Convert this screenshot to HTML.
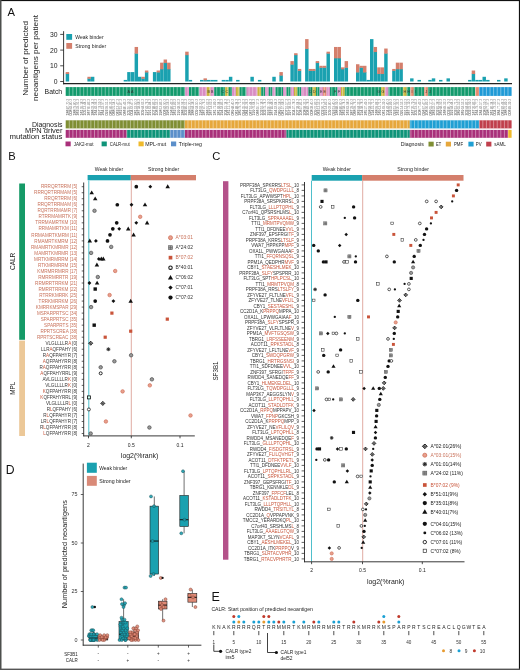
<!DOCTYPE html>
<html><head><meta charset="utf-8"><style>
html,body{margin:0;padding:0;background:#fff;}
svg{display:block;will-change:transform;}
text{font-family:"Liberation Sans", sans-serif;}
</style></head><body>
<svg width="520" height="670" viewBox="0 0 520 670">
<rect x="0" y="0" width="520" height="670" fill="#fff"/>
<text x="7.60" y="15.60" font-size="11.2" fill="#111" text-anchor="start" transform="scale(1,1)">A</text>
<text transform="translate(28.1,58.3) rotate(-90)" font-size="7" fill="#222" text-anchor="middle" textLength="75" lengthAdjust="spacingAndGlyphs">Number of predicted</text>
<text transform="translate(37.9,58.0) rotate(-90)" font-size="7" fill="#222" text-anchor="middle" textLength="86" lengthAdjust="spacingAndGlyphs">neoantigens per patient</text>
<line x1="60.20" y1="81.50" x2="63.60" y2="81.50" stroke="#222" stroke-width="0.8" />
<text x="57.60" y="83.90" font-size="6.8" fill="#222" text-anchor="end" >0</text>
<line x1="60.20" y1="65.80" x2="63.60" y2="65.80" stroke="#222" stroke-width="0.8" />
<text x="57.60" y="68.20" font-size="6.8" fill="#222" text-anchor="end" >10</text>
<line x1="60.20" y1="50.10" x2="63.60" y2="50.10" stroke="#222" stroke-width="0.8" />
<text x="57.60" y="52.50" font-size="6.8" fill="#222" text-anchor="end" >20</text>
<line x1="60.20" y1="34.40" x2="63.60" y2="34.40" stroke="#222" stroke-width="0.8" />
<text x="57.60" y="36.80" font-size="6.8" fill="#222" text-anchor="end" >30</text>
<line x1="63.60" y1="31.20" x2="63.60" y2="84.30" stroke="#222" stroke-width="0.9" />
<line x1="63.20" y1="83.70" x2="512.00" y2="83.70" stroke="#222" stroke-width="1.2" />
<rect x="66.30" y="34.00" width="5.80" height="5.80" fill="#1aa1b0" />
<rect x="66.30" y="43.00" width="5.80" height="5.80" fill="#d47f6c" />
<text x="75.30" y="38.70" font-size="5.0" fill="#222" text-anchor="start" textLength="28.3" lengthAdjust="spacingAndGlyphs">Weak binder</text>
<text x="75.30" y="47.70" font-size="5.0" fill="#222" text-anchor="start" textLength="30.8" lengthAdjust="spacingAndGlyphs">Strong binder</text>
<rect x="65.70" y="73.65" width="3.45" height="7.85" fill="#1aa1b0" />
<rect x="65.70" y="72.08" width="3.45" height="1.97" fill="#d47f6c" />
<rect x="87.40" y="78.36" width="3.45" height="3.14" fill="#1aa1b0" />
<rect x="87.40" y="76.79" width="3.45" height="1.97" fill="#d47f6c" />
<rect x="90.90" y="76.79" width="3.45" height="4.71" fill="#1aa1b0" />
<rect x="123.70" y="79.93" width="3.45" height="1.57" fill="#1aa1b0" />
<rect x="127.20" y="72.08" width="3.45" height="9.42" fill="#1aa1b0" />
<rect x="131.00" y="72.08" width="3.45" height="9.42" fill="#1aa1b0" />
<rect x="134.60" y="53.24" width="3.45" height="28.26" fill="#1aa1b0" />
<rect x="134.60" y="46.96" width="3.45" height="6.68" fill="#d47f6c" />
<rect x="138.00" y="76.79" width="3.45" height="4.71" fill="#1aa1b0" />
<rect x="141.40" y="78.36" width="3.45" height="3.14" fill="#1aa1b0" />
<rect x="141.40" y="76.79" width="3.45" height="1.97" fill="#d47f6c" />
<rect x="144.90" y="72.08" width="3.45" height="9.42" fill="#1aa1b0" />
<rect x="144.90" y="70.51" width="3.45" height="1.97" fill="#d47f6c" />
<rect x="152.90" y="72.08" width="3.45" height="9.42" fill="#1aa1b0" />
<rect x="156.60" y="72.08" width="3.45" height="9.42" fill="#1aa1b0" />
<rect x="156.60" y="70.51" width="3.45" height="1.97" fill="#d47f6c" />
<rect x="160.10" y="68.94" width="3.45" height="12.56" fill="#1aa1b0" />
<rect x="160.10" y="62.66" width="3.45" height="6.68" fill="#d47f6c" />
<rect x="163.60" y="62.66" width="3.45" height="18.84" fill="#1aa1b0" />
<rect x="163.60" y="59.52" width="3.45" height="3.54" fill="#d47f6c" />
<rect x="167.10" y="68.94" width="3.45" height="12.56" fill="#1aa1b0" />
<rect x="167.10" y="62.66" width="3.45" height="6.68" fill="#d47f6c" />
<rect x="185.20" y="54.81" width="3.45" height="26.69" fill="#1aa1b0" />
<rect x="185.20" y="51.67" width="3.45" height="3.54" fill="#d47f6c" />
<rect x="188.70" y="79.93" width="3.45" height="1.57" fill="#1aa1b0" />
<rect x="200.00" y="79.93" width="3.45" height="1.57" fill="#1aa1b0" />
<rect x="203.50" y="79.93" width="3.45" height="1.57" fill="#1aa1b0" />
<rect x="203.50" y="78.36" width="3.45" height="1.97" fill="#d47f6c" />
<rect x="207.00" y="79.93" width="3.45" height="1.57" fill="#1aa1b0" />
<rect x="210.50" y="79.93" width="3.45" height="1.57" fill="#1aa1b0" />
<rect x="214.00" y="79.93" width="3.45" height="1.57" fill="#1aa1b0" />
<rect x="221.70" y="79.93" width="3.45" height="1.57" fill="#1aa1b0" />
<rect x="225.30" y="79.93" width="3.45" height="1.57" fill="#1aa1b0" />
<rect x="228.90" y="76.79" width="3.45" height="4.71" fill="#1aa1b0" />
<rect x="236.10" y="79.93" width="3.45" height="1.57" fill="#1aa1b0" />
<rect x="250.40" y="76.79" width="3.45" height="4.71" fill="#1aa1b0" />
<rect x="257.90" y="79.93" width="3.45" height="1.57" fill="#1aa1b0" />
<rect x="272.30" y="76.79" width="3.45" height="4.71" fill="#1aa1b0" />
<rect x="279.40" y="75.22" width="3.45" height="6.28" fill="#1aa1b0" />
<rect x="279.40" y="72.08" width="3.45" height="3.54" fill="#d47f6c" />
<rect x="290.40" y="64.23" width="3.45" height="17.27" fill="#1aa1b0" />
<rect x="290.40" y="61.09" width="3.45" height="3.54" fill="#d47f6c" />
<rect x="294.10" y="54.81" width="3.45" height="26.69" fill="#1aa1b0" />
<rect x="294.10" y="53.24" width="3.45" height="1.97" fill="#d47f6c" />
<rect x="297.80" y="70.51" width="3.45" height="10.99" fill="#1aa1b0" />
<rect x="297.80" y="68.94" width="3.45" height="1.97" fill="#d47f6c" />
<rect x="305.10" y="48.53" width="3.45" height="32.97" fill="#1aa1b0" />
<rect x="305.10" y="39.11" width="3.45" height="9.82" fill="#d47f6c" />
<rect x="308.60" y="70.51" width="3.45" height="10.99" fill="#1aa1b0" />
<rect x="308.60" y="68.94" width="3.45" height="1.97" fill="#d47f6c" />
<rect x="312.10" y="70.51" width="3.45" height="10.99" fill="#1aa1b0" />
<rect x="312.10" y="68.94" width="3.45" height="1.97" fill="#d47f6c" />
<rect x="315.70" y="62.66" width="3.45" height="18.84" fill="#1aa1b0" />
<rect x="315.70" y="61.09" width="3.45" height="1.97" fill="#d47f6c" />
<rect x="319.30" y="67.37" width="3.45" height="14.13" fill="#1aa1b0" />
<rect x="319.30" y="65.80" width="3.45" height="1.97" fill="#d47f6c" />
<rect x="322.90" y="67.37" width="3.45" height="14.13" fill="#1aa1b0" />
<rect x="322.90" y="65.80" width="3.45" height="1.97" fill="#d47f6c" />
<rect x="326.50" y="53.24" width="3.45" height="28.26" fill="#1aa1b0" />
<rect x="326.50" y="51.67" width="3.45" height="1.97" fill="#d47f6c" />
<rect x="334.00" y="57.95" width="3.45" height="23.55" fill="#1aa1b0" />
<rect x="334.00" y="46.96" width="3.45" height="11.39" fill="#d47f6c" />
<rect x="337.50" y="57.95" width="3.45" height="23.55" fill="#1aa1b0" />
<rect x="337.50" y="46.96" width="3.45" height="11.39" fill="#d47f6c" />
<rect x="341.00" y="68.94" width="3.45" height="12.56" fill="#1aa1b0" />
<rect x="341.00" y="67.37" width="3.45" height="1.97" fill="#d47f6c" />
<rect x="344.60" y="67.37" width="3.45" height="14.13" fill="#1aa1b0" />
<rect x="344.60" y="61.09" width="3.45" height="6.68" fill="#d47f6c" />
<rect x="356.00" y="72.08" width="3.45" height="9.42" fill="#1aa1b0" />
<rect x="356.00" y="64.23" width="3.45" height="8.25" fill="#d47f6c" />
<rect x="359.50" y="67.37" width="3.45" height="14.13" fill="#1aa1b0" />
<rect x="359.50" y="65.80" width="3.45" height="1.97" fill="#d47f6c" />
<rect x="363.00" y="72.08" width="3.45" height="9.42" fill="#1aa1b0" />
<rect x="363.00" y="65.80" width="3.45" height="6.68" fill="#d47f6c" />
<rect x="366.50" y="79.93" width="3.45" height="1.57" fill="#1aa1b0" />
<rect x="370.00" y="39.11" width="3.45" height="42.39" fill="#1aa1b0" />
<rect x="373.60" y="51.67" width="3.45" height="29.83" fill="#1aa1b0" />
<rect x="373.60" y="46.96" width="3.45" height="5.11" fill="#d47f6c" />
<rect x="377.20" y="73.65" width="3.45" height="7.85" fill="#1aa1b0" />
<rect x="377.20" y="67.37" width="3.45" height="6.68" fill="#d47f6c" />
<rect x="380.70" y="73.65" width="3.45" height="7.85" fill="#1aa1b0" />
<rect x="380.70" y="67.37" width="3.45" height="6.68" fill="#d47f6c" />
<rect x="384.20" y="53.24" width="3.45" height="28.26" fill="#1aa1b0" />
<rect x="384.20" y="48.53" width="3.45" height="5.11" fill="#d47f6c" />
<rect x="392.20" y="70.51" width="3.45" height="10.99" fill="#1aa1b0" />
<rect x="392.20" y="68.94" width="3.45" height="1.97" fill="#d47f6c" />
<rect x="395.80" y="68.94" width="3.45" height="12.56" fill="#1aa1b0" />
<rect x="395.80" y="62.66" width="3.45" height="6.68" fill="#d47f6c" />
<rect x="399.40" y="68.94" width="3.45" height="12.56" fill="#1aa1b0" />
<rect x="399.40" y="62.66" width="3.45" height="6.68" fill="#d47f6c" />
<rect x="410.10" y="78.36" width="3.45" height="3.14" fill="#1aa1b0" />
<rect x="417.50" y="79.93" width="3.45" height="1.57" fill="#1aa1b0" />
<rect x="428.30" y="79.93" width="3.45" height="1.57" fill="#1aa1b0" />
<rect x="431.80" y="78.36" width="3.45" height="3.14" fill="#1aa1b0" />
<rect x="439.00" y="79.93" width="3.45" height="1.57" fill="#1aa1b0" />
<rect x="446.50" y="78.36" width="3.45" height="3.14" fill="#1aa1b0" />
<rect x="468.10" y="79.93" width="3.45" height="1.57" fill="#1aa1b0" />
<rect x="471.70" y="73.65" width="3.45" height="7.85" fill="#1aa1b0" />
<rect x="471.70" y="70.51" width="3.45" height="3.54" fill="#d47f6c" />
<rect x="475.30" y="79.93" width="3.45" height="1.57" fill="#1aa1b0" />
<rect x="478.90" y="79.93" width="3.45" height="1.57" fill="#1aa1b0" />
<rect x="482.50" y="76.79" width="3.45" height="4.71" fill="#1aa1b0" />
<rect x="486.10" y="79.93" width="3.45" height="1.57" fill="#1aa1b0" />
<rect x="497.00" y="79.93" width="3.45" height="1.57" fill="#1aa1b0" />
<rect x="504.20" y="78.36" width="3.45" height="3.14" fill="#1aa1b0" />
<rect x="65.70" y="87.10" width="119.50" height="8.80" fill="#129a6c" />
<rect x="185.20" y="87.10" width="3.80" height="8.80" fill="#d98cc3" />
<rect x="189.00" y="87.10" width="10.40" height="8.80" fill="#129a6c" />
<rect x="199.40" y="87.10" width="7.30" height="8.80" fill="#d98cc3" />
<rect x="206.70" y="87.10" width="3.80" height="8.80" fill="#c9b53a" />
<rect x="210.50" y="87.10" width="3.70" height="8.80" fill="#d98cc3" />
<rect x="214.20" y="87.10" width="11.00" height="8.80" fill="#129a6c" />
<rect x="225.20" y="87.10" width="3.40" height="8.80" fill="#c9b53a" />
<rect x="228.60" y="87.10" width="3.50" height="8.80" fill="#129a6c" />
<rect x="232.10" y="87.10" width="3.80" height="8.80" fill="#d98cc3" />
<rect x="235.90" y="87.10" width="3.70" height="8.80" fill="#c9b53a" />
<rect x="239.60" y="87.10" width="6.90" height="8.80" fill="#129a6c" />
<rect x="246.50" y="87.10" width="11.00" height="8.80" fill="#d98cc3" />
<rect x="257.50" y="87.10" width="3.70" height="8.80" fill="#c9b53a" />
<rect x="261.20" y="87.10" width="4.00" height="8.80" fill="#129a6c" />
<rect x="265.20" y="87.10" width="3.50" height="8.80" fill="#d98cc3" />
<rect x="268.70" y="87.10" width="3.80" height="8.80" fill="#129a6c" />
<rect x="272.50" y="87.10" width="3.10" height="8.80" fill="#d98cc3" />
<rect x="275.60" y="87.10" width="7.40" height="8.80" fill="#129a6c" />
<rect x="283.00" y="87.10" width="3.50" height="8.80" fill="#d98cc3" />
<rect x="286.50" y="87.10" width="4.10" height="8.80" fill="#129a6c" />
<rect x="290.60" y="87.10" width="3.40" height="8.80" fill="#d98cc3" />
<rect x="294.00" y="87.10" width="3.50" height="8.80" fill="#c9b53a" />
<rect x="297.50" y="87.10" width="3.80" height="8.80" fill="#129a6c" />
<rect x="301.30" y="87.10" width="7.10" height="8.80" fill="#d98cc3" />
<rect x="308.40" y="87.10" width="4.10" height="8.80" fill="#0e8a5e" />
<rect x="312.50" y="87.10" width="3.50" height="8.80" fill="#c9b53a" />
<rect x="316.00" y="87.10" width="3.60" height="8.80" fill="#129a6c" />
<rect x="319.60" y="87.10" width="3.50" height="8.80" fill="#d98cc3" />
<rect x="323.10" y="87.10" width="3.40" height="8.80" fill="#e58a6e" />
<rect x="326.50" y="87.10" width="3.50" height="8.80" fill="#d98cc3" />
<rect x="330.00" y="87.10" width="7.50" height="8.80" fill="#129a6c" />
<rect x="337.50" y="87.10" width="3.50" height="8.80" fill="#d98cc3" />
<rect x="341.00" y="87.10" width="3.80" height="8.80" fill="#c9b53a" />
<rect x="344.80" y="87.10" width="36.20" height="8.80" fill="#129a6c" />
<rect x="381.00" y="87.10" width="3.80" height="8.80" fill="#c9b53a" />
<rect x="384.80" y="87.10" width="3.70" height="8.80" fill="#d98cc3" />
<rect x="388.50" y="87.10" width="14.40" height="8.80" fill="#129a6c" />
<rect x="402.90" y="87.10" width="3.80" height="8.80" fill="#c9b53a" />
<rect x="406.70" y="87.10" width="3.70" height="8.80" fill="#129a6c" />
<rect x="410.40" y="87.10" width="3.40" height="8.80" fill="#e58a6e" />
<rect x="413.80" y="87.10" width="10.40" height="8.80" fill="#129a6c" />
<rect x="424.20" y="87.10" width="3.70" height="8.80" fill="#e58a6e" />
<rect x="427.90" y="87.10" width="47.30" height="8.80" fill="#129a6c" />
<rect x="475.20" y="87.10" width="3.80" height="8.80" fill="#e58a6e" />
<rect x="479.00" y="87.10" width="32.60" height="8.80" fill="#1f9ad6" />
<rect x="65.70" y="120.30" width="119.20" height="8.10" fill="#7f8e33" />
<rect x="184.90" y="120.30" width="224.90" height="8.10" fill="#e6a73b" />
<rect x="409.80" y="120.30" width="69.40" height="8.10" fill="#1f9fd3" />
<rect x="479.20" y="120.30" width="32.40" height="8.10" fill="#c03f4c" />
<rect x="65.70" y="129.90" width="61.10" height="7.90" fill="#a9307a" />
<rect x="126.80" y="129.90" width="43.30" height="7.90" fill="#0f9479" />
<rect x="170.10" y="129.90" width="14.90" height="7.90" fill="#5b8fca" />
<rect x="185.00" y="129.90" width="101.50" height="7.90" fill="#a9307a" />
<rect x="286.50" y="129.90" width="123.30" height="7.90" fill="#0f9479" />
<rect x="409.80" y="129.90" width="98.20" height="7.90" fill="#a9307a" />
<rect x="508.00" y="129.90" width="3.60" height="7.90" fill="#efba2c" />
<line x1="69.30" y1="87.10" x2="69.30" y2="95.90" stroke="#ffffff" stroke-width="0.55" stroke-opacity="0.75"/>
<line x1="69.30" y1="120.30" x2="69.30" y2="128.40" stroke="#ffffff" stroke-width="0.55" stroke-opacity="0.75"/>
<line x1="69.30" y1="129.90" x2="69.30" y2="137.80" stroke="#ffffff" stroke-width="0.55" stroke-opacity="0.75"/>
<line x1="72.89" y1="87.10" x2="72.89" y2="95.90" stroke="#ffffff" stroke-width="0.55" stroke-opacity="0.75"/>
<line x1="72.89" y1="120.30" x2="72.89" y2="128.40" stroke="#ffffff" stroke-width="0.55" stroke-opacity="0.75"/>
<line x1="72.89" y1="129.90" x2="72.89" y2="137.80" stroke="#ffffff" stroke-width="0.55" stroke-opacity="0.75"/>
<line x1="76.49" y1="87.10" x2="76.49" y2="95.90" stroke="#ffffff" stroke-width="0.55" stroke-opacity="0.75"/>
<line x1="76.49" y1="120.30" x2="76.49" y2="128.40" stroke="#ffffff" stroke-width="0.55" stroke-opacity="0.75"/>
<line x1="76.49" y1="129.90" x2="76.49" y2="137.80" stroke="#ffffff" stroke-width="0.55" stroke-opacity="0.75"/>
<line x1="80.08" y1="87.10" x2="80.08" y2="95.90" stroke="#ffffff" stroke-width="0.55" stroke-opacity="0.75"/>
<line x1="80.08" y1="120.30" x2="80.08" y2="128.40" stroke="#ffffff" stroke-width="0.55" stroke-opacity="0.75"/>
<line x1="80.08" y1="129.90" x2="80.08" y2="137.80" stroke="#ffffff" stroke-width="0.55" stroke-opacity="0.75"/>
<line x1="83.68" y1="87.10" x2="83.68" y2="95.90" stroke="#ffffff" stroke-width="0.55" stroke-opacity="0.75"/>
<line x1="83.68" y1="120.30" x2="83.68" y2="128.40" stroke="#ffffff" stroke-width="0.55" stroke-opacity="0.75"/>
<line x1="83.68" y1="129.90" x2="83.68" y2="137.80" stroke="#ffffff" stroke-width="0.55" stroke-opacity="0.75"/>
<line x1="87.28" y1="87.10" x2="87.28" y2="95.90" stroke="#ffffff" stroke-width="0.55" stroke-opacity="0.75"/>
<line x1="87.28" y1="120.30" x2="87.28" y2="128.40" stroke="#ffffff" stroke-width="0.55" stroke-opacity="0.75"/>
<line x1="87.28" y1="129.90" x2="87.28" y2="137.80" stroke="#ffffff" stroke-width="0.55" stroke-opacity="0.75"/>
<line x1="90.87" y1="87.10" x2="90.87" y2="95.90" stroke="#ffffff" stroke-width="0.55" stroke-opacity="0.75"/>
<line x1="90.87" y1="120.30" x2="90.87" y2="128.40" stroke="#ffffff" stroke-width="0.55" stroke-opacity="0.75"/>
<line x1="90.87" y1="129.90" x2="90.87" y2="137.80" stroke="#ffffff" stroke-width="0.55" stroke-opacity="0.75"/>
<line x1="94.47" y1="87.10" x2="94.47" y2="95.90" stroke="#ffffff" stroke-width="0.55" stroke-opacity="0.75"/>
<line x1="94.47" y1="120.30" x2="94.47" y2="128.40" stroke="#ffffff" stroke-width="0.55" stroke-opacity="0.75"/>
<line x1="94.47" y1="129.90" x2="94.47" y2="137.80" stroke="#ffffff" stroke-width="0.55" stroke-opacity="0.75"/>
<line x1="98.06" y1="87.10" x2="98.06" y2="95.90" stroke="#ffffff" stroke-width="0.55" stroke-opacity="0.75"/>
<line x1="98.06" y1="120.30" x2="98.06" y2="128.40" stroke="#ffffff" stroke-width="0.55" stroke-opacity="0.75"/>
<line x1="98.06" y1="129.90" x2="98.06" y2="137.80" stroke="#ffffff" stroke-width="0.55" stroke-opacity="0.75"/>
<line x1="101.66" y1="87.10" x2="101.66" y2="95.90" stroke="#ffffff" stroke-width="0.55" stroke-opacity="0.75"/>
<line x1="101.66" y1="120.30" x2="101.66" y2="128.40" stroke="#ffffff" stroke-width="0.55" stroke-opacity="0.75"/>
<line x1="101.66" y1="129.90" x2="101.66" y2="137.80" stroke="#ffffff" stroke-width="0.55" stroke-opacity="0.75"/>
<line x1="105.26" y1="87.10" x2="105.26" y2="95.90" stroke="#ffffff" stroke-width="0.55" stroke-opacity="0.75"/>
<line x1="105.26" y1="120.30" x2="105.26" y2="128.40" stroke="#ffffff" stroke-width="0.55" stroke-opacity="0.75"/>
<line x1="105.26" y1="129.90" x2="105.26" y2="137.80" stroke="#ffffff" stroke-width="0.55" stroke-opacity="0.75"/>
<line x1="108.85" y1="87.10" x2="108.85" y2="95.90" stroke="#ffffff" stroke-width="0.55" stroke-opacity="0.75"/>
<line x1="108.85" y1="120.30" x2="108.85" y2="128.40" stroke="#ffffff" stroke-width="0.55" stroke-opacity="0.75"/>
<line x1="108.85" y1="129.90" x2="108.85" y2="137.80" stroke="#ffffff" stroke-width="0.55" stroke-opacity="0.75"/>
<line x1="112.45" y1="87.10" x2="112.45" y2="95.90" stroke="#ffffff" stroke-width="0.55" stroke-opacity="0.75"/>
<line x1="112.45" y1="120.30" x2="112.45" y2="128.40" stroke="#ffffff" stroke-width="0.55" stroke-opacity="0.75"/>
<line x1="112.45" y1="129.90" x2="112.45" y2="137.80" stroke="#ffffff" stroke-width="0.55" stroke-opacity="0.75"/>
<line x1="116.04" y1="87.10" x2="116.04" y2="95.90" stroke="#ffffff" stroke-width="0.55" stroke-opacity="0.75"/>
<line x1="116.04" y1="120.30" x2="116.04" y2="128.40" stroke="#ffffff" stroke-width="0.55" stroke-opacity="0.75"/>
<line x1="116.04" y1="129.90" x2="116.04" y2="137.80" stroke="#ffffff" stroke-width="0.55" stroke-opacity="0.75"/>
<line x1="119.64" y1="87.10" x2="119.64" y2="95.90" stroke="#ffffff" stroke-width="0.55" stroke-opacity="0.75"/>
<line x1="119.64" y1="120.30" x2="119.64" y2="128.40" stroke="#ffffff" stroke-width="0.55" stroke-opacity="0.75"/>
<line x1="119.64" y1="129.90" x2="119.64" y2="137.80" stroke="#ffffff" stroke-width="0.55" stroke-opacity="0.75"/>
<line x1="123.24" y1="87.10" x2="123.24" y2="95.90" stroke="#ffffff" stroke-width="0.55" stroke-opacity="0.75"/>
<line x1="123.24" y1="120.30" x2="123.24" y2="128.40" stroke="#ffffff" stroke-width="0.55" stroke-opacity="0.75"/>
<line x1="123.24" y1="129.90" x2="123.24" y2="137.80" stroke="#ffffff" stroke-width="0.55" stroke-opacity="0.75"/>
<line x1="126.83" y1="87.10" x2="126.83" y2="95.90" stroke="#ffffff" stroke-width="0.55" stroke-opacity="0.75"/>
<line x1="126.83" y1="120.30" x2="126.83" y2="128.40" stroke="#ffffff" stroke-width="0.55" stroke-opacity="0.75"/>
<line x1="126.83" y1="129.90" x2="126.83" y2="137.80" stroke="#ffffff" stroke-width="0.55" stroke-opacity="0.75"/>
<line x1="130.43" y1="87.10" x2="130.43" y2="95.90" stroke="#ffffff" stroke-width="0.55" stroke-opacity="0.75"/>
<line x1="130.43" y1="120.30" x2="130.43" y2="128.40" stroke="#ffffff" stroke-width="0.55" stroke-opacity="0.75"/>
<line x1="130.43" y1="129.90" x2="130.43" y2="137.80" stroke="#ffffff" stroke-width="0.55" stroke-opacity="0.75"/>
<line x1="134.02" y1="87.10" x2="134.02" y2="95.90" stroke="#ffffff" stroke-width="0.55" stroke-opacity="0.75"/>
<line x1="134.02" y1="120.30" x2="134.02" y2="128.40" stroke="#ffffff" stroke-width="0.55" stroke-opacity="0.75"/>
<line x1="134.02" y1="129.90" x2="134.02" y2="137.80" stroke="#ffffff" stroke-width="0.55" stroke-opacity="0.75"/>
<line x1="137.62" y1="87.10" x2="137.62" y2="95.90" stroke="#ffffff" stroke-width="0.55" stroke-opacity="0.75"/>
<line x1="137.62" y1="120.30" x2="137.62" y2="128.40" stroke="#ffffff" stroke-width="0.55" stroke-opacity="0.75"/>
<line x1="137.62" y1="129.90" x2="137.62" y2="137.80" stroke="#ffffff" stroke-width="0.55" stroke-opacity="0.75"/>
<line x1="141.22" y1="87.10" x2="141.22" y2="95.90" stroke="#ffffff" stroke-width="0.55" stroke-opacity="0.75"/>
<line x1="141.22" y1="120.30" x2="141.22" y2="128.40" stroke="#ffffff" stroke-width="0.55" stroke-opacity="0.75"/>
<line x1="141.22" y1="129.90" x2="141.22" y2="137.80" stroke="#ffffff" stroke-width="0.55" stroke-opacity="0.75"/>
<line x1="144.81" y1="87.10" x2="144.81" y2="95.90" stroke="#ffffff" stroke-width="0.55" stroke-opacity="0.75"/>
<line x1="144.81" y1="120.30" x2="144.81" y2="128.40" stroke="#ffffff" stroke-width="0.55" stroke-opacity="0.75"/>
<line x1="144.81" y1="129.90" x2="144.81" y2="137.80" stroke="#ffffff" stroke-width="0.55" stroke-opacity="0.75"/>
<line x1="148.41" y1="87.10" x2="148.41" y2="95.90" stroke="#ffffff" stroke-width="0.55" stroke-opacity="0.75"/>
<line x1="148.41" y1="120.30" x2="148.41" y2="128.40" stroke="#ffffff" stroke-width="0.55" stroke-opacity="0.75"/>
<line x1="148.41" y1="129.90" x2="148.41" y2="137.80" stroke="#ffffff" stroke-width="0.55" stroke-opacity="0.75"/>
<line x1="152.00" y1="87.10" x2="152.00" y2="95.90" stroke="#ffffff" stroke-width="0.55" stroke-opacity="0.75"/>
<line x1="152.00" y1="120.30" x2="152.00" y2="128.40" stroke="#ffffff" stroke-width="0.55" stroke-opacity="0.75"/>
<line x1="152.00" y1="129.90" x2="152.00" y2="137.80" stroke="#ffffff" stroke-width="0.55" stroke-opacity="0.75"/>
<line x1="155.60" y1="87.10" x2="155.60" y2="95.90" stroke="#ffffff" stroke-width="0.55" stroke-opacity="0.75"/>
<line x1="155.60" y1="120.30" x2="155.60" y2="128.40" stroke="#ffffff" stroke-width="0.55" stroke-opacity="0.75"/>
<line x1="155.60" y1="129.90" x2="155.60" y2="137.80" stroke="#ffffff" stroke-width="0.55" stroke-opacity="0.75"/>
<line x1="159.20" y1="87.10" x2="159.20" y2="95.90" stroke="#ffffff" stroke-width="0.55" stroke-opacity="0.75"/>
<line x1="159.20" y1="120.30" x2="159.20" y2="128.40" stroke="#ffffff" stroke-width="0.55" stroke-opacity="0.75"/>
<line x1="159.20" y1="129.90" x2="159.20" y2="137.80" stroke="#ffffff" stroke-width="0.55" stroke-opacity="0.75"/>
<line x1="162.79" y1="87.10" x2="162.79" y2="95.90" stroke="#ffffff" stroke-width="0.55" stroke-opacity="0.75"/>
<line x1="162.79" y1="120.30" x2="162.79" y2="128.40" stroke="#ffffff" stroke-width="0.55" stroke-opacity="0.75"/>
<line x1="162.79" y1="129.90" x2="162.79" y2="137.80" stroke="#ffffff" stroke-width="0.55" stroke-opacity="0.75"/>
<line x1="166.39" y1="87.10" x2="166.39" y2="95.90" stroke="#ffffff" stroke-width="0.55" stroke-opacity="0.75"/>
<line x1="166.39" y1="120.30" x2="166.39" y2="128.40" stroke="#ffffff" stroke-width="0.55" stroke-opacity="0.75"/>
<line x1="166.39" y1="129.90" x2="166.39" y2="137.80" stroke="#ffffff" stroke-width="0.55" stroke-opacity="0.75"/>
<line x1="169.98" y1="87.10" x2="169.98" y2="95.90" stroke="#ffffff" stroke-width="0.55" stroke-opacity="0.75"/>
<line x1="169.98" y1="120.30" x2="169.98" y2="128.40" stroke="#ffffff" stroke-width="0.55" stroke-opacity="0.75"/>
<line x1="169.98" y1="129.90" x2="169.98" y2="137.80" stroke="#ffffff" stroke-width="0.55" stroke-opacity="0.75"/>
<line x1="173.58" y1="87.10" x2="173.58" y2="95.90" stroke="#ffffff" stroke-width="0.55" stroke-opacity="0.75"/>
<line x1="173.58" y1="120.30" x2="173.58" y2="128.40" stroke="#ffffff" stroke-width="0.55" stroke-opacity="0.75"/>
<line x1="173.58" y1="129.90" x2="173.58" y2="137.80" stroke="#ffffff" stroke-width="0.55" stroke-opacity="0.75"/>
<line x1="177.18" y1="87.10" x2="177.18" y2="95.90" stroke="#ffffff" stroke-width="0.55" stroke-opacity="0.75"/>
<line x1="177.18" y1="120.30" x2="177.18" y2="128.40" stroke="#ffffff" stroke-width="0.55" stroke-opacity="0.75"/>
<line x1="177.18" y1="129.90" x2="177.18" y2="137.80" stroke="#ffffff" stroke-width="0.55" stroke-opacity="0.75"/>
<line x1="180.77" y1="87.10" x2="180.77" y2="95.90" stroke="#ffffff" stroke-width="0.55" stroke-opacity="0.75"/>
<line x1="180.77" y1="120.30" x2="180.77" y2="128.40" stroke="#ffffff" stroke-width="0.55" stroke-opacity="0.75"/>
<line x1="180.77" y1="129.90" x2="180.77" y2="137.80" stroke="#ffffff" stroke-width="0.55" stroke-opacity="0.75"/>
<line x1="184.37" y1="87.10" x2="184.37" y2="95.90" stroke="#ffffff" stroke-width="0.55" stroke-opacity="0.75"/>
<line x1="184.37" y1="120.30" x2="184.37" y2="128.40" stroke="#ffffff" stroke-width="0.55" stroke-opacity="0.75"/>
<line x1="184.37" y1="129.90" x2="184.37" y2="137.80" stroke="#ffffff" stroke-width="0.55" stroke-opacity="0.75"/>
<line x1="187.96" y1="87.10" x2="187.96" y2="95.90" stroke="#ffffff" stroke-width="0.55" stroke-opacity="0.75"/>
<line x1="187.96" y1="120.30" x2="187.96" y2="128.40" stroke="#ffffff" stroke-width="0.55" stroke-opacity="0.75"/>
<line x1="187.96" y1="129.90" x2="187.96" y2="137.80" stroke="#ffffff" stroke-width="0.55" stroke-opacity="0.75"/>
<line x1="191.56" y1="87.10" x2="191.56" y2="95.90" stroke="#ffffff" stroke-width="0.55" stroke-opacity="0.75"/>
<line x1="191.56" y1="120.30" x2="191.56" y2="128.40" stroke="#ffffff" stroke-width="0.55" stroke-opacity="0.75"/>
<line x1="191.56" y1="129.90" x2="191.56" y2="137.80" stroke="#ffffff" stroke-width="0.55" stroke-opacity="0.75"/>
<line x1="195.15" y1="87.10" x2="195.15" y2="95.90" stroke="#ffffff" stroke-width="0.55" stroke-opacity="0.75"/>
<line x1="195.15" y1="120.30" x2="195.15" y2="128.40" stroke="#ffffff" stroke-width="0.55" stroke-opacity="0.75"/>
<line x1="195.15" y1="129.90" x2="195.15" y2="137.80" stroke="#ffffff" stroke-width="0.55" stroke-opacity="0.75"/>
<line x1="198.75" y1="87.10" x2="198.75" y2="95.90" stroke="#ffffff" stroke-width="0.55" stroke-opacity="0.75"/>
<line x1="198.75" y1="120.30" x2="198.75" y2="128.40" stroke="#ffffff" stroke-width="0.55" stroke-opacity="0.75"/>
<line x1="198.75" y1="129.90" x2="198.75" y2="137.80" stroke="#ffffff" stroke-width="0.55" stroke-opacity="0.75"/>
<line x1="202.35" y1="87.10" x2="202.35" y2="95.90" stroke="#ffffff" stroke-width="0.55" stroke-opacity="0.75"/>
<line x1="202.35" y1="120.30" x2="202.35" y2="128.40" stroke="#ffffff" stroke-width="0.55" stroke-opacity="0.75"/>
<line x1="202.35" y1="129.90" x2="202.35" y2="137.80" stroke="#ffffff" stroke-width="0.55" stroke-opacity="0.75"/>
<line x1="205.94" y1="87.10" x2="205.94" y2="95.90" stroke="#ffffff" stroke-width="0.55" stroke-opacity="0.75"/>
<line x1="205.94" y1="120.30" x2="205.94" y2="128.40" stroke="#ffffff" stroke-width="0.55" stroke-opacity="0.75"/>
<line x1="205.94" y1="129.90" x2="205.94" y2="137.80" stroke="#ffffff" stroke-width="0.55" stroke-opacity="0.75"/>
<line x1="209.54" y1="87.10" x2="209.54" y2="95.90" stroke="#ffffff" stroke-width="0.55" stroke-opacity="0.75"/>
<line x1="209.54" y1="120.30" x2="209.54" y2="128.40" stroke="#ffffff" stroke-width="0.55" stroke-opacity="0.75"/>
<line x1="209.54" y1="129.90" x2="209.54" y2="137.80" stroke="#ffffff" stroke-width="0.55" stroke-opacity="0.75"/>
<line x1="213.13" y1="87.10" x2="213.13" y2="95.90" stroke="#ffffff" stroke-width="0.55" stroke-opacity="0.75"/>
<line x1="213.13" y1="120.30" x2="213.13" y2="128.40" stroke="#ffffff" stroke-width="0.55" stroke-opacity="0.75"/>
<line x1="213.13" y1="129.90" x2="213.13" y2="137.80" stroke="#ffffff" stroke-width="0.55" stroke-opacity="0.75"/>
<line x1="216.73" y1="87.10" x2="216.73" y2="95.90" stroke="#ffffff" stroke-width="0.55" stroke-opacity="0.75"/>
<line x1="216.73" y1="120.30" x2="216.73" y2="128.40" stroke="#ffffff" stroke-width="0.55" stroke-opacity="0.75"/>
<line x1="216.73" y1="129.90" x2="216.73" y2="137.80" stroke="#ffffff" stroke-width="0.55" stroke-opacity="0.75"/>
<line x1="220.33" y1="87.10" x2="220.33" y2="95.90" stroke="#ffffff" stroke-width="0.55" stroke-opacity="0.75"/>
<line x1="220.33" y1="120.30" x2="220.33" y2="128.40" stroke="#ffffff" stroke-width="0.55" stroke-opacity="0.75"/>
<line x1="220.33" y1="129.90" x2="220.33" y2="137.80" stroke="#ffffff" stroke-width="0.55" stroke-opacity="0.75"/>
<line x1="223.92" y1="87.10" x2="223.92" y2="95.90" stroke="#ffffff" stroke-width="0.55" stroke-opacity="0.75"/>
<line x1="223.92" y1="120.30" x2="223.92" y2="128.40" stroke="#ffffff" stroke-width="0.55" stroke-opacity="0.75"/>
<line x1="223.92" y1="129.90" x2="223.92" y2="137.80" stroke="#ffffff" stroke-width="0.55" stroke-opacity="0.75"/>
<line x1="227.52" y1="87.10" x2="227.52" y2="95.90" stroke="#ffffff" stroke-width="0.55" stroke-opacity="0.75"/>
<line x1="227.52" y1="120.30" x2="227.52" y2="128.40" stroke="#ffffff" stroke-width="0.55" stroke-opacity="0.75"/>
<line x1="227.52" y1="129.90" x2="227.52" y2="137.80" stroke="#ffffff" stroke-width="0.55" stroke-opacity="0.75"/>
<line x1="231.11" y1="87.10" x2="231.11" y2="95.90" stroke="#ffffff" stroke-width="0.55" stroke-opacity="0.75"/>
<line x1="231.11" y1="120.30" x2="231.11" y2="128.40" stroke="#ffffff" stroke-width="0.55" stroke-opacity="0.75"/>
<line x1="231.11" y1="129.90" x2="231.11" y2="137.80" stroke="#ffffff" stroke-width="0.55" stroke-opacity="0.75"/>
<line x1="234.71" y1="87.10" x2="234.71" y2="95.90" stroke="#ffffff" stroke-width="0.55" stroke-opacity="0.75"/>
<line x1="234.71" y1="120.30" x2="234.71" y2="128.40" stroke="#ffffff" stroke-width="0.55" stroke-opacity="0.75"/>
<line x1="234.71" y1="129.90" x2="234.71" y2="137.80" stroke="#ffffff" stroke-width="0.55" stroke-opacity="0.75"/>
<line x1="238.31" y1="87.10" x2="238.31" y2="95.90" stroke="#ffffff" stroke-width="0.55" stroke-opacity="0.75"/>
<line x1="238.31" y1="120.30" x2="238.31" y2="128.40" stroke="#ffffff" stroke-width="0.55" stroke-opacity="0.75"/>
<line x1="238.31" y1="129.90" x2="238.31" y2="137.80" stroke="#ffffff" stroke-width="0.55" stroke-opacity="0.75"/>
<line x1="241.90" y1="87.10" x2="241.90" y2="95.90" stroke="#ffffff" stroke-width="0.55" stroke-opacity="0.75"/>
<line x1="241.90" y1="120.30" x2="241.90" y2="128.40" stroke="#ffffff" stroke-width="0.55" stroke-opacity="0.75"/>
<line x1="241.90" y1="129.90" x2="241.90" y2="137.80" stroke="#ffffff" stroke-width="0.55" stroke-opacity="0.75"/>
<line x1="245.50" y1="87.10" x2="245.50" y2="95.90" stroke="#ffffff" stroke-width="0.55" stroke-opacity="0.75"/>
<line x1="245.50" y1="120.30" x2="245.50" y2="128.40" stroke="#ffffff" stroke-width="0.55" stroke-opacity="0.75"/>
<line x1="245.50" y1="129.90" x2="245.50" y2="137.80" stroke="#ffffff" stroke-width="0.55" stroke-opacity="0.75"/>
<line x1="249.09" y1="87.10" x2="249.09" y2="95.90" stroke="#ffffff" stroke-width="0.55" stroke-opacity="0.75"/>
<line x1="249.09" y1="120.30" x2="249.09" y2="128.40" stroke="#ffffff" stroke-width="0.55" stroke-opacity="0.75"/>
<line x1="249.09" y1="129.90" x2="249.09" y2="137.80" stroke="#ffffff" stroke-width="0.55" stroke-opacity="0.75"/>
<line x1="252.69" y1="87.10" x2="252.69" y2="95.90" stroke="#ffffff" stroke-width="0.55" stroke-opacity="0.75"/>
<line x1="252.69" y1="120.30" x2="252.69" y2="128.40" stroke="#ffffff" stroke-width="0.55" stroke-opacity="0.75"/>
<line x1="252.69" y1="129.90" x2="252.69" y2="137.80" stroke="#ffffff" stroke-width="0.55" stroke-opacity="0.75"/>
<line x1="256.29" y1="87.10" x2="256.29" y2="95.90" stroke="#ffffff" stroke-width="0.55" stroke-opacity="0.75"/>
<line x1="256.29" y1="120.30" x2="256.29" y2="128.40" stroke="#ffffff" stroke-width="0.55" stroke-opacity="0.75"/>
<line x1="256.29" y1="129.90" x2="256.29" y2="137.80" stroke="#ffffff" stroke-width="0.55" stroke-opacity="0.75"/>
<line x1="259.88" y1="87.10" x2="259.88" y2="95.90" stroke="#ffffff" stroke-width="0.55" stroke-opacity="0.75"/>
<line x1="259.88" y1="120.30" x2="259.88" y2="128.40" stroke="#ffffff" stroke-width="0.55" stroke-opacity="0.75"/>
<line x1="259.88" y1="129.90" x2="259.88" y2="137.80" stroke="#ffffff" stroke-width="0.55" stroke-opacity="0.75"/>
<line x1="263.48" y1="87.10" x2="263.48" y2="95.90" stroke="#ffffff" stroke-width="0.55" stroke-opacity="0.75"/>
<line x1="263.48" y1="120.30" x2="263.48" y2="128.40" stroke="#ffffff" stroke-width="0.55" stroke-opacity="0.75"/>
<line x1="263.48" y1="129.90" x2="263.48" y2="137.80" stroke="#ffffff" stroke-width="0.55" stroke-opacity="0.75"/>
<line x1="267.07" y1="87.10" x2="267.07" y2="95.90" stroke="#ffffff" stroke-width="0.55" stroke-opacity="0.75"/>
<line x1="267.07" y1="120.30" x2="267.07" y2="128.40" stroke="#ffffff" stroke-width="0.55" stroke-opacity="0.75"/>
<line x1="267.07" y1="129.90" x2="267.07" y2="137.80" stroke="#ffffff" stroke-width="0.55" stroke-opacity="0.75"/>
<line x1="270.67" y1="87.10" x2="270.67" y2="95.90" stroke="#ffffff" stroke-width="0.55" stroke-opacity="0.75"/>
<line x1="270.67" y1="120.30" x2="270.67" y2="128.40" stroke="#ffffff" stroke-width="0.55" stroke-opacity="0.75"/>
<line x1="270.67" y1="129.90" x2="270.67" y2="137.80" stroke="#ffffff" stroke-width="0.55" stroke-opacity="0.75"/>
<line x1="274.27" y1="87.10" x2="274.27" y2="95.90" stroke="#ffffff" stroke-width="0.55" stroke-opacity="0.75"/>
<line x1="274.27" y1="120.30" x2="274.27" y2="128.40" stroke="#ffffff" stroke-width="0.55" stroke-opacity="0.75"/>
<line x1="274.27" y1="129.90" x2="274.27" y2="137.80" stroke="#ffffff" stroke-width="0.55" stroke-opacity="0.75"/>
<line x1="277.86" y1="87.10" x2="277.86" y2="95.90" stroke="#ffffff" stroke-width="0.55" stroke-opacity="0.75"/>
<line x1="277.86" y1="120.30" x2="277.86" y2="128.40" stroke="#ffffff" stroke-width="0.55" stroke-opacity="0.75"/>
<line x1="277.86" y1="129.90" x2="277.86" y2="137.80" stroke="#ffffff" stroke-width="0.55" stroke-opacity="0.75"/>
<line x1="281.46" y1="87.10" x2="281.46" y2="95.90" stroke="#ffffff" stroke-width="0.55" stroke-opacity="0.75"/>
<line x1="281.46" y1="120.30" x2="281.46" y2="128.40" stroke="#ffffff" stroke-width="0.55" stroke-opacity="0.75"/>
<line x1="281.46" y1="129.90" x2="281.46" y2="137.80" stroke="#ffffff" stroke-width="0.55" stroke-opacity="0.75"/>
<line x1="285.05" y1="87.10" x2="285.05" y2="95.90" stroke="#ffffff" stroke-width="0.55" stroke-opacity="0.75"/>
<line x1="285.05" y1="120.30" x2="285.05" y2="128.40" stroke="#ffffff" stroke-width="0.55" stroke-opacity="0.75"/>
<line x1="285.05" y1="129.90" x2="285.05" y2="137.80" stroke="#ffffff" stroke-width="0.55" stroke-opacity="0.75"/>
<line x1="288.65" y1="87.10" x2="288.65" y2="95.90" stroke="#ffffff" stroke-width="0.55" stroke-opacity="0.75"/>
<line x1="288.65" y1="120.30" x2="288.65" y2="128.40" stroke="#ffffff" stroke-width="0.55" stroke-opacity="0.75"/>
<line x1="288.65" y1="129.90" x2="288.65" y2="137.80" stroke="#ffffff" stroke-width="0.55" stroke-opacity="0.75"/>
<line x1="292.25" y1="87.10" x2="292.25" y2="95.90" stroke="#ffffff" stroke-width="0.55" stroke-opacity="0.75"/>
<line x1="292.25" y1="120.30" x2="292.25" y2="128.40" stroke="#ffffff" stroke-width="0.55" stroke-opacity="0.75"/>
<line x1="292.25" y1="129.90" x2="292.25" y2="137.80" stroke="#ffffff" stroke-width="0.55" stroke-opacity="0.75"/>
<line x1="295.84" y1="87.10" x2="295.84" y2="95.90" stroke="#ffffff" stroke-width="0.55" stroke-opacity="0.75"/>
<line x1="295.84" y1="120.30" x2="295.84" y2="128.40" stroke="#ffffff" stroke-width="0.55" stroke-opacity="0.75"/>
<line x1="295.84" y1="129.90" x2="295.84" y2="137.80" stroke="#ffffff" stroke-width="0.55" stroke-opacity="0.75"/>
<line x1="299.44" y1="87.10" x2="299.44" y2="95.90" stroke="#ffffff" stroke-width="0.55" stroke-opacity="0.75"/>
<line x1="299.44" y1="120.30" x2="299.44" y2="128.40" stroke="#ffffff" stroke-width="0.55" stroke-opacity="0.75"/>
<line x1="299.44" y1="129.90" x2="299.44" y2="137.80" stroke="#ffffff" stroke-width="0.55" stroke-opacity="0.75"/>
<line x1="303.03" y1="87.10" x2="303.03" y2="95.90" stroke="#ffffff" stroke-width="0.55" stroke-opacity="0.75"/>
<line x1="303.03" y1="120.30" x2="303.03" y2="128.40" stroke="#ffffff" stroke-width="0.55" stroke-opacity="0.75"/>
<line x1="303.03" y1="129.90" x2="303.03" y2="137.80" stroke="#ffffff" stroke-width="0.55" stroke-opacity="0.75"/>
<line x1="306.63" y1="87.10" x2="306.63" y2="95.90" stroke="#ffffff" stroke-width="0.55" stroke-opacity="0.75"/>
<line x1="306.63" y1="120.30" x2="306.63" y2="128.40" stroke="#ffffff" stroke-width="0.55" stroke-opacity="0.75"/>
<line x1="306.63" y1="129.90" x2="306.63" y2="137.80" stroke="#ffffff" stroke-width="0.55" stroke-opacity="0.75"/>
<line x1="310.23" y1="87.10" x2="310.23" y2="95.90" stroke="#ffffff" stroke-width="0.55" stroke-opacity="0.75"/>
<line x1="310.23" y1="120.30" x2="310.23" y2="128.40" stroke="#ffffff" stroke-width="0.55" stroke-opacity="0.75"/>
<line x1="310.23" y1="129.90" x2="310.23" y2="137.80" stroke="#ffffff" stroke-width="0.55" stroke-opacity="0.75"/>
<line x1="313.82" y1="87.10" x2="313.82" y2="95.90" stroke="#ffffff" stroke-width="0.55" stroke-opacity="0.75"/>
<line x1="313.82" y1="120.30" x2="313.82" y2="128.40" stroke="#ffffff" stroke-width="0.55" stroke-opacity="0.75"/>
<line x1="313.82" y1="129.90" x2="313.82" y2="137.80" stroke="#ffffff" stroke-width="0.55" stroke-opacity="0.75"/>
<line x1="317.42" y1="87.10" x2="317.42" y2="95.90" stroke="#ffffff" stroke-width="0.55" stroke-opacity="0.75"/>
<line x1="317.42" y1="120.30" x2="317.42" y2="128.40" stroke="#ffffff" stroke-width="0.55" stroke-opacity="0.75"/>
<line x1="317.42" y1="129.90" x2="317.42" y2="137.80" stroke="#ffffff" stroke-width="0.55" stroke-opacity="0.75"/>
<line x1="321.01" y1="87.10" x2="321.01" y2="95.90" stroke="#ffffff" stroke-width="0.55" stroke-opacity="0.75"/>
<line x1="321.01" y1="120.30" x2="321.01" y2="128.40" stroke="#ffffff" stroke-width="0.55" stroke-opacity="0.75"/>
<line x1="321.01" y1="129.90" x2="321.01" y2="137.80" stroke="#ffffff" stroke-width="0.55" stroke-opacity="0.75"/>
<line x1="324.61" y1="87.10" x2="324.61" y2="95.90" stroke="#ffffff" stroke-width="0.55" stroke-opacity="0.75"/>
<line x1="324.61" y1="120.30" x2="324.61" y2="128.40" stroke="#ffffff" stroke-width="0.55" stroke-opacity="0.75"/>
<line x1="324.61" y1="129.90" x2="324.61" y2="137.80" stroke="#ffffff" stroke-width="0.55" stroke-opacity="0.75"/>
<line x1="328.21" y1="87.10" x2="328.21" y2="95.90" stroke="#ffffff" stroke-width="0.55" stroke-opacity="0.75"/>
<line x1="328.21" y1="120.30" x2="328.21" y2="128.40" stroke="#ffffff" stroke-width="0.55" stroke-opacity="0.75"/>
<line x1="328.21" y1="129.90" x2="328.21" y2="137.80" stroke="#ffffff" stroke-width="0.55" stroke-opacity="0.75"/>
<line x1="331.80" y1="87.10" x2="331.80" y2="95.90" stroke="#ffffff" stroke-width="0.55" stroke-opacity="0.75"/>
<line x1="331.80" y1="120.30" x2="331.80" y2="128.40" stroke="#ffffff" stroke-width="0.55" stroke-opacity="0.75"/>
<line x1="331.80" y1="129.90" x2="331.80" y2="137.80" stroke="#ffffff" stroke-width="0.55" stroke-opacity="0.75"/>
<line x1="335.40" y1="87.10" x2="335.40" y2="95.90" stroke="#ffffff" stroke-width="0.55" stroke-opacity="0.75"/>
<line x1="335.40" y1="120.30" x2="335.40" y2="128.40" stroke="#ffffff" stroke-width="0.55" stroke-opacity="0.75"/>
<line x1="335.40" y1="129.90" x2="335.40" y2="137.80" stroke="#ffffff" stroke-width="0.55" stroke-opacity="0.75"/>
<line x1="338.99" y1="87.10" x2="338.99" y2="95.90" stroke="#ffffff" stroke-width="0.55" stroke-opacity="0.75"/>
<line x1="338.99" y1="120.30" x2="338.99" y2="128.40" stroke="#ffffff" stroke-width="0.55" stroke-opacity="0.75"/>
<line x1="338.99" y1="129.90" x2="338.99" y2="137.80" stroke="#ffffff" stroke-width="0.55" stroke-opacity="0.75"/>
<line x1="342.59" y1="87.10" x2="342.59" y2="95.90" stroke="#ffffff" stroke-width="0.55" stroke-opacity="0.75"/>
<line x1="342.59" y1="120.30" x2="342.59" y2="128.40" stroke="#ffffff" stroke-width="0.55" stroke-opacity="0.75"/>
<line x1="342.59" y1="129.90" x2="342.59" y2="137.80" stroke="#ffffff" stroke-width="0.55" stroke-opacity="0.75"/>
<line x1="346.19" y1="87.10" x2="346.19" y2="95.90" stroke="#ffffff" stroke-width="0.55" stroke-opacity="0.75"/>
<line x1="346.19" y1="120.30" x2="346.19" y2="128.40" stroke="#ffffff" stroke-width="0.55" stroke-opacity="0.75"/>
<line x1="346.19" y1="129.90" x2="346.19" y2="137.80" stroke="#ffffff" stroke-width="0.55" stroke-opacity="0.75"/>
<line x1="349.78" y1="87.10" x2="349.78" y2="95.90" stroke="#ffffff" stroke-width="0.55" stroke-opacity="0.75"/>
<line x1="349.78" y1="120.30" x2="349.78" y2="128.40" stroke="#ffffff" stroke-width="0.55" stroke-opacity="0.75"/>
<line x1="349.78" y1="129.90" x2="349.78" y2="137.80" stroke="#ffffff" stroke-width="0.55" stroke-opacity="0.75"/>
<line x1="353.38" y1="87.10" x2="353.38" y2="95.90" stroke="#ffffff" stroke-width="0.55" stroke-opacity="0.75"/>
<line x1="353.38" y1="120.30" x2="353.38" y2="128.40" stroke="#ffffff" stroke-width="0.55" stroke-opacity="0.75"/>
<line x1="353.38" y1="129.90" x2="353.38" y2="137.80" stroke="#ffffff" stroke-width="0.55" stroke-opacity="0.75"/>
<line x1="356.97" y1="87.10" x2="356.97" y2="95.90" stroke="#ffffff" stroke-width="0.55" stroke-opacity="0.75"/>
<line x1="356.97" y1="120.30" x2="356.97" y2="128.40" stroke="#ffffff" stroke-width="0.55" stroke-opacity="0.75"/>
<line x1="356.97" y1="129.90" x2="356.97" y2="137.80" stroke="#ffffff" stroke-width="0.55" stroke-opacity="0.75"/>
<line x1="360.57" y1="87.10" x2="360.57" y2="95.90" stroke="#ffffff" stroke-width="0.55" stroke-opacity="0.75"/>
<line x1="360.57" y1="120.30" x2="360.57" y2="128.40" stroke="#ffffff" stroke-width="0.55" stroke-opacity="0.75"/>
<line x1="360.57" y1="129.90" x2="360.57" y2="137.80" stroke="#ffffff" stroke-width="0.55" stroke-opacity="0.75"/>
<line x1="364.17" y1="87.10" x2="364.17" y2="95.90" stroke="#ffffff" stroke-width="0.55" stroke-opacity="0.75"/>
<line x1="364.17" y1="120.30" x2="364.17" y2="128.40" stroke="#ffffff" stroke-width="0.55" stroke-opacity="0.75"/>
<line x1="364.17" y1="129.90" x2="364.17" y2="137.80" stroke="#ffffff" stroke-width="0.55" stroke-opacity="0.75"/>
<line x1="367.76" y1="87.10" x2="367.76" y2="95.90" stroke="#ffffff" stroke-width="0.55" stroke-opacity="0.75"/>
<line x1="367.76" y1="120.30" x2="367.76" y2="128.40" stroke="#ffffff" stroke-width="0.55" stroke-opacity="0.75"/>
<line x1="367.76" y1="129.90" x2="367.76" y2="137.80" stroke="#ffffff" stroke-width="0.55" stroke-opacity="0.75"/>
<line x1="371.36" y1="87.10" x2="371.36" y2="95.90" stroke="#ffffff" stroke-width="0.55" stroke-opacity="0.75"/>
<line x1="371.36" y1="120.30" x2="371.36" y2="128.40" stroke="#ffffff" stroke-width="0.55" stroke-opacity="0.75"/>
<line x1="371.36" y1="129.90" x2="371.36" y2="137.80" stroke="#ffffff" stroke-width="0.55" stroke-opacity="0.75"/>
<line x1="374.95" y1="87.10" x2="374.95" y2="95.90" stroke="#ffffff" stroke-width="0.55" stroke-opacity="0.75"/>
<line x1="374.95" y1="120.30" x2="374.95" y2="128.40" stroke="#ffffff" stroke-width="0.55" stroke-opacity="0.75"/>
<line x1="374.95" y1="129.90" x2="374.95" y2="137.80" stroke="#ffffff" stroke-width="0.55" stroke-opacity="0.75"/>
<line x1="378.55" y1="87.10" x2="378.55" y2="95.90" stroke="#ffffff" stroke-width="0.55" stroke-opacity="0.75"/>
<line x1="378.55" y1="120.30" x2="378.55" y2="128.40" stroke="#ffffff" stroke-width="0.55" stroke-opacity="0.75"/>
<line x1="378.55" y1="129.90" x2="378.55" y2="137.80" stroke="#ffffff" stroke-width="0.55" stroke-opacity="0.75"/>
<line x1="382.15" y1="87.10" x2="382.15" y2="95.90" stroke="#ffffff" stroke-width="0.55" stroke-opacity="0.75"/>
<line x1="382.15" y1="120.30" x2="382.15" y2="128.40" stroke="#ffffff" stroke-width="0.55" stroke-opacity="0.75"/>
<line x1="382.15" y1="129.90" x2="382.15" y2="137.80" stroke="#ffffff" stroke-width="0.55" stroke-opacity="0.75"/>
<line x1="385.74" y1="87.10" x2="385.74" y2="95.90" stroke="#ffffff" stroke-width="0.55" stroke-opacity="0.75"/>
<line x1="385.74" y1="120.30" x2="385.74" y2="128.40" stroke="#ffffff" stroke-width="0.55" stroke-opacity="0.75"/>
<line x1="385.74" y1="129.90" x2="385.74" y2="137.80" stroke="#ffffff" stroke-width="0.55" stroke-opacity="0.75"/>
<line x1="389.34" y1="87.10" x2="389.34" y2="95.90" stroke="#ffffff" stroke-width="0.55" stroke-opacity="0.75"/>
<line x1="389.34" y1="120.30" x2="389.34" y2="128.40" stroke="#ffffff" stroke-width="0.55" stroke-opacity="0.75"/>
<line x1="389.34" y1="129.90" x2="389.34" y2="137.80" stroke="#ffffff" stroke-width="0.55" stroke-opacity="0.75"/>
<line x1="392.93" y1="87.10" x2="392.93" y2="95.90" stroke="#ffffff" stroke-width="0.55" stroke-opacity="0.75"/>
<line x1="392.93" y1="120.30" x2="392.93" y2="128.40" stroke="#ffffff" stroke-width="0.55" stroke-opacity="0.75"/>
<line x1="392.93" y1="129.90" x2="392.93" y2="137.80" stroke="#ffffff" stroke-width="0.55" stroke-opacity="0.75"/>
<line x1="396.53" y1="87.10" x2="396.53" y2="95.90" stroke="#ffffff" stroke-width="0.55" stroke-opacity="0.75"/>
<line x1="396.53" y1="120.30" x2="396.53" y2="128.40" stroke="#ffffff" stroke-width="0.55" stroke-opacity="0.75"/>
<line x1="396.53" y1="129.90" x2="396.53" y2="137.80" stroke="#ffffff" stroke-width="0.55" stroke-opacity="0.75"/>
<line x1="400.12" y1="87.10" x2="400.12" y2="95.90" stroke="#ffffff" stroke-width="0.55" stroke-opacity="0.75"/>
<line x1="400.12" y1="120.30" x2="400.12" y2="128.40" stroke="#ffffff" stroke-width="0.55" stroke-opacity="0.75"/>
<line x1="400.12" y1="129.90" x2="400.12" y2="137.80" stroke="#ffffff" stroke-width="0.55" stroke-opacity="0.75"/>
<line x1="403.72" y1="87.10" x2="403.72" y2="95.90" stroke="#ffffff" stroke-width="0.55" stroke-opacity="0.75"/>
<line x1="403.72" y1="120.30" x2="403.72" y2="128.40" stroke="#ffffff" stroke-width="0.55" stroke-opacity="0.75"/>
<line x1="403.72" y1="129.90" x2="403.72" y2="137.80" stroke="#ffffff" stroke-width="0.55" stroke-opacity="0.75"/>
<line x1="407.32" y1="87.10" x2="407.32" y2="95.90" stroke="#ffffff" stroke-width="0.55" stroke-opacity="0.75"/>
<line x1="407.32" y1="120.30" x2="407.32" y2="128.40" stroke="#ffffff" stroke-width="0.55" stroke-opacity="0.75"/>
<line x1="407.32" y1="129.90" x2="407.32" y2="137.80" stroke="#ffffff" stroke-width="0.55" stroke-opacity="0.75"/>
<line x1="410.91" y1="87.10" x2="410.91" y2="95.90" stroke="#ffffff" stroke-width="0.55" stroke-opacity="0.75"/>
<line x1="410.91" y1="120.30" x2="410.91" y2="128.40" stroke="#ffffff" stroke-width="0.55" stroke-opacity="0.75"/>
<line x1="410.91" y1="129.90" x2="410.91" y2="137.80" stroke="#ffffff" stroke-width="0.55" stroke-opacity="0.75"/>
<line x1="414.51" y1="87.10" x2="414.51" y2="95.90" stroke="#ffffff" stroke-width="0.55" stroke-opacity="0.75"/>
<line x1="414.51" y1="120.30" x2="414.51" y2="128.40" stroke="#ffffff" stroke-width="0.55" stroke-opacity="0.75"/>
<line x1="414.51" y1="129.90" x2="414.51" y2="137.80" stroke="#ffffff" stroke-width="0.55" stroke-opacity="0.75"/>
<line x1="418.10" y1="87.10" x2="418.10" y2="95.90" stroke="#ffffff" stroke-width="0.55" stroke-opacity="0.75"/>
<line x1="418.10" y1="120.30" x2="418.10" y2="128.40" stroke="#ffffff" stroke-width="0.55" stroke-opacity="0.75"/>
<line x1="418.10" y1="129.90" x2="418.10" y2="137.80" stroke="#ffffff" stroke-width="0.55" stroke-opacity="0.75"/>
<line x1="421.70" y1="87.10" x2="421.70" y2="95.90" stroke="#ffffff" stroke-width="0.55" stroke-opacity="0.75"/>
<line x1="421.70" y1="120.30" x2="421.70" y2="128.40" stroke="#ffffff" stroke-width="0.55" stroke-opacity="0.75"/>
<line x1="421.70" y1="129.90" x2="421.70" y2="137.80" stroke="#ffffff" stroke-width="0.55" stroke-opacity="0.75"/>
<line x1="425.30" y1="87.10" x2="425.30" y2="95.90" stroke="#ffffff" stroke-width="0.55" stroke-opacity="0.75"/>
<line x1="425.30" y1="120.30" x2="425.30" y2="128.40" stroke="#ffffff" stroke-width="0.55" stroke-opacity="0.75"/>
<line x1="425.30" y1="129.90" x2="425.30" y2="137.80" stroke="#ffffff" stroke-width="0.55" stroke-opacity="0.75"/>
<line x1="428.89" y1="87.10" x2="428.89" y2="95.90" stroke="#ffffff" stroke-width="0.55" stroke-opacity="0.75"/>
<line x1="428.89" y1="120.30" x2="428.89" y2="128.40" stroke="#ffffff" stroke-width="0.55" stroke-opacity="0.75"/>
<line x1="428.89" y1="129.90" x2="428.89" y2="137.80" stroke="#ffffff" stroke-width="0.55" stroke-opacity="0.75"/>
<line x1="432.49" y1="87.10" x2="432.49" y2="95.90" stroke="#ffffff" stroke-width="0.55" stroke-opacity="0.75"/>
<line x1="432.49" y1="120.30" x2="432.49" y2="128.40" stroke="#ffffff" stroke-width="0.55" stroke-opacity="0.75"/>
<line x1="432.49" y1="129.90" x2="432.49" y2="137.80" stroke="#ffffff" stroke-width="0.55" stroke-opacity="0.75"/>
<line x1="436.08" y1="87.10" x2="436.08" y2="95.90" stroke="#ffffff" stroke-width="0.55" stroke-opacity="0.75"/>
<line x1="436.08" y1="120.30" x2="436.08" y2="128.40" stroke="#ffffff" stroke-width="0.55" stroke-opacity="0.75"/>
<line x1="436.08" y1="129.90" x2="436.08" y2="137.80" stroke="#ffffff" stroke-width="0.55" stroke-opacity="0.75"/>
<line x1="439.68" y1="87.10" x2="439.68" y2="95.90" stroke="#ffffff" stroke-width="0.55" stroke-opacity="0.75"/>
<line x1="439.68" y1="120.30" x2="439.68" y2="128.40" stroke="#ffffff" stroke-width="0.55" stroke-opacity="0.75"/>
<line x1="439.68" y1="129.90" x2="439.68" y2="137.80" stroke="#ffffff" stroke-width="0.55" stroke-opacity="0.75"/>
<line x1="443.28" y1="87.10" x2="443.28" y2="95.90" stroke="#ffffff" stroke-width="0.55" stroke-opacity="0.75"/>
<line x1="443.28" y1="120.30" x2="443.28" y2="128.40" stroke="#ffffff" stroke-width="0.55" stroke-opacity="0.75"/>
<line x1="443.28" y1="129.90" x2="443.28" y2="137.80" stroke="#ffffff" stroke-width="0.55" stroke-opacity="0.75"/>
<line x1="446.87" y1="87.10" x2="446.87" y2="95.90" stroke="#ffffff" stroke-width="0.55" stroke-opacity="0.75"/>
<line x1="446.87" y1="120.30" x2="446.87" y2="128.40" stroke="#ffffff" stroke-width="0.55" stroke-opacity="0.75"/>
<line x1="446.87" y1="129.90" x2="446.87" y2="137.80" stroke="#ffffff" stroke-width="0.55" stroke-opacity="0.75"/>
<line x1="450.47" y1="87.10" x2="450.47" y2="95.90" stroke="#ffffff" stroke-width="0.55" stroke-opacity="0.75"/>
<line x1="450.47" y1="120.30" x2="450.47" y2="128.40" stroke="#ffffff" stroke-width="0.55" stroke-opacity="0.75"/>
<line x1="450.47" y1="129.90" x2="450.47" y2="137.80" stroke="#ffffff" stroke-width="0.55" stroke-opacity="0.75"/>
<line x1="454.06" y1="87.10" x2="454.06" y2="95.90" stroke="#ffffff" stroke-width="0.55" stroke-opacity="0.75"/>
<line x1="454.06" y1="120.30" x2="454.06" y2="128.40" stroke="#ffffff" stroke-width="0.55" stroke-opacity="0.75"/>
<line x1="454.06" y1="129.90" x2="454.06" y2="137.80" stroke="#ffffff" stroke-width="0.55" stroke-opacity="0.75"/>
<line x1="457.66" y1="87.10" x2="457.66" y2="95.90" stroke="#ffffff" stroke-width="0.55" stroke-opacity="0.75"/>
<line x1="457.66" y1="120.30" x2="457.66" y2="128.40" stroke="#ffffff" stroke-width="0.55" stroke-opacity="0.75"/>
<line x1="457.66" y1="129.90" x2="457.66" y2="137.80" stroke="#ffffff" stroke-width="0.55" stroke-opacity="0.75"/>
<line x1="461.26" y1="87.10" x2="461.26" y2="95.90" stroke="#ffffff" stroke-width="0.55" stroke-opacity="0.75"/>
<line x1="461.26" y1="120.30" x2="461.26" y2="128.40" stroke="#ffffff" stroke-width="0.55" stroke-opacity="0.75"/>
<line x1="461.26" y1="129.90" x2="461.26" y2="137.80" stroke="#ffffff" stroke-width="0.55" stroke-opacity="0.75"/>
<line x1="464.85" y1="87.10" x2="464.85" y2="95.90" stroke="#ffffff" stroke-width="0.55" stroke-opacity="0.75"/>
<line x1="464.85" y1="120.30" x2="464.85" y2="128.40" stroke="#ffffff" stroke-width="0.55" stroke-opacity="0.75"/>
<line x1="464.85" y1="129.90" x2="464.85" y2="137.80" stroke="#ffffff" stroke-width="0.55" stroke-opacity="0.75"/>
<line x1="468.45" y1="87.10" x2="468.45" y2="95.90" stroke="#ffffff" stroke-width="0.55" stroke-opacity="0.75"/>
<line x1="468.45" y1="120.30" x2="468.45" y2="128.40" stroke="#ffffff" stroke-width="0.55" stroke-opacity="0.75"/>
<line x1="468.45" y1="129.90" x2="468.45" y2="137.80" stroke="#ffffff" stroke-width="0.55" stroke-opacity="0.75"/>
<line x1="472.04" y1="87.10" x2="472.04" y2="95.90" stroke="#ffffff" stroke-width="0.55" stroke-opacity="0.75"/>
<line x1="472.04" y1="120.30" x2="472.04" y2="128.40" stroke="#ffffff" stroke-width="0.55" stroke-opacity="0.75"/>
<line x1="472.04" y1="129.90" x2="472.04" y2="137.80" stroke="#ffffff" stroke-width="0.55" stroke-opacity="0.75"/>
<line x1="475.64" y1="87.10" x2="475.64" y2="95.90" stroke="#ffffff" stroke-width="0.55" stroke-opacity="0.75"/>
<line x1="475.64" y1="120.30" x2="475.64" y2="128.40" stroke="#ffffff" stroke-width="0.55" stroke-opacity="0.75"/>
<line x1="475.64" y1="129.90" x2="475.64" y2="137.80" stroke="#ffffff" stroke-width="0.55" stroke-opacity="0.75"/>
<line x1="479.24" y1="87.10" x2="479.24" y2="95.90" stroke="#ffffff" stroke-width="0.55" stroke-opacity="0.75"/>
<line x1="479.24" y1="120.30" x2="479.24" y2="128.40" stroke="#ffffff" stroke-width="0.55" stroke-opacity="0.75"/>
<line x1="479.24" y1="129.90" x2="479.24" y2="137.80" stroke="#ffffff" stroke-width="0.55" stroke-opacity="0.75"/>
<line x1="482.83" y1="87.10" x2="482.83" y2="95.90" stroke="#ffffff" stroke-width="0.55" stroke-opacity="0.75"/>
<line x1="482.83" y1="120.30" x2="482.83" y2="128.40" stroke="#ffffff" stroke-width="0.55" stroke-opacity="0.75"/>
<line x1="482.83" y1="129.90" x2="482.83" y2="137.80" stroke="#ffffff" stroke-width="0.55" stroke-opacity="0.75"/>
<line x1="486.43" y1="87.10" x2="486.43" y2="95.90" stroke="#ffffff" stroke-width="0.55" stroke-opacity="0.75"/>
<line x1="486.43" y1="120.30" x2="486.43" y2="128.40" stroke="#ffffff" stroke-width="0.55" stroke-opacity="0.75"/>
<line x1="486.43" y1="129.90" x2="486.43" y2="137.80" stroke="#ffffff" stroke-width="0.55" stroke-opacity="0.75"/>
<line x1="490.02" y1="87.10" x2="490.02" y2="95.90" stroke="#ffffff" stroke-width="0.55" stroke-opacity="0.75"/>
<line x1="490.02" y1="120.30" x2="490.02" y2="128.40" stroke="#ffffff" stroke-width="0.55" stroke-opacity="0.75"/>
<line x1="490.02" y1="129.90" x2="490.02" y2="137.80" stroke="#ffffff" stroke-width="0.55" stroke-opacity="0.75"/>
<line x1="493.62" y1="87.10" x2="493.62" y2="95.90" stroke="#ffffff" stroke-width="0.55" stroke-opacity="0.75"/>
<line x1="493.62" y1="120.30" x2="493.62" y2="128.40" stroke="#ffffff" stroke-width="0.55" stroke-opacity="0.75"/>
<line x1="493.62" y1="129.90" x2="493.62" y2="137.80" stroke="#ffffff" stroke-width="0.55" stroke-opacity="0.75"/>
<line x1="497.22" y1="87.10" x2="497.22" y2="95.90" stroke="#ffffff" stroke-width="0.55" stroke-opacity="0.75"/>
<line x1="497.22" y1="120.30" x2="497.22" y2="128.40" stroke="#ffffff" stroke-width="0.55" stroke-opacity="0.75"/>
<line x1="497.22" y1="129.90" x2="497.22" y2="137.80" stroke="#ffffff" stroke-width="0.55" stroke-opacity="0.75"/>
<line x1="500.81" y1="87.10" x2="500.81" y2="95.90" stroke="#ffffff" stroke-width="0.55" stroke-opacity="0.75"/>
<line x1="500.81" y1="120.30" x2="500.81" y2="128.40" stroke="#ffffff" stroke-width="0.55" stroke-opacity="0.75"/>
<line x1="500.81" y1="129.90" x2="500.81" y2="137.80" stroke="#ffffff" stroke-width="0.55" stroke-opacity="0.75"/>
<line x1="504.41" y1="87.10" x2="504.41" y2="95.90" stroke="#ffffff" stroke-width="0.55" stroke-opacity="0.75"/>
<line x1="504.41" y1="120.30" x2="504.41" y2="128.40" stroke="#ffffff" stroke-width="0.55" stroke-opacity="0.75"/>
<line x1="504.41" y1="129.90" x2="504.41" y2="137.80" stroke="#ffffff" stroke-width="0.55" stroke-opacity="0.75"/>
<line x1="508.00" y1="87.10" x2="508.00" y2="95.90" stroke="#ffffff" stroke-width="0.55" stroke-opacity="0.75"/>
<line x1="508.00" y1="120.30" x2="508.00" y2="128.40" stroke="#ffffff" stroke-width="0.55" stroke-opacity="0.75"/>
<line x1="508.00" y1="129.90" x2="508.00" y2="137.80" stroke="#ffffff" stroke-width="0.55" stroke-opacity="0.75"/>
<text x="128.60" y="92.80" font-size="3.6" fill="#333" text-anchor="middle" >A</text>
<text x="132.10" y="92.80" font-size="3.6" fill="#333" text-anchor="middle" >A</text>
<text x="208.60" y="92.80" font-size="3.6" fill="#333" text-anchor="middle" >B</text>
<text x="212.30" y="92.80" font-size="3.6" fill="#333" text-anchor="middle" >B</text>
<text x="222.90" y="92.80" font-size="3.6" fill="#333" text-anchor="middle" >C</text>
<text x="226.90" y="92.80" font-size="3.6" fill="#333" text-anchor="middle" >C</text>
<text x="310.50" y="92.80" font-size="3.6" fill="#333" text-anchor="middle" >D</text>
<text x="314.20" y="92.80" font-size="3.6" fill="#333" text-anchor="middle" >D</text>
<text x="321.30" y="92.80" font-size="3.6" fill="#333" text-anchor="middle" >E</text>
<text x="324.80" y="92.80" font-size="3.6" fill="#333" text-anchor="middle" >E</text>
<text x="335.00" y="92.80" font-size="3.6" fill="#333" text-anchor="middle" >F</text>
<text x="339.20" y="92.80" font-size="3.6" fill="#333" text-anchor="middle" >F</text>
<text x="378.60" y="92.80" font-size="3.6" fill="#333" text-anchor="middle" >G</text>
<text x="383.00" y="92.80" font-size="3.6" fill="#333" text-anchor="middle" >G</text>
<text x="404.80" y="92.80" font-size="3.6" fill="#333" text-anchor="middle" >H</text>
<text x="408.50" y="92.80" font-size="3.6" fill="#333" text-anchor="middle" >H</text>
<text x="412.10" y="92.80" font-size="3.6" fill="#333" text-anchor="middle" >I</text>
<text x="415.60" y="92.80" font-size="3.6" fill="#333" text-anchor="middle" >I</text>
<text x="426.10" y="92.80" font-size="3.6" fill="#333" text-anchor="middle" >J</text>
<text x="429.80" y="92.80" font-size="3.6" fill="#333" text-anchor="middle" >J</text>
<text transform="translate(68.50,115.6) rotate(-90)" font-size="3.6" fill="#333" textLength="6" lengthAdjust="spacingAndGlyphs">186</text>
<text transform="translate(68.50,109.0) rotate(-90)" font-size="3.4" fill="#777" textLength="10" lengthAdjust="spacingAndGlyphs">87-70-2</text>
<text transform="translate(72.09,115.6) rotate(-90)" font-size="3.6" fill="#333" textLength="6" lengthAdjust="spacingAndGlyphs">008</text>
<text transform="translate(72.09,109.0) rotate(-90)" font-size="3.4" fill="#777" textLength="10" lengthAdjust="spacingAndGlyphs">43-80-2</text>
<text transform="translate(75.69,115.6) rotate(-90)" font-size="3.6" fill="#333" textLength="6" lengthAdjust="spacingAndGlyphs">188</text>
<text transform="translate(75.69,109.0) rotate(-90)" font-size="3.4" fill="#777" textLength="10" lengthAdjust="spacingAndGlyphs">79-80-2</text>
<text transform="translate(79.29,115.6) rotate(-90)" font-size="3.6" fill="#333" textLength="6" lengthAdjust="spacingAndGlyphs">363</text>
<text transform="translate(79.29,109.0) rotate(-90)" font-size="3.4" fill="#777" textLength="10" lengthAdjust="spacingAndGlyphs">39-91-2</text>
<text transform="translate(82.88,115.6) rotate(-90)" font-size="3.6" fill="#333" textLength="6" lengthAdjust="spacingAndGlyphs">161</text>
<text transform="translate(82.88,109.0) rotate(-90)" font-size="3.4" fill="#777" textLength="10" lengthAdjust="spacingAndGlyphs">95-18-2</text>
<text transform="translate(86.48,115.6) rotate(-90)" font-size="3.6" fill="#333" textLength="6" lengthAdjust="spacingAndGlyphs">105</text>
<text transform="translate(86.48,109.0) rotate(-90)" font-size="3.4" fill="#777" textLength="10" lengthAdjust="spacingAndGlyphs">13-44-2</text>
<text transform="translate(90.07,115.6) rotate(-90)" font-size="3.6" fill="#333" textLength="6" lengthAdjust="spacingAndGlyphs">367</text>
<text transform="translate(90.07,109.0) rotate(-90)" font-size="3.4" fill="#777" textLength="10" lengthAdjust="spacingAndGlyphs">60-83-2</text>
<text transform="translate(93.67,115.6) rotate(-90)" font-size="3.6" fill="#333" textLength="6" lengthAdjust="spacingAndGlyphs">386</text>
<text transform="translate(93.67,109.0) rotate(-90)" font-size="3.4" fill="#777" textLength="10" lengthAdjust="spacingAndGlyphs">22-14-2</text>
<text transform="translate(97.27,115.6) rotate(-90)" font-size="3.6" fill="#333" textLength="6" lengthAdjust="spacingAndGlyphs">164</text>
<text transform="translate(97.27,109.0) rotate(-90)" font-size="3.4" fill="#777" textLength="10" lengthAdjust="spacingAndGlyphs">43-96-2</text>
<text transform="translate(100.86,115.6) rotate(-90)" font-size="3.6" fill="#333" textLength="6" lengthAdjust="spacingAndGlyphs">397</text>
<text transform="translate(100.86,109.0) rotate(-90)" font-size="3.4" fill="#777" textLength="10" lengthAdjust="spacingAndGlyphs">74-59-2</text>
<text transform="translate(104.46,115.6) rotate(-90)" font-size="3.6" fill="#333" textLength="6" lengthAdjust="spacingAndGlyphs">264</text>
<text transform="translate(104.46,109.0) rotate(-90)" font-size="3.4" fill="#777" textLength="10" lengthAdjust="spacingAndGlyphs">53-97-2</text>
<text transform="translate(108.05,115.6) rotate(-90)" font-size="3.6" fill="#333" textLength="6" lengthAdjust="spacingAndGlyphs">093</text>
<text transform="translate(108.05,109.0) rotate(-90)" font-size="3.4" fill="#777" textLength="10" lengthAdjust="spacingAndGlyphs">99-51-2</text>
<text transform="translate(111.65,115.6) rotate(-90)" font-size="3.6" fill="#333" textLength="6" lengthAdjust="spacingAndGlyphs">085</text>
<text transform="translate(111.65,109.0) rotate(-90)" font-size="3.4" fill="#777" textLength="10" lengthAdjust="spacingAndGlyphs">46-25-2</text>
<text transform="translate(115.25,115.6) rotate(-90)" font-size="3.6" fill="#333" textLength="6" lengthAdjust="spacingAndGlyphs">068</text>
<text transform="translate(115.25,109.0) rotate(-90)" font-size="3.4" fill="#777" textLength="10" lengthAdjust="spacingAndGlyphs">21-54-2</text>
<text transform="translate(118.84,115.6) rotate(-90)" font-size="3.6" fill="#333" textLength="6" lengthAdjust="spacingAndGlyphs">063</text>
<text transform="translate(118.84,109.0) rotate(-90)" font-size="3.4" fill="#777" textLength="10" lengthAdjust="spacingAndGlyphs">12-47-2</text>
<text transform="translate(122.44,115.6) rotate(-90)" font-size="3.6" fill="#333" textLength="6" lengthAdjust="spacingAndGlyphs">362</text>
<text transform="translate(122.44,109.0) rotate(-90)" font-size="3.4" fill="#777" textLength="10" lengthAdjust="spacingAndGlyphs">15-87-2</text>
<text transform="translate(126.03,115.6) rotate(-90)" font-size="3.6" fill="#333" textLength="6" lengthAdjust="spacingAndGlyphs">066</text>
<text transform="translate(126.03,109.0) rotate(-90)" font-size="3.4" fill="#777" textLength="10" lengthAdjust="spacingAndGlyphs">80-45-2</text>
<text transform="translate(129.63,115.6) rotate(-90)" font-size="3.6" fill="#333" textLength="6" lengthAdjust="spacingAndGlyphs">105</text>
<text transform="translate(129.63,109.0) rotate(-90)" font-size="3.4" fill="#777" textLength="10" lengthAdjust="spacingAndGlyphs">10-19-2</text>
<text transform="translate(133.23,115.6) rotate(-90)" font-size="3.6" fill="#333" textLength="6" lengthAdjust="spacingAndGlyphs">004</text>
<text transform="translate(133.23,109.0) rotate(-90)" font-size="3.4" fill="#777" textLength="10" lengthAdjust="spacingAndGlyphs">62-47-2</text>
<text transform="translate(136.82,115.6) rotate(-90)" font-size="3.6" fill="#333" textLength="6" lengthAdjust="spacingAndGlyphs">281</text>
<text transform="translate(136.82,109.0) rotate(-90)" font-size="3.4" fill="#777" textLength="10" lengthAdjust="spacingAndGlyphs">53-50-2</text>
<text transform="translate(140.42,115.6) rotate(-90)" font-size="3.6" fill="#333" textLength="6" lengthAdjust="spacingAndGlyphs">287</text>
<text transform="translate(140.42,109.0) rotate(-90)" font-size="3.4" fill="#777" textLength="10" lengthAdjust="spacingAndGlyphs">58-68-2</text>
<text transform="translate(144.01,115.6) rotate(-90)" font-size="3.6" fill="#333" textLength="6" lengthAdjust="spacingAndGlyphs">309</text>
<text transform="translate(144.01,109.0) rotate(-90)" font-size="3.4" fill="#777" textLength="10" lengthAdjust="spacingAndGlyphs">44-65-2</text>
<text transform="translate(147.61,115.6) rotate(-90)" font-size="3.6" fill="#333" textLength="6" lengthAdjust="spacingAndGlyphs">197</text>
<text transform="translate(147.61,109.0) rotate(-90)" font-size="3.4" fill="#777" textLength="10" lengthAdjust="spacingAndGlyphs">43-76-2</text>
<text transform="translate(151.21,115.6) rotate(-90)" font-size="3.6" fill="#333" textLength="6" lengthAdjust="spacingAndGlyphs">291</text>
<text transform="translate(151.21,109.0) rotate(-90)" font-size="3.4" fill="#777" textLength="10" lengthAdjust="spacingAndGlyphs">63-84-2</text>
<text transform="translate(154.80,115.6) rotate(-90)" font-size="3.6" fill="#333" textLength="6" lengthAdjust="spacingAndGlyphs">207</text>
<text transform="translate(154.80,109.0) rotate(-90)" font-size="3.4" fill="#777" textLength="10" lengthAdjust="spacingAndGlyphs">88-85-2</text>
<text transform="translate(158.40,115.6) rotate(-90)" font-size="3.6" fill="#333" textLength="6" lengthAdjust="spacingAndGlyphs">106</text>
<text transform="translate(158.40,109.0) rotate(-90)" font-size="3.4" fill="#777" textLength="10" lengthAdjust="spacingAndGlyphs">69-55-2</text>
<text transform="translate(161.99,115.6) rotate(-90)" font-size="3.6" fill="#333" textLength="6" lengthAdjust="spacingAndGlyphs">298</text>
<text transform="translate(161.99,109.0) rotate(-90)" font-size="3.4" fill="#777" textLength="10" lengthAdjust="spacingAndGlyphs">12-85-2</text>
<text transform="translate(165.59,115.6) rotate(-90)" font-size="3.6" fill="#333" textLength="6" lengthAdjust="spacingAndGlyphs">006</text>
<text transform="translate(165.59,109.0) rotate(-90)" font-size="3.4" fill="#777" textLength="10" lengthAdjust="spacingAndGlyphs">42-90-2</text>
<text transform="translate(169.19,115.6) rotate(-90)" font-size="3.6" fill="#333" textLength="6" lengthAdjust="spacingAndGlyphs">396</text>
<text transform="translate(169.19,109.0) rotate(-90)" font-size="3.4" fill="#777" textLength="10" lengthAdjust="spacingAndGlyphs">32-56-2</text>
<text transform="translate(172.78,115.6) rotate(-90)" font-size="3.6" fill="#333" textLength="6" lengthAdjust="spacingAndGlyphs">196</text>
<text transform="translate(172.78,109.0) rotate(-90)" font-size="3.4" fill="#777" textLength="10" lengthAdjust="spacingAndGlyphs">86-43-2</text>
<text transform="translate(176.38,115.6) rotate(-90)" font-size="3.6" fill="#333" textLength="6" lengthAdjust="spacingAndGlyphs">262</text>
<text transform="translate(176.38,109.0) rotate(-90)" font-size="3.4" fill="#777" textLength="10" lengthAdjust="spacingAndGlyphs">13-82-2</text>
<text transform="translate(179.97,115.6) rotate(-90)" font-size="3.6" fill="#333" textLength="6" lengthAdjust="spacingAndGlyphs">199</text>
<text transform="translate(179.97,109.0) rotate(-90)" font-size="3.4" fill="#777" textLength="10" lengthAdjust="spacingAndGlyphs">38-93-2</text>
<text transform="translate(183.57,115.6) rotate(-90)" font-size="3.6" fill="#333" textLength="6" lengthAdjust="spacingAndGlyphs">286</text>
<text transform="translate(183.57,109.0) rotate(-90)" font-size="3.4" fill="#777" textLength="10" lengthAdjust="spacingAndGlyphs">33-96-2</text>
<text transform="translate(187.16,115.6) rotate(-90)" font-size="3.6" fill="#333" textLength="6" lengthAdjust="spacingAndGlyphs">302</text>
<text transform="translate(187.16,109.0) rotate(-90)" font-size="3.4" fill="#777" textLength="10" lengthAdjust="spacingAndGlyphs">86-51-2</text>
<text transform="translate(190.76,115.6) rotate(-90)" font-size="3.6" fill="#333" textLength="6" lengthAdjust="spacingAndGlyphs">288</text>
<text transform="translate(190.76,109.0) rotate(-90)" font-size="3.4" fill="#777" textLength="10" lengthAdjust="spacingAndGlyphs">31-20-2</text>
<text transform="translate(194.36,115.6) rotate(-90)" font-size="3.6" fill="#333" textLength="6" lengthAdjust="spacingAndGlyphs">288</text>
<text transform="translate(194.36,109.0) rotate(-90)" font-size="3.4" fill="#777" textLength="10" lengthAdjust="spacingAndGlyphs">44-38-2</text>
<text transform="translate(197.95,115.6) rotate(-90)" font-size="3.6" fill="#333" textLength="6" lengthAdjust="spacingAndGlyphs">009</text>
<text transform="translate(197.95,109.0) rotate(-90)" font-size="3.4" fill="#777" textLength="10" lengthAdjust="spacingAndGlyphs">34-50-2</text>
<text transform="translate(201.55,115.6) rotate(-90)" font-size="3.6" fill="#333" textLength="6" lengthAdjust="spacingAndGlyphs">196</text>
<text transform="translate(201.55,109.0) rotate(-90)" font-size="3.4" fill="#777" textLength="10" lengthAdjust="spacingAndGlyphs">92-20-2</text>
<text transform="translate(205.14,115.6) rotate(-90)" font-size="3.6" fill="#333" textLength="6" lengthAdjust="spacingAndGlyphs">287</text>
<text transform="translate(205.14,109.0) rotate(-90)" font-size="3.4" fill="#777" textLength="10" lengthAdjust="spacingAndGlyphs">47-76-2</text>
<text transform="translate(208.74,115.6) rotate(-90)" font-size="3.6" fill="#333" textLength="6" lengthAdjust="spacingAndGlyphs">266</text>
<text transform="translate(208.74,109.0) rotate(-90)" font-size="3.4" fill="#777" textLength="10" lengthAdjust="spacingAndGlyphs">91-63-2</text>
<text transform="translate(212.34,115.6) rotate(-90)" font-size="3.6" fill="#333" textLength="6" lengthAdjust="spacingAndGlyphs">267</text>
<text transform="translate(212.34,109.0) rotate(-90)" font-size="3.4" fill="#777" textLength="10" lengthAdjust="spacingAndGlyphs">14-62-2</text>
<text transform="translate(215.93,115.6) rotate(-90)" font-size="3.6" fill="#333" textLength="6" lengthAdjust="spacingAndGlyphs">181</text>
<text transform="translate(215.93,109.0) rotate(-90)" font-size="3.4" fill="#777" textLength="10" lengthAdjust="spacingAndGlyphs">71-89-2</text>
<text transform="translate(219.53,115.6) rotate(-90)" font-size="3.6" fill="#333" textLength="6" lengthAdjust="spacingAndGlyphs">381</text>
<text transform="translate(219.53,109.0) rotate(-90)" font-size="3.4" fill="#777" textLength="10" lengthAdjust="spacingAndGlyphs">68-94-2</text>
<text transform="translate(223.12,115.6) rotate(-90)" font-size="3.6" fill="#333" textLength="6" lengthAdjust="spacingAndGlyphs">294</text>
<text transform="translate(223.12,109.0) rotate(-90)" font-size="3.4" fill="#777" textLength="10" lengthAdjust="spacingAndGlyphs">18-85-2</text>
<text transform="translate(226.72,115.6) rotate(-90)" font-size="3.6" fill="#333" textLength="6" lengthAdjust="spacingAndGlyphs">204</text>
<text transform="translate(226.72,109.0) rotate(-90)" font-size="3.4" fill="#777" textLength="10" lengthAdjust="spacingAndGlyphs">15-14-2</text>
<text transform="translate(230.32,115.6) rotate(-90)" font-size="3.6" fill="#333" textLength="6" lengthAdjust="spacingAndGlyphs">161</text>
<text transform="translate(230.32,109.0) rotate(-90)" font-size="3.4" fill="#777" textLength="10" lengthAdjust="spacingAndGlyphs">11-71-2</text>
<text transform="translate(233.91,115.6) rotate(-90)" font-size="3.6" fill="#333" textLength="6" lengthAdjust="spacingAndGlyphs">089</text>
<text transform="translate(233.91,109.0) rotate(-90)" font-size="3.4" fill="#777" textLength="10" lengthAdjust="spacingAndGlyphs">48-40-2</text>
<text transform="translate(237.51,115.6) rotate(-90)" font-size="3.6" fill="#333" textLength="6" lengthAdjust="spacingAndGlyphs">061</text>
<text transform="translate(237.51,109.0) rotate(-90)" font-size="3.4" fill="#777" textLength="10" lengthAdjust="spacingAndGlyphs">88-24-2</text>
<text transform="translate(241.10,115.6) rotate(-90)" font-size="3.6" fill="#333" textLength="6" lengthAdjust="spacingAndGlyphs">285</text>
<text transform="translate(241.10,109.0) rotate(-90)" font-size="3.4" fill="#777" textLength="10" lengthAdjust="spacingAndGlyphs">79-71-2</text>
<text transform="translate(244.70,115.6) rotate(-90)" font-size="3.6" fill="#333" textLength="6" lengthAdjust="spacingAndGlyphs">094</text>
<text transform="translate(244.70,109.0) rotate(-90)" font-size="3.4" fill="#777" textLength="10" lengthAdjust="spacingAndGlyphs">35-25-2</text>
<text transform="translate(248.30,115.6) rotate(-90)" font-size="3.6" fill="#333" textLength="6" lengthAdjust="spacingAndGlyphs">084</text>
<text transform="translate(248.30,109.0) rotate(-90)" font-size="3.4" fill="#777" textLength="10" lengthAdjust="spacingAndGlyphs">45-26-2</text>
<text transform="translate(251.89,115.6) rotate(-90)" font-size="3.6" fill="#333" textLength="6" lengthAdjust="spacingAndGlyphs">067</text>
<text transform="translate(251.89,109.0) rotate(-90)" font-size="3.4" fill="#777" textLength="10" lengthAdjust="spacingAndGlyphs">16-44-2</text>
<text transform="translate(255.49,115.6) rotate(-90)" font-size="3.6" fill="#333" textLength="6" lengthAdjust="spacingAndGlyphs">199</text>
<text transform="translate(255.49,109.0) rotate(-90)" font-size="3.4" fill="#777" textLength="10" lengthAdjust="spacingAndGlyphs">76-64-2</text>
<text transform="translate(259.08,115.6) rotate(-90)" font-size="3.6" fill="#333" textLength="6" lengthAdjust="spacingAndGlyphs">066</text>
<text transform="translate(259.08,109.0) rotate(-90)" font-size="3.4" fill="#777" textLength="10" lengthAdjust="spacingAndGlyphs">10-17-2</text>
<text transform="translate(262.68,115.6) rotate(-90)" font-size="3.6" fill="#333" textLength="6" lengthAdjust="spacingAndGlyphs">102</text>
<text transform="translate(262.68,109.0) rotate(-90)" font-size="3.4" fill="#777" textLength="10" lengthAdjust="spacingAndGlyphs">16-18-2</text>
<text transform="translate(266.28,115.6) rotate(-90)" font-size="3.6" fill="#333" textLength="6" lengthAdjust="spacingAndGlyphs">302</text>
<text transform="translate(266.28,109.0) rotate(-90)" font-size="3.4" fill="#777" textLength="10" lengthAdjust="spacingAndGlyphs">75-74-2</text>
<text transform="translate(269.87,115.6) rotate(-90)" font-size="3.6" fill="#333" textLength="6" lengthAdjust="spacingAndGlyphs">393</text>
<text transform="translate(269.87,109.0) rotate(-90)" font-size="3.4" fill="#777" textLength="10" lengthAdjust="spacingAndGlyphs">50-19-2</text>
<text transform="translate(273.47,115.6) rotate(-90)" font-size="3.6" fill="#333" textLength="6" lengthAdjust="spacingAndGlyphs">267</text>
<text transform="translate(273.47,109.0) rotate(-90)" font-size="3.4" fill="#777" textLength="10" lengthAdjust="spacingAndGlyphs">85-48-2</text>
<text transform="translate(277.06,115.6) rotate(-90)" font-size="3.6" fill="#333" textLength="6" lengthAdjust="spacingAndGlyphs">294</text>
<text transform="translate(277.06,109.0) rotate(-90)" font-size="3.4" fill="#777" textLength="10" lengthAdjust="spacingAndGlyphs">52-64-2</text>
<text transform="translate(280.66,115.6) rotate(-90)" font-size="3.6" fill="#333" textLength="6" lengthAdjust="spacingAndGlyphs">089</text>
<text transform="translate(280.66,109.0) rotate(-90)" font-size="3.4" fill="#777" textLength="10" lengthAdjust="spacingAndGlyphs">10-58-2</text>
<text transform="translate(284.26,115.6) rotate(-90)" font-size="3.6" fill="#333" textLength="6" lengthAdjust="spacingAndGlyphs">081</text>
<text transform="translate(284.26,109.0) rotate(-90)" font-size="3.4" fill="#777" textLength="10" lengthAdjust="spacingAndGlyphs">57-68-2</text>
<text transform="translate(287.85,115.6) rotate(-90)" font-size="3.6" fill="#333" textLength="6" lengthAdjust="spacingAndGlyphs">307</text>
<text transform="translate(287.85,109.0) rotate(-90)" font-size="3.4" fill="#777" textLength="10" lengthAdjust="spacingAndGlyphs">16-57-2</text>
<text transform="translate(291.45,115.6) rotate(-90)" font-size="3.6" fill="#333" textLength="6" lengthAdjust="spacingAndGlyphs">397</text>
<text transform="translate(291.45,109.0) rotate(-90)" font-size="3.4" fill="#777" textLength="10" lengthAdjust="spacingAndGlyphs">98-63-2</text>
<text transform="translate(295.04,115.6) rotate(-90)" font-size="3.6" fill="#333" textLength="6" lengthAdjust="spacingAndGlyphs">304</text>
<text transform="translate(295.04,109.0) rotate(-90)" font-size="3.4" fill="#777" textLength="10" lengthAdjust="spacingAndGlyphs">37-78-2</text>
<text transform="translate(298.64,115.6) rotate(-90)" font-size="3.6" fill="#333" textLength="6" lengthAdjust="spacingAndGlyphs">207</text>
<text transform="translate(298.64,109.0) rotate(-90)" font-size="3.4" fill="#777" textLength="10" lengthAdjust="spacingAndGlyphs">38-64-2</text>
<text transform="translate(302.24,115.6) rotate(-90)" font-size="3.6" fill="#333" textLength="6" lengthAdjust="spacingAndGlyphs">106</text>
<text transform="translate(302.24,109.0) rotate(-90)" font-size="3.4" fill="#777" textLength="10" lengthAdjust="spacingAndGlyphs">57-81-2</text>
<text transform="translate(305.83,115.6) rotate(-90)" font-size="3.6" fill="#333" textLength="6" lengthAdjust="spacingAndGlyphs">208</text>
<text transform="translate(305.83,109.0) rotate(-90)" font-size="3.4" fill="#777" textLength="10" lengthAdjust="spacingAndGlyphs">98-25-2</text>
<text transform="translate(309.43,115.6) rotate(-90)" font-size="3.6" fill="#333" textLength="6" lengthAdjust="spacingAndGlyphs">306</text>
<text transform="translate(309.43,109.0) rotate(-90)" font-size="3.4" fill="#777" textLength="10" lengthAdjust="spacingAndGlyphs">82-78-2</text>
<text transform="translate(313.02,115.6) rotate(-90)" font-size="3.6" fill="#333" textLength="6" lengthAdjust="spacingAndGlyphs">008</text>
<text transform="translate(313.02,109.0) rotate(-90)" font-size="3.4" fill="#777" textLength="10" lengthAdjust="spacingAndGlyphs">28-40-2</text>
<text transform="translate(316.62,115.6) rotate(-90)" font-size="3.6" fill="#333" textLength="6" lengthAdjust="spacingAndGlyphs">309</text>
<text transform="translate(316.62,109.0) rotate(-90)" font-size="3.4" fill="#777" textLength="10" lengthAdjust="spacingAndGlyphs">21-82-2</text>
<text transform="translate(320.22,115.6) rotate(-90)" font-size="3.6" fill="#333" textLength="6" lengthAdjust="spacingAndGlyphs">063</text>
<text transform="translate(320.22,109.0) rotate(-90)" font-size="3.4" fill="#777" textLength="10" lengthAdjust="spacingAndGlyphs">13-53-2</text>
<text transform="translate(323.81,115.6) rotate(-90)" font-size="3.6" fill="#333" textLength="6" lengthAdjust="spacingAndGlyphs">002</text>
<text transform="translate(323.81,109.0) rotate(-90)" font-size="3.4" fill="#777" textLength="10" lengthAdjust="spacingAndGlyphs">96-71-2</text>
<text transform="translate(327.41,115.6) rotate(-90)" font-size="3.6" fill="#333" textLength="6" lengthAdjust="spacingAndGlyphs">292</text>
<text transform="translate(327.41,109.0) rotate(-90)" font-size="3.4" fill="#777" textLength="10" lengthAdjust="spacingAndGlyphs">14-82-2</text>
<text transform="translate(331.00,115.6) rotate(-90)" font-size="3.6" fill="#333" textLength="6" lengthAdjust="spacingAndGlyphs">109</text>
<text transform="translate(331.00,109.0) rotate(-90)" font-size="3.4" fill="#777" textLength="10" lengthAdjust="spacingAndGlyphs">22-80-2</text>
<text transform="translate(334.60,115.6) rotate(-90)" font-size="3.6" fill="#333" textLength="6" lengthAdjust="spacingAndGlyphs">093</text>
<text transform="translate(334.60,109.0) rotate(-90)" font-size="3.4" fill="#777" textLength="10" lengthAdjust="spacingAndGlyphs">19-40-2</text>
<text transform="translate(338.20,115.6) rotate(-90)" font-size="3.6" fill="#333" textLength="6" lengthAdjust="spacingAndGlyphs">188</text>
<text transform="translate(338.20,109.0) rotate(-90)" font-size="3.4" fill="#777" textLength="10" lengthAdjust="spacingAndGlyphs">88-99-2</text>
<text transform="translate(341.79,115.6) rotate(-90)" font-size="3.6" fill="#333" textLength="6" lengthAdjust="spacingAndGlyphs">396</text>
<text transform="translate(341.79,109.0) rotate(-90)" font-size="3.4" fill="#777" textLength="10" lengthAdjust="spacingAndGlyphs">86-60-2</text>
<text transform="translate(345.39,115.6) rotate(-90)" font-size="3.6" fill="#333" textLength="6" lengthAdjust="spacingAndGlyphs">262</text>
<text transform="translate(345.39,109.0) rotate(-90)" font-size="3.4" fill="#777" textLength="10" lengthAdjust="spacingAndGlyphs">58-74-2</text>
<text transform="translate(348.98,115.6) rotate(-90)" font-size="3.6" fill="#333" textLength="6" lengthAdjust="spacingAndGlyphs">163</text>
<text transform="translate(348.98,109.0) rotate(-90)" font-size="3.4" fill="#777" textLength="10" lengthAdjust="spacingAndGlyphs">63-98-2</text>
<text transform="translate(352.58,115.6) rotate(-90)" font-size="3.6" fill="#333" textLength="6" lengthAdjust="spacingAndGlyphs">387</text>
<text transform="translate(352.58,109.0) rotate(-90)" font-size="3.4" fill="#777" textLength="10" lengthAdjust="spacingAndGlyphs">29-30-2</text>
<text transform="translate(356.18,115.6) rotate(-90)" font-size="3.6" fill="#333" textLength="6" lengthAdjust="spacingAndGlyphs">068</text>
<text transform="translate(356.18,109.0) rotate(-90)" font-size="3.4" fill="#777" textLength="10" lengthAdjust="spacingAndGlyphs">99-76-2</text>
<text transform="translate(359.77,115.6) rotate(-90)" font-size="3.6" fill="#333" textLength="6" lengthAdjust="spacingAndGlyphs">383</text>
<text transform="translate(359.77,109.0) rotate(-90)" font-size="3.4" fill="#777" textLength="10" lengthAdjust="spacingAndGlyphs">44-35-2</text>
<text transform="translate(363.37,115.6) rotate(-90)" font-size="3.6" fill="#333" textLength="6" lengthAdjust="spacingAndGlyphs">194</text>
<text transform="translate(363.37,109.0) rotate(-90)" font-size="3.4" fill="#777" textLength="10" lengthAdjust="spacingAndGlyphs">98-78-2</text>
<text transform="translate(366.96,115.6) rotate(-90)" font-size="3.6" fill="#333" textLength="6" lengthAdjust="spacingAndGlyphs">265</text>
<text transform="translate(366.96,109.0) rotate(-90)" font-size="3.4" fill="#777" textLength="10" lengthAdjust="spacingAndGlyphs">37-49-2</text>
<text transform="translate(370.56,115.6) rotate(-90)" font-size="3.6" fill="#333" textLength="6" lengthAdjust="spacingAndGlyphs">098</text>
<text transform="translate(370.56,109.0) rotate(-90)" font-size="3.4" fill="#777" textLength="10" lengthAdjust="spacingAndGlyphs">58-35-2</text>
<text transform="translate(374.16,115.6) rotate(-90)" font-size="3.6" fill="#333" textLength="6" lengthAdjust="spacingAndGlyphs">194</text>
<text transform="translate(374.16,109.0) rotate(-90)" font-size="3.4" fill="#777" textLength="10" lengthAdjust="spacingAndGlyphs">51-71-2</text>
<text transform="translate(377.75,115.6) rotate(-90)" font-size="3.6" fill="#333" textLength="6" lengthAdjust="spacingAndGlyphs">168</text>
<text transform="translate(377.75,109.0) rotate(-90)" font-size="3.4" fill="#777" textLength="10" lengthAdjust="spacingAndGlyphs">99-86-2</text>
<text transform="translate(381.35,115.6) rotate(-90)" font-size="3.6" fill="#333" textLength="6" lengthAdjust="spacingAndGlyphs">169</text>
<text transform="translate(381.35,109.0) rotate(-90)" font-size="3.4" fill="#777" textLength="10" lengthAdjust="spacingAndGlyphs">13-71-2</text>
<text transform="translate(384.94,115.6) rotate(-90)" font-size="3.6" fill="#333" textLength="6" lengthAdjust="spacingAndGlyphs">061</text>
<text transform="translate(384.94,109.0) rotate(-90)" font-size="3.4" fill="#777" textLength="10" lengthAdjust="spacingAndGlyphs">69-39-2</text>
<text transform="translate(388.54,115.6) rotate(-90)" font-size="3.6" fill="#333" textLength="6" lengthAdjust="spacingAndGlyphs">104</text>
<text transform="translate(388.54,109.0) rotate(-90)" font-size="3.4" fill="#777" textLength="10" lengthAdjust="spacingAndGlyphs">42-40-2</text>
<text transform="translate(392.14,115.6) rotate(-90)" font-size="3.6" fill="#333" textLength="6" lengthAdjust="spacingAndGlyphs">193</text>
<text transform="translate(392.14,109.0) rotate(-90)" font-size="3.4" fill="#777" textLength="10" lengthAdjust="spacingAndGlyphs">33-89-2</text>
<text transform="translate(395.73,115.6) rotate(-90)" font-size="3.6" fill="#333" textLength="6" lengthAdjust="spacingAndGlyphs">093</text>
<text transform="translate(395.73,109.0) rotate(-90)" font-size="3.4" fill="#777" textLength="10" lengthAdjust="spacingAndGlyphs">15-50-2</text>
<text transform="translate(399.33,115.6) rotate(-90)" font-size="3.6" fill="#333" textLength="6" lengthAdjust="spacingAndGlyphs">162</text>
<text transform="translate(399.33,109.0) rotate(-90)" font-size="3.4" fill="#777" textLength="10" lengthAdjust="spacingAndGlyphs">20-25-2</text>
<text transform="translate(402.92,115.6) rotate(-90)" font-size="3.6" fill="#333" textLength="6" lengthAdjust="spacingAndGlyphs">095</text>
<text transform="translate(402.92,109.0) rotate(-90)" font-size="3.4" fill="#777" textLength="10" lengthAdjust="spacingAndGlyphs">14-55-2</text>
<text transform="translate(406.52,115.6) rotate(-90)" font-size="3.6" fill="#333" textLength="6" lengthAdjust="spacingAndGlyphs">391</text>
<text transform="translate(406.52,109.0) rotate(-90)" font-size="3.4" fill="#777" textLength="10" lengthAdjust="spacingAndGlyphs">13-52-2</text>
<text transform="translate(410.11,115.6) rotate(-90)" font-size="3.6" fill="#333" textLength="6" lengthAdjust="spacingAndGlyphs">267</text>
<text transform="translate(410.11,109.0) rotate(-90)" font-size="3.4" fill="#777" textLength="10" lengthAdjust="spacingAndGlyphs">72-19-2</text>
<text transform="translate(413.71,115.6) rotate(-90)" font-size="3.6" fill="#333" textLength="6" lengthAdjust="spacingAndGlyphs">167</text>
<text transform="translate(413.71,109.0) rotate(-90)" font-size="3.4" fill="#777" textLength="10" lengthAdjust="spacingAndGlyphs">26-79-2</text>
<text transform="translate(417.31,115.6) rotate(-90)" font-size="3.6" fill="#333" textLength="6" lengthAdjust="spacingAndGlyphs">205</text>
<text transform="translate(417.31,109.0) rotate(-90)" font-size="3.4" fill="#777" textLength="10" lengthAdjust="spacingAndGlyphs">19-95-2</text>
<text transform="translate(420.90,115.6) rotate(-90)" font-size="3.6" fill="#333" textLength="6" lengthAdjust="spacingAndGlyphs">308</text>
<text transform="translate(420.90,109.0) rotate(-90)" font-size="3.4" fill="#777" textLength="10" lengthAdjust="spacingAndGlyphs">77-42-2</text>
<text transform="translate(424.50,115.6) rotate(-90)" font-size="3.6" fill="#333" textLength="6" lengthAdjust="spacingAndGlyphs">096</text>
<text transform="translate(424.50,109.0) rotate(-90)" font-size="3.4" fill="#777" textLength="10" lengthAdjust="spacingAndGlyphs">67-47-2</text>
<text transform="translate(428.09,115.6) rotate(-90)" font-size="3.6" fill="#333" textLength="6" lengthAdjust="spacingAndGlyphs">206</text>
<text transform="translate(428.09,109.0) rotate(-90)" font-size="3.4" fill="#777" textLength="10" lengthAdjust="spacingAndGlyphs">96-82-2</text>
<text transform="translate(431.69,115.6) rotate(-90)" font-size="3.6" fill="#333" textLength="6" lengthAdjust="spacingAndGlyphs">069</text>
<text transform="translate(431.69,109.0) rotate(-90)" font-size="3.4" fill="#777" textLength="10" lengthAdjust="spacingAndGlyphs">55-17-2</text>
<text transform="translate(435.29,115.6) rotate(-90)" font-size="3.6" fill="#333" textLength="6" lengthAdjust="spacingAndGlyphs">283</text>
<text transform="translate(435.29,109.0) rotate(-90)" font-size="3.4" fill="#777" textLength="10" lengthAdjust="spacingAndGlyphs">32-57-2</text>
<text transform="translate(438.88,115.6) rotate(-90)" font-size="3.6" fill="#333" textLength="6" lengthAdjust="spacingAndGlyphs">302</text>
<text transform="translate(438.88,109.0) rotate(-90)" font-size="3.4" fill="#777" textLength="10" lengthAdjust="spacingAndGlyphs">81-28-2</text>
<text transform="translate(442.48,115.6) rotate(-90)" font-size="3.6" fill="#333" textLength="6" lengthAdjust="spacingAndGlyphs">269</text>
<text transform="translate(442.48,109.0) rotate(-90)" font-size="3.4" fill="#777" textLength="10" lengthAdjust="spacingAndGlyphs">48-92-2</text>
<text transform="translate(446.07,115.6) rotate(-90)" font-size="3.6" fill="#333" textLength="6" lengthAdjust="spacingAndGlyphs">168</text>
<text transform="translate(446.07,109.0) rotate(-90)" font-size="3.4" fill="#777" textLength="10" lengthAdjust="spacingAndGlyphs">49-32-2</text>
<text transform="translate(449.67,115.6) rotate(-90)" font-size="3.6" fill="#333" textLength="6" lengthAdjust="spacingAndGlyphs">003</text>
<text transform="translate(449.67,109.0) rotate(-90)" font-size="3.4" fill="#777" textLength="10" lengthAdjust="spacingAndGlyphs">80-79-2</text>
<text transform="translate(453.27,115.6) rotate(-90)" font-size="3.6" fill="#333" textLength="6" lengthAdjust="spacingAndGlyphs">392</text>
<text transform="translate(453.27,109.0) rotate(-90)" font-size="3.4" fill="#777" textLength="10" lengthAdjust="spacingAndGlyphs">44-44-2</text>
<text transform="translate(456.86,115.6) rotate(-90)" font-size="3.6" fill="#333" textLength="6" lengthAdjust="spacingAndGlyphs">303</text>
<text transform="translate(456.86,109.0) rotate(-90)" font-size="3.4" fill="#777" textLength="10" lengthAdjust="spacingAndGlyphs">15-71-2</text>
<text transform="translate(460.46,115.6) rotate(-90)" font-size="3.6" fill="#333" textLength="6" lengthAdjust="spacingAndGlyphs">289</text>
<text transform="translate(460.46,109.0) rotate(-90)" font-size="3.4" fill="#777" textLength="10" lengthAdjust="spacingAndGlyphs">55-52-2</text>
<text transform="translate(464.05,115.6) rotate(-90)" font-size="3.6" fill="#333" textLength="6" lengthAdjust="spacingAndGlyphs">369</text>
<text transform="translate(464.05,109.0) rotate(-90)" font-size="3.4" fill="#777" textLength="10" lengthAdjust="spacingAndGlyphs">18-55-2</text>
<text transform="translate(467.65,115.6) rotate(-90)" font-size="3.6" fill="#333" textLength="6" lengthAdjust="spacingAndGlyphs">303</text>
<text transform="translate(467.65,109.0) rotate(-90)" font-size="3.4" fill="#777" textLength="10" lengthAdjust="spacingAndGlyphs">44-85-2</text>
<text transform="translate(471.25,115.6) rotate(-90)" font-size="3.6" fill="#333" textLength="6" lengthAdjust="spacingAndGlyphs">002</text>
<text transform="translate(471.25,109.0) rotate(-90)" font-size="3.4" fill="#777" textLength="10" lengthAdjust="spacingAndGlyphs">33-99-2</text>
<text transform="translate(474.84,115.6) rotate(-90)" font-size="3.6" fill="#333" textLength="6" lengthAdjust="spacingAndGlyphs">167</text>
<text transform="translate(474.84,109.0) rotate(-90)" font-size="3.4" fill="#777" textLength="10" lengthAdjust="spacingAndGlyphs">26-85-2</text>
<text transform="translate(478.44,115.6) rotate(-90)" font-size="3.6" fill="#333" textLength="6" lengthAdjust="spacingAndGlyphs">164</text>
<text transform="translate(478.44,109.0) rotate(-90)" font-size="3.4" fill="#777" textLength="10" lengthAdjust="spacingAndGlyphs">79-77-2</text>
<text transform="translate(482.03,115.6) rotate(-90)" font-size="3.6" fill="#333" textLength="6" lengthAdjust="spacingAndGlyphs">184</text>
<text transform="translate(482.03,109.0) rotate(-90)" font-size="3.4" fill="#777" textLength="10" lengthAdjust="spacingAndGlyphs">42-57-2</text>
<text transform="translate(485.63,115.6) rotate(-90)" font-size="3.6" fill="#333" textLength="6" lengthAdjust="spacingAndGlyphs">208</text>
<text transform="translate(485.63,109.0) rotate(-90)" font-size="3.4" fill="#777" textLength="10" lengthAdjust="spacingAndGlyphs">62-59-2</text>
<text transform="translate(489.23,115.6) rotate(-90)" font-size="3.6" fill="#333" textLength="6" lengthAdjust="spacingAndGlyphs">298</text>
<text transform="translate(489.23,109.0) rotate(-90)" font-size="3.4" fill="#777" textLength="10" lengthAdjust="spacingAndGlyphs">77-97-2</text>
<text transform="translate(492.82,115.6) rotate(-90)" font-size="3.6" fill="#333" textLength="6" lengthAdjust="spacingAndGlyphs">261</text>
<text transform="translate(492.82,109.0) rotate(-90)" font-size="3.4" fill="#777" textLength="10" lengthAdjust="spacingAndGlyphs">86-34-2</text>
<text transform="translate(496.42,115.6) rotate(-90)" font-size="3.6" fill="#333" textLength="6" lengthAdjust="spacingAndGlyphs">004</text>
<text transform="translate(496.42,109.0) rotate(-90)" font-size="3.4" fill="#777" textLength="10" lengthAdjust="spacingAndGlyphs">72-32-2</text>
<text transform="translate(500.01,115.6) rotate(-90)" font-size="3.6" fill="#333" textLength="6" lengthAdjust="spacingAndGlyphs">384</text>
<text transform="translate(500.01,109.0) rotate(-90)" font-size="3.4" fill="#777" textLength="10" lengthAdjust="spacingAndGlyphs">77-37-2</text>
<text transform="translate(503.61,115.6) rotate(-90)" font-size="3.6" fill="#333" textLength="6" lengthAdjust="spacingAndGlyphs">062</text>
<text transform="translate(503.61,109.0) rotate(-90)" font-size="3.4" fill="#777" textLength="10" lengthAdjust="spacingAndGlyphs">82-46-2</text>
<text transform="translate(507.21,115.6) rotate(-90)" font-size="3.6" fill="#333" textLength="6" lengthAdjust="spacingAndGlyphs">188</text>
<text transform="translate(507.21,109.0) rotate(-90)" font-size="3.4" fill="#777" textLength="10" lengthAdjust="spacingAndGlyphs">21-89-2</text>
<text transform="translate(510.80,115.6) rotate(-90)" font-size="3.6" fill="#333" textLength="6" lengthAdjust="spacingAndGlyphs">006</text>
<text transform="translate(510.80,109.0) rotate(-90)" font-size="3.4" fill="#777" textLength="10" lengthAdjust="spacingAndGlyphs">89-39-2</text>
<text x="62.20" y="94.40" font-size="8" fill="#222" text-anchor="end" textLength="17.6" lengthAdjust="spacingAndGlyphs">Batch</text>
<text x="62.50" y="126.90" font-size="7" fill="#222" text-anchor="end" textLength="30.6" lengthAdjust="spacingAndGlyphs">Diagnosis</text>
<text x="62.50" y="132.50" font-size="7" fill="#222" text-anchor="end" textLength="37.5" lengthAdjust="spacingAndGlyphs">MPN driver</text>
<text x="62.50" y="138.70" font-size="7" fill="#222" text-anchor="end" textLength="53.1" lengthAdjust="spacingAndGlyphs">mutation status</text>
<rect x="65.50" y="141.50" width="5.20" height="4.80" fill="#a9307a" />
<text x="73.70" y="145.70" font-size="5.0" fill="#222" text-anchor="start" textLength="19.9" lengthAdjust="spacingAndGlyphs">JAK2-mut</text>
<rect x="101.60" y="141.50" width="5.20" height="4.80" fill="#0f9479" />
<text x="109.80" y="145.70" font-size="5.0" fill="#222" text-anchor="start" textLength="19.9" lengthAdjust="spacingAndGlyphs">CALR-mut</text>
<rect x="138.50" y="141.50" width="5.20" height="4.80" fill="#efba2c" />
<text x="145.20" y="145.70" font-size="5.0" fill="#222" text-anchor="start" textLength="21" lengthAdjust="spacingAndGlyphs">MPL-mut</text>
<rect x="171.00" y="141.50" width="5.20" height="4.80" fill="#5b8fca" />
<text x="178.80" y="145.70" font-size="5.0" fill="#222" text-anchor="start" textLength="23.2" lengthAdjust="spacingAndGlyphs">Triple-neg</text>
<text x="400.80" y="145.80" font-size="5.0" fill="#222" text-anchor="start" textLength="23.1" lengthAdjust="spacingAndGlyphs">Diagnosis</text>
<rect x="428.50" y="141.70" width="5.20" height="4.80" fill="#7f8e33" />
<text x="436.10" y="145.80" font-size="5.0" fill="#222" text-anchor="start" textLength="5.1" lengthAdjust="spacingAndGlyphs">ET</text>
<rect x="445.80" y="141.70" width="5.20" height="4.80" fill="#e6a73b" />
<text x="453.90" y="145.80" font-size="5.0" fill="#222" text-anchor="start" textLength="9.2" lengthAdjust="spacingAndGlyphs">PMF</text>
<rect x="468.40" y="141.70" width="5.20" height="4.80" fill="#1f9fd3" />
<text x="475.80" y="145.80" font-size="5.0" fill="#222" text-anchor="start" textLength="5.8" lengthAdjust="spacingAndGlyphs">PV</text>
<rect x="486.20" y="141.70" width="5.20" height="4.80" fill="#c03f4c" />
<text x="494.30" y="145.80" font-size="5.0" fill="#222" text-anchor="start" textLength="11.6" lengthAdjust="spacingAndGlyphs">sAML</text>
<text x="8.30" y="160.40" font-size="11.2" fill="#111" text-anchor="start" >B</text>
<text x="108.90" y="171.00" font-size="5.0" fill="#222" text-anchor="middle" textLength="28.4" lengthAdjust="spacingAndGlyphs">Weak binder</text>
<text x="163.60" y="171.00" font-size="5.0" fill="#222" text-anchor="middle" textLength="31.2" lengthAdjust="spacingAndGlyphs">Strong binder</text>
<rect x="87.60" y="175.00" width="43.20" height="5.30" fill="#1aa1b0" />
<rect x="130.80" y="175.00" width="65.20" height="5.30" fill="#d47f6c" />
<rect x="19.20" y="183.50" width="5.80" height="156.30" fill="#159a67" />
<rect x="19.20" y="340.60" width="5.80" height="95.40" fill="#ecc898" />
<text transform="translate(14.6,261.4) rotate(-90)" font-size="7.8" fill="#222" text-anchor="middle" textLength="17.3" lengthAdjust="spacingAndGlyphs">CALR</text>
<text transform="translate(14.6,388.3) rotate(-90)" font-size="7.8" fill="#222" text-anchor="middle" textLength="13.1" lengthAdjust="spacingAndGlyphs">MPL</text>
<line x1="88.80" y1="180.50" x2="88.80" y2="435.50" stroke="#4fbfcb" stroke-width="1.0" />
<line x1="131.30" y1="180.50" x2="131.30" y2="435.50" stroke="#d8968a" stroke-width="0.8" />
<line x1="83.70" y1="182.50" x2="83.70" y2="436.30" stroke="#222" stroke-width="0.9" />
<line x1="83.30" y1="435.90" x2="194.80" y2="435.90" stroke="#222" stroke-width="0.9" />
<line x1="88.50" y1="435.90" x2="88.50" y2="438.30" stroke="#222" stroke-width="0.8" />
<text x="88.50" y="447.30" font-size="5.0" fill="#222" text-anchor="middle" >2</text>
<line x1="131.30" y1="435.90" x2="131.30" y2="438.30" stroke="#222" stroke-width="0.8" />
<text x="131.30" y="447.30" font-size="5.0" fill="#222" text-anchor="middle" >0.5</text>
<line x1="180.00" y1="435.90" x2="180.00" y2="438.30" stroke="#222" stroke-width="0.8" />
<text x="180.00" y="447.30" font-size="5.0" fill="#222" text-anchor="middle" >0.1</text>
<text x="139.60" y="457.80" font-size="7.6" fill="#222" text-anchor="middle" textLength="37.5" lengthAdjust="spacingAndGlyphs">log2(%rank)</text>
<line x1="81.70" y1="186.70" x2="83.70" y2="186.70" stroke="#222" stroke-width="0.7" />
<text x="77.40" y="188.35" font-size="4.6" fill="#c9735c" text-anchor="end" >RRRQRTRRM [5]</text>
<line x1="81.70" y1="192.72" x2="83.70" y2="192.72" stroke="#222" stroke-width="0.7" />
<text x="77.40" y="194.37" font-size="4.6" fill="#c9735c" text-anchor="end" >RRRQRTRRMAM [5]</text>
<line x1="81.70" y1="198.74" x2="83.70" y2="198.74" stroke="#222" stroke-width="0.7" />
<text x="77.40" y="200.39" font-size="4.6" fill="#c9735c" text-anchor="end" >RRQRTRRM [6]</text>
<line x1="81.70" y1="204.76" x2="83.70" y2="204.76" stroke="#222" stroke-width="0.7" />
<text x="77.40" y="206.41" font-size="4.6" fill="#c9735c" text-anchor="end" >RRQRTRRMAM [6]</text>
<line x1="81.70" y1="210.78" x2="83.70" y2="210.78" stroke="#222" stroke-width="0.7" />
<text x="77.40" y="212.43" font-size="4.6" fill="#c9735c" text-anchor="end" >RQRTRRMAMR [7]</text>
<line x1="81.70" y1="216.80" x2="83.70" y2="216.80" stroke="#222" stroke-width="0.7" />
<text x="77.40" y="218.45" font-size="4.6" fill="#c9735c" text-anchor="end" >RTRRMAMRTK [9]</text>
<line x1="81.70" y1="222.82" x2="83.70" y2="222.82" stroke="#222" stroke-width="0.7" />
<text x="77.40" y="224.47" font-size="4.6" fill="#c9735c" text-anchor="end" >TRRMAMRTKM [10]</text>
<line x1="81.70" y1="228.84" x2="83.70" y2="228.84" stroke="#222" stroke-width="0.7" />
<text x="77.40" y="230.49" font-size="4.6" fill="#c9735c" text-anchor="end" >RRMAMRTKM [11]</text>
<line x1="81.70" y1="234.86" x2="83.70" y2="234.86" stroke="#222" stroke-width="0.7" />
<text x="77.40" y="236.51" font-size="4.6" fill="#c9735c" text-anchor="end" >RRMAMRTKMRM [11]</text>
<line x1="81.70" y1="240.88" x2="83.70" y2="240.88" stroke="#222" stroke-width="0.7" />
<text x="77.40" y="242.53" font-size="4.6" fill="#c9735c" text-anchor="end" >RMAMRTKMRM [12]</text>
<line x1="81.70" y1="246.90" x2="83.70" y2="246.90" stroke="#222" stroke-width="0.7" />
<text x="77.40" y="248.55" font-size="4.6" fill="#c9735c" text-anchor="end" >RMAMRTKMRMR [12]</text>
<line x1="81.70" y1="252.92" x2="83.70" y2="252.92" stroke="#222" stroke-width="0.7" />
<text x="77.40" y="254.57" font-size="4.6" fill="#c9735c" text-anchor="end" >MAMRTKMRMR [13]</text>
<line x1="81.70" y1="258.94" x2="83.70" y2="258.94" stroke="#222" stroke-width="0.7" />
<text x="77.40" y="260.59" font-size="4.6" fill="#c9735c" text-anchor="end" >MRTKMRMRRM [14]</text>
<line x1="81.70" y1="264.96" x2="83.70" y2="264.96" stroke="#222" stroke-width="0.7" />
<text x="77.40" y="266.61" font-size="4.6" fill="#c9735c" text-anchor="end" >RTKMRMRRM [15]</text>
<line x1="81.70" y1="270.98" x2="83.70" y2="270.98" stroke="#222" stroke-width="0.7" />
<text x="77.40" y="272.63" font-size="4.6" fill="#c9735c" text-anchor="end" >KMRMRRMRR [17]</text>
<line x1="81.70" y1="277.00" x2="83.70" y2="277.00" stroke="#222" stroke-width="0.7" />
<text x="77.40" y="278.65" font-size="4.6" fill="#c9735c" text-anchor="end" >RMRRMRRTR [19]</text>
<line x1="81.70" y1="283.02" x2="83.70" y2="283.02" stroke="#222" stroke-width="0.7" />
<text x="77.40" y="284.67" font-size="4.6" fill="#c9735c" text-anchor="end" >RRMRRTRRKM [21]</text>
<line x1="81.70" y1="289.04" x2="83.70" y2="289.04" stroke="#222" stroke-width="0.7" />
<text x="77.40" y="290.69" font-size="4.6" fill="#c9735c" text-anchor="end" >RMRRTRRKM [22]</text>
<line x1="81.70" y1="295.06" x2="83.70" y2="295.06" stroke="#222" stroke-width="0.7" />
<text x="77.40" y="296.71" font-size="4.6" fill="#c9735c" text-anchor="end" >RTRRKMRRK [25]</text>
<line x1="81.70" y1="301.08" x2="83.70" y2="301.08" stroke="#222" stroke-width="0.7" />
<text x="77.40" y="302.73" font-size="4.6" fill="#c9735c" text-anchor="end" >TRRKMRRKM [26]</text>
<line x1="81.70" y1="307.10" x2="83.70" y2="307.10" stroke="#222" stroke-width="0.7" />
<text x="77.40" y="308.75" font-size="4.6" fill="#c9735c" text-anchor="end" >KMRRKMSPAR [29]</text>
<line x1="81.70" y1="313.12" x2="83.70" y2="313.12" stroke="#222" stroke-width="0.7" />
<text x="77.40" y="314.77" font-size="4.6" fill="#c9735c" text-anchor="end" >MSPARPRTSC [34]</text>
<line x1="81.70" y1="319.14" x2="83.70" y2="319.14" stroke="#222" stroke-width="0.7" />
<text x="77.40" y="320.79" font-size="4.6" fill="#c9735c" text-anchor="end" >SPARPRTSC [35]</text>
<line x1="81.70" y1="325.16" x2="83.70" y2="325.16" stroke="#222" stroke-width="0.7" />
<text x="77.40" y="326.81" font-size="4.6" fill="#c9735c" text-anchor="end" >SPARPRTS [35]</text>
<line x1="81.70" y1="331.18" x2="83.70" y2="331.18" stroke="#222" stroke-width="0.7" />
<text x="77.40" y="332.83" font-size="4.6" fill="#c9735c" text-anchor="end" >RPRTSCREA [38]</text>
<line x1="81.70" y1="337.20" x2="83.70" y2="337.20" stroke="#222" stroke-width="0.7" />
<text x="77.40" y="338.85" font-size="4.6" fill="#c9735c" text-anchor="end" >RPRTSCREAC [38]</text>
<line x1="81.70" y1="343.22" x2="83.70" y2="343.22" stroke="#222" stroke-width="0.7" />
<text x="77.4" y="344.87" font-size="4.6" fill="#3a3a3a" text-anchor="end">VLGLLLLR<tspan fill="#c8553a">A</tspan> [0]</text>
<line x1="81.70" y1="349.24" x2="83.70" y2="349.24" stroke="#222" stroke-width="0.7" />
<text x="77.4" y="350.89" font-size="4.6" fill="#3a3a3a" text-anchor="end">LLR<tspan fill="#c8553a">A</tspan>QFPAHY [6]</text>
<line x1="81.70" y1="355.26" x2="83.70" y2="355.26" stroke="#222" stroke-width="0.7" />
<text x="77.4" y="356.91" font-size="4.6" fill="#3a3a3a" text-anchor="end">R<tspan fill="#c8553a">A</tspan>QFPAHYR [7]</text>
<line x1="81.70" y1="361.28" x2="83.70" y2="361.28" stroke="#222" stroke-width="0.7" />
<text x="77.4" y="362.93" font-size="4.6" fill="#3a3a3a" text-anchor="end"><tspan fill="#c8553a">A</tspan>QFPAHYRR [8]</text>
<line x1="81.70" y1="367.30" x2="83.70" y2="367.30" stroke="#222" stroke-width="0.7" />
<text x="77.4" y="368.95" font-size="4.6" fill="#3a3a3a" text-anchor="end">R<tspan fill="#c8553a">A</tspan>QFPAHYRR [8]</text>
<line x1="81.70" y1="373.32" x2="83.70" y2="373.32" stroke="#222" stroke-width="0.7" />
<text x="77.4" y="374.97" font-size="4.6" fill="#3a3a3a" text-anchor="end"><tspan fill="#c8553a">A</tspan>QFPAHYRRL [9]</text>
<line x1="81.70" y1="379.34" x2="83.70" y2="379.34" stroke="#222" stroke-width="0.7" />
<text x="77.4" y="380.99" font-size="4.6" fill="#3a3a3a" text-anchor="end">AVLGLLLLR<tspan fill="#c8553a">K</tspan> [0]</text>
<line x1="81.70" y1="385.36" x2="83.70" y2="385.36" stroke="#222" stroke-width="0.7" />
<text x="77.4" y="387.01" font-size="4.6" fill="#3a3a3a" text-anchor="end">VLGLLLLR<tspan fill="#c8553a">K</tspan> [0]</text>
<line x1="81.70" y1="391.38" x2="83.70" y2="391.38" stroke="#222" stroke-width="0.7" />
<text x="77.4" y="393.03" font-size="4.6" fill="#3a3a3a" text-anchor="end"><tspan fill="#c8553a">K</tspan>QFPAHYRR [8]</text>
<line x1="81.70" y1="397.40" x2="83.70" y2="397.40" stroke="#222" stroke-width="0.7" />
<text x="77.4" y="399.05" font-size="4.6" fill="#3a3a3a" text-anchor="end"><tspan fill="#c8553a">K</tspan>QFPAHYRRL [9]</text>
<line x1="81.70" y1="403.42" x2="83.70" y2="403.42" stroke="#222" stroke-width="0.7" />
<text x="77.4" y="405.07" font-size="4.6" fill="#3a3a3a" text-anchor="end">VLGLLLLR<tspan fill="#c8553a">L</tspan> [0]</text>
<line x1="81.70" y1="409.44" x2="83.70" y2="409.44" stroke="#222" stroke-width="0.7" />
<text x="77.4" y="411.09" font-size="4.6" fill="#3a3a3a" text-anchor="end">R<tspan fill="#c8553a">L</tspan>QFPAHY [6]</text>
<line x1="81.70" y1="415.46" x2="83.70" y2="415.46" stroke="#222" stroke-width="0.7" />
<text x="77.4" y="417.11" font-size="4.6" fill="#3a3a3a" text-anchor="end">R<tspan fill="#c8553a">L</tspan>QFPAHYR [7]</text>
<line x1="81.70" y1="421.48" x2="83.70" y2="421.48" stroke="#222" stroke-width="0.7" />
<text x="77.4" y="423.13" font-size="4.6" fill="#3a3a3a" text-anchor="end">LR<tspan fill="#c8553a">L</tspan>QFPAHYR [7]</text>
<line x1="81.70" y1="427.50" x2="83.70" y2="427.50" stroke="#222" stroke-width="0.7" />
<text x="77.4" y="429.15" font-size="4.6" fill="#3a3a3a" text-anchor="end">R<tspan fill="#c8553a">L</tspan>QFPAHYRR [8]</text>
<line x1="81.70" y1="433.52" x2="83.70" y2="433.52" stroke="#222" stroke-width="0.7" />
<text x="77.4" y="435.17" font-size="4.6" fill="#3a3a3a" text-anchor="end"><tspan fill="#c8553a">L</tspan>QFPAHYRR [8]</text>
<circle cx="136.30" cy="186.70" r="1.85" fill="#111" stroke="none" stroke-width="0.5" />
<path d="M150.30,184.80 L152.20,186.70 L150.30,188.60 L148.40,186.70 Z" fill="#111"/>
<path d="M167.70,184.36 L169.95,188.26 L165.45,188.26 Z" fill="#111"/>
<path d="M91.70,190.38 L93.95,194.28 L89.45,194.28 Z" fill="#111"/>
<path d="M95.20,196.40 L97.45,200.30 L92.95,200.30 Z" fill="#111"/>
<circle cx="117.30" cy="204.76" r="1.85" fill="#111" stroke="none" stroke-width="0.5" />
<path d="M131.50,202.86 L133.40,204.76 L131.50,206.66 L129.60,204.76 Z" fill="#111"/>
<path d="M145.00,202.42 L147.25,206.32 L142.75,206.32 Z" fill="#111"/>
<circle cx="94.50" cy="210.78" r="1.75" fill="#9a9a9a" stroke="#4a4a4a" stroke-width="0.7" />
<circle cx="140.20" cy="216.80" r="1.75" fill="#e8a08d" stroke="#d0705a" stroke-width="0.7" />
<circle cx="116.70" cy="222.82" r="1.85" fill="#111" stroke="none" stroke-width="0.5" />
<path d="M136.30,220.92 L138.20,222.82 L136.30,224.72 L134.40,222.82 Z" fill="#111"/>
<path d="M147.10,220.48 L149.35,224.38 L144.85,224.38 Z" fill="#111"/>
<circle cx="112.80" cy="228.84" r="1.85" fill="#111" stroke="none" stroke-width="0.5" />
<path d="M119.20,226.94 L121.10,228.84 L119.20,230.74 L117.30,228.84 Z" fill="#111"/>
<path d="M128.20,226.50 L130.45,230.40 L125.95,230.40 Z" fill="#111"/>
<circle cx="110.00" cy="234.86" r="1.85" fill="#111" stroke="none" stroke-width="0.5" />
<path d="M133.60,232.52 L135.85,236.42 L131.35,236.42 Z" fill="#111"/>
<path d="M89.80,238.54 L92.05,242.44 L87.55,242.44 Z" fill="#111"/>
<path d="M95.90,238.98 L97.80,240.88 L95.90,242.78 L94.00,240.88 Z" fill="#111"/>
<circle cx="107.50" cy="240.88" r="1.85" fill="#111" stroke="none" stroke-width="0.5" />
<circle cx="111.20" cy="246.90" r="1.75" fill="#9a9a9a" stroke="#4a4a4a" stroke-width="0.7" />
<circle cx="91.10" cy="252.92" r="1.75" fill="#9a9a9a" stroke="#4a4a4a" stroke-width="0.7" />
<path d="M98.80,257.04 L100.70,258.94 L98.80,260.84 L96.90,258.94 Z" fill="#111"/>
<path d="M101.30,256.60 L103.55,260.50 L99.05,260.50 Z" fill="#111"/>
<path d="M103.30,256.60 L105.55,260.50 L101.05,260.50 Z" fill="#111"/>
<path d="M96.90,262.62 L99.15,266.52 L94.65,266.52 Z" fill="#111"/>
<circle cx="115.20" cy="270.98" r="1.75" fill="#e8a08d" stroke="#d0705a" stroke-width="0.7" />
<circle cx="97.80" cy="277.00" r="1.75" fill="#9a9a9a" stroke="#4a4a4a" stroke-width="0.7" />
<path d="M89.40,281.12 L91.30,283.02 L89.40,284.92 L87.50,283.02 Z" fill="#111"/>
<path d="M97.10,280.68 L99.35,284.58 L94.85,284.58 Z" fill="#111"/>
<rect x="93.50" y="287.34" width="3.40" height="3.40" fill="#111" />
<circle cx="109.60" cy="295.06" r="1.75" fill="#e8a08d" stroke="#d0705a" stroke-width="0.7" />
<circle cx="95.20" cy="301.08" r="1.85" fill="#111" stroke="none" stroke-width="0.5" />
<path d="M113.40,299.18 L115.30,301.08 L113.40,302.98 L111.50,301.08 Z" fill="#111"/>
<path d="M130.70,298.74 L132.95,302.64 L128.45,302.64 Z" fill="#111"/>
<circle cx="91.10" cy="307.10" r="1.75" fill="#9a9a9a" stroke="#4a4a4a" stroke-width="0.7" />
<rect x="110.30" y="311.52" width="3.20" height="3.20" fill="#c9543a" />
<rect x="165.70" y="317.54" width="3.20" height="3.20" fill="#c9543a" />
<rect x="92.50" y="323.46" width="3.40" height="3.40" fill="#111" />
<rect x="129.10" y="329.58" width="3.20" height="3.20" fill="#c9543a" />
<rect x="103.60" y="335.60" width="3.20" height="3.20" fill="#c9543a" />
<path d="M90.70,341.22 L92.70,343.22 L90.70,345.22 L88.70,343.22 Z" fill="#ddd" stroke="#111" stroke-width="0.85"/>
<line x1="88.70" y1="343.22" x2="92.70" y2="343.22" stroke="#111" stroke-width="0.55" />
<line x1="90.70" y1="341.22" x2="90.70" y2="345.22" stroke="#111" stroke-width="0.55" />
<circle cx="108.40" cy="349.24" r="1.50" fill="#bbb" stroke="#444" stroke-width="0.4" />
<line x1="106.50" y1="349.24" x2="110.30" y2="349.24" stroke="#111" stroke-width="0.6" />
<line x1="107.06" y1="347.90" x2="109.74" y2="350.58" stroke="#111" stroke-width="0.6" />
<line x1="108.40" y1="347.34" x2="108.40" y2="351.14" stroke="#111" stroke-width="0.6" />
<line x1="109.74" y1="347.90" x2="107.06" y2="350.58" stroke="#111" stroke-width="0.6" />
<circle cx="131.10" cy="355.26" r="1.75" fill="#9a9a9a" stroke="#4a4a4a" stroke-width="0.7" />
<circle cx="114.40" cy="361.28" r="1.75" fill="#9a9a9a" stroke="#4a4a4a" stroke-width="0.7" />
<circle cx="100.70" cy="367.30" r="1.75" fill="#9a9a9a" stroke="#4a4a4a" stroke-width="0.7" />
<circle cx="100.70" cy="373.32" r="1.50" fill="#fff" stroke="#111" stroke-width="0.9" />
<circle cx="151.90" cy="379.34" r="1.75" fill="#9a9a9a" stroke="#4a4a4a" stroke-width="0.7" />
<circle cx="149.80" cy="385.36" r="1.75" fill="#e8a08d" stroke="#d0705a" stroke-width="0.7" />
<circle cx="122.60" cy="391.38" r="1.75" fill="#e8a08d" stroke="#d0705a" stroke-width="0.7" />
<rect x="87.40" y="395.90" width="3.00" height="3.00" fill="#cfe" stroke="#111" stroke-width="0.8"/>
<path d="M102.80,401.42 L104.80,403.42 L102.80,405.42 L100.80,403.42 Z" fill="#ddd" stroke="#111" stroke-width="0.85"/>
<line x1="100.80" y1="403.42" x2="104.80" y2="403.42" stroke="#111" stroke-width="0.55" />
<line x1="102.80" y1="401.42" x2="102.80" y2="405.42" stroke="#111" stroke-width="0.55" />
<circle cx="88.90" cy="409.44" r="1.50" fill="#fff" stroke="#222" stroke-width="0.8" />
<circle cx="190.50" cy="415.46" r="1.75" fill="#e8a08d" stroke="#d0705a" stroke-width="0.7" />
<circle cx="105.90" cy="421.48" r="1.75" fill="#e8a08d" stroke="#d0705a" stroke-width="0.7" />
<circle cx="149.40" cy="427.50" r="1.75" fill="#9a9a9a" stroke="#4a4a4a" stroke-width="0.7" />
<circle cx="90.70" cy="433.52" r="1.75" fill="#9a9a9a" stroke="#4a4a4a" stroke-width="0.7" />
<circle cx="170.50" cy="237.70" r="2.01" fill="#e8a08d" stroke="#d0705a" stroke-width="0.8049999999999999" />
<text x="175.50" y="239.40" font-size="4.8" fill="#c9735c" text-anchor="start" textLength="17.5" lengthAdjust="spacingAndGlyphs">A*03:01</text>
<rect x="168.54" y="245.72" width="3.91" height="3.91" fill="#a0a0a0" stroke="#555" stroke-width="0.575"/>
<line x1="168.54" y1="247.68" x2="172.46" y2="247.68" stroke="#555" stroke-width="0.5175" />
<line x1="170.50" y1="245.72" x2="170.50" y2="249.63" stroke="#555" stroke-width="0.5175" />
<text x="175.50" y="249.38" font-size="4.8" fill="#333" text-anchor="start" textLength="17.5" lengthAdjust="spacingAndGlyphs">A*24:02</text>
<rect x="168.66" y="255.82" width="3.68" height="3.68" fill="#c9543a" />
<text x="175.50" y="259.36" font-size="4.8" fill="#c9735c" text-anchor="start" textLength="17.5" lengthAdjust="spacingAndGlyphs">B*07:02</text>
<circle cx="170.50" cy="267.64" r="1.72" fill="#fff" stroke="#111" stroke-width="1.035" />
<text x="175.50" y="269.34" font-size="4.8" fill="#333" text-anchor="start" textLength="17.5" lengthAdjust="spacingAndGlyphs">B*40:01</text>
<path d="M170.50,274.93 L173.09,279.41 L167.91,279.41 Z" fill="#111"/>
<text x="175.50" y="279.32" font-size="4.8" fill="#333" text-anchor="start" textLength="17.5" lengthAdjust="spacingAndGlyphs">C*06:02</text>
<path d="M170.50,285.42 L172.69,287.60 L170.50,289.79 L168.31,287.60 Z" fill="#111"/>
<text x="175.50" y="289.30" font-size="4.8" fill="#333" text-anchor="start" textLength="17.5" lengthAdjust="spacingAndGlyphs">C*07:01</text>
<circle cx="170.50" cy="297.58" r="2.13" fill="#111" stroke="none" stroke-width="0.5" />
<text x="175.50" y="299.28" font-size="4.8" fill="#333" text-anchor="start" textLength="17.5" lengthAdjust="spacingAndGlyphs">C*07:02</text>
<text x="212.20" y="160.40" font-size="11.2" fill="#111" text-anchor="start" >C</text>
<text x="336.80" y="171.00" font-size="5.0" fill="#222" text-anchor="middle" textLength="28.2" lengthAdjust="spacingAndGlyphs">Weak binder</text>
<text x="413.20" y="171.00" font-size="5.0" fill="#222" text-anchor="middle" textLength="31.7" lengthAdjust="spacingAndGlyphs">Strong binder</text>
<rect x="311.70" y="175.00" width="50.40" height="5.70" fill="#1aa1b0" />
<rect x="362.10" y="175.00" width="101.40" height="5.70" fill="#d47f6c" />
<rect x="223.00" y="181.20" width="5.40" height="378.50" fill="#b4528a" />
<text transform="translate(218.2,371) rotate(-90)" font-size="7.5" fill="#222" text-anchor="middle" textLength="19.1" lengthAdjust="spacingAndGlyphs">SF3B1</text>
<line x1="311.50" y1="180.70" x2="311.50" y2="561.50" stroke="#4fbfcb" stroke-width="1.0" />
<line x1="362.70" y1="180.70" x2="362.70" y2="561.50" stroke="#d8968a" stroke-width="0.8" />
<line x1="304.50" y1="182.00" x2="304.50" y2="562.20" stroke="#222" stroke-width="0.9" />
<line x1="304.10" y1="561.80" x2="464.50" y2="561.80" stroke="#222" stroke-width="0.9" />
<line x1="311.60" y1="561.80" x2="311.60" y2="564.20" stroke="#222" stroke-width="0.8" />
<text x="311.60" y="572.30" font-size="5.0" fill="#222" text-anchor="middle" >2</text>
<line x1="362.50" y1="561.80" x2="362.50" y2="564.20" stroke="#222" stroke-width="0.8" />
<text x="362.50" y="572.30" font-size="5.0" fill="#222" text-anchor="middle" >0.5</text>
<line x1="422.30" y1="561.80" x2="422.30" y2="564.20" stroke="#222" stroke-width="0.8" />
<text x="422.30" y="572.30" font-size="5.0" fill="#222" text-anchor="middle" >0.1</text>
<text x="385.70" y="584.40" font-size="7.6" fill="#222" text-anchor="middle" textLength="37.5" lengthAdjust="spacingAndGlyphs">log2(%rank)</text>
<line x1="301.60" y1="184.90" x2="304.50" y2="184.90" stroke="#222" stroke-width="0.7" />
<text x="299.0" y="186.50" font-size="4.5" fill="#333" text-anchor="end">PRPF38A_SPKRRS<tspan fill="#c8553a">LTSL</tspan>_10</text>
<line x1="301.60" y1="190.40" x2="304.50" y2="190.40" stroke="#222" stroke-width="0.7" />
<text x="299.0" y="192.00" font-size="4.5" fill="#333" text-anchor="end">FLT3LG_<tspan fill="#c8553a">QWDPGLLL</tspan>_8</text>
<line x1="301.60" y1="195.90" x2="304.50" y2="195.90" stroke="#222" stroke-width="0.7" />
<text x="299.0" y="197.50" font-size="4.5" fill="#333" text-anchor="end">FLT3LG_APWWSPT<tspan fill="#c8553a">HPL</tspan>_10</text>
<line x1="301.60" y1="201.40" x2="304.50" y2="201.40" stroke="#222" stroke-width="0.7" />
<text x="299.0" y="203.00" font-size="4.5" fill="#333" text-anchor="end">PRPF38A_SRSPKRRS<tspan fill="#c8553a">L</tspan>_9</text>
<line x1="301.60" y1="206.90" x2="304.50" y2="206.90" stroke="#222" stroke-width="0.7" />
<text x="299.0" y="208.50" font-size="4.5" fill="#333" text-anchor="end">FLT3LG_<tspan fill="#c8553a">LLLPTQPHL</tspan>_9</text>
<line x1="301.60" y1="212.40" x2="304.50" y2="212.40" stroke="#222" stroke-width="0.7" />
<text x="299.0" y="214.00" font-size="4.5" fill="#333" text-anchor="end">C7orf41_QPSRSHLMS<tspan fill="#c8553a">L</tspan>_10</text>
<line x1="301.60" y1="217.90" x2="304.50" y2="217.90" stroke="#222" stroke-width="0.7" />
<text x="299.0" y="219.50" font-size="4.5" fill="#333" text-anchor="end">FLT3LG_<tspan fill="#c8553a">SPPAAAAEL</tspan>_9</text>
<line x1="301.60" y1="223.40" x2="304.50" y2="223.40" stroke="#222" stroke-width="0.7" />
<text x="299.0" y="225.00" font-size="4.5" fill="#333" text-anchor="end">TTI1_<tspan fill="#c8553a">MRMTPVQMW</tspan>_9</text>
<line x1="301.60" y1="228.90" x2="304.50" y2="228.90" stroke="#222" stroke-width="0.7" />
<text x="299.0" y="230.50" font-size="4.5" fill="#333" text-anchor="end">TTI1_DFDNEE<tspan fill="#c8553a">VVL</tspan>_9</text>
<line x1="301.60" y1="234.40" x2="304.50" y2="234.40" stroke="#222" stroke-width="0.7" />
<text x="299.0" y="236.00" font-size="4.5" fill="#333" text-anchor="end">ZNF397_EPSFRGI<tspan fill="#c8553a">TF</tspan>_9</text>
<line x1="301.60" y1="239.90" x2="304.50" y2="239.90" stroke="#222" stroke-width="0.7" />
<text x="299.0" y="241.50" font-size="4.5" fill="#333" text-anchor="end">PRPF38A_KRRS<tspan fill="#c8553a">LTSLF</tspan>_9</text>
<line x1="301.60" y1="245.40" x2="304.50" y2="245.40" stroke="#222" stroke-width="0.7" />
<text x="299.0" y="247.00" font-size="4.5" fill="#333" text-anchor="end">VWA7_HPPKPP<tspan fill="#c8553a">MPF</tspan>_9</text>
<line x1="301.60" y1="250.90" x2="304.50" y2="250.90" stroke="#222" stroke-width="0.7" />
<text x="299.0" y="252.50" font-size="4.5" fill="#333" text-anchor="end">OXA1L_PWWGAIAA<tspan fill="#c8553a">F</tspan>_9</text>
<line x1="301.60" y1="256.40" x2="304.50" y2="256.40" stroke="#222" stroke-width="0.7" />
<text x="299.0" y="258.00" font-size="4.5" fill="#333" text-anchor="end">TTI1_<tspan fill="#c8553a">FFQRNSQSL</tspan>_9</text>
<line x1="301.60" y1="261.90" x2="304.50" y2="261.90" stroke="#222" stroke-width="0.7" />
<text x="299.0" y="263.50" font-size="4.5" fill="#333" text-anchor="end">PPM1A_QEDPHR<tspan fill="#c8553a">MVF</tspan>_9</text>
<line x1="301.60" y1="267.40" x2="304.50" y2="267.40" stroke="#222" stroke-width="0.7" />
<text x="299.0" y="269.00" font-size="4.5" fill="#333" text-anchor="end">CBY1_<tspan fill="#c8553a">STAESHLMEK</tspan>_10</text>
<line x1="301.60" y1="272.90" x2="304.50" y2="272.90" stroke="#222" stroke-width="0.7" />
<text x="299.0" y="274.50" font-size="4.5" fill="#333" text-anchor="end">PRPF38A_<tspan fill="#c8553a">SLFY</tspan>SPSPRR_10</text>
<line x1="301.60" y1="278.40" x2="304.50" y2="278.40" stroke="#222" stroke-width="0.7" />
<text x="299.0" y="280.00" font-size="4.5" fill="#333" text-anchor="end">FLT3LG_SPT<tspan fill="#c8553a">HPLPCSL</tspan>_10</text>
<line x1="301.60" y1="283.90" x2="304.50" y2="283.90" stroke="#222" stroke-width="0.7" />
<text x="299.0" y="285.50" font-size="4.5" fill="#333" text-anchor="end">TTI1_<tspan fill="#c8553a">MRMTPVQM</tspan>_8</text>
<line x1="301.60" y1="289.40" x2="304.50" y2="289.40" stroke="#222" stroke-width="0.7" />
<text x="299.0" y="291.00" font-size="4.5" fill="#333" text-anchor="end">PRPF38A_RRS<tspan fill="#c8553a">LTSLFY</tspan>_9</text>
<line x1="301.60" y1="294.90" x2="304.50" y2="294.90" stroke="#222" stroke-width="0.7" />
<text x="299.0" y="296.50" font-size="4.5" fill="#333" text-anchor="end">ZFYVE27_FLTLNE<tspan fill="#c8553a">VFL</tspan>_9</text>
<line x1="301.60" y1="300.40" x2="304.50" y2="300.40" stroke="#222" stroke-width="0.7" />
<text x="299.0" y="302.00" font-size="4.5" fill="#333" text-anchor="end">ZFYVE27_TLNE<tspan fill="#c8553a">VFLIL</tspan>_9</text>
<line x1="301.60" y1="305.90" x2="304.50" y2="305.90" stroke="#222" stroke-width="0.7" />
<text x="299.0" y="307.50" font-size="4.5" fill="#333" text-anchor="end">CBY1_<tspan fill="#c8553a">SESTAESHL</tspan>_9</text>
<line x1="301.60" y1="311.40" x2="304.50" y2="311.40" stroke="#222" stroke-width="0.7" />
<text x="299.0" y="313.00" font-size="4.5" fill="#333" text-anchor="end">CC2D1A_K<tspan fill="#c8553a">PRPPQ</tspan>MPPA_10</text>
<line x1="301.60" y1="316.90" x2="304.50" y2="316.90" stroke="#222" stroke-width="0.7" />
<text x="299.0" y="318.50" font-size="4.5" fill="#333" text-anchor="end">OXA1L_LPWWGAIAA<tspan fill="#c8553a">F</tspan>_10</text>
<line x1="301.60" y1="322.40" x2="304.50" y2="322.40" stroke="#222" stroke-width="0.7" />
<text x="299.0" y="324.00" font-size="4.5" fill="#333" text-anchor="end">PRPF38A_<tspan fill="#c8553a">SLFY</tspan>SPSPR_9</text>
<line x1="301.60" y1="327.90" x2="304.50" y2="327.90" stroke="#222" stroke-width="0.7" />
<text x="299.0" y="329.50" font-size="4.5" fill="#333" text-anchor="end">ZFYVE27_VLFLTLNE<tspan fill="#c8553a">V</tspan>_9</text>
<line x1="301.60" y1="333.40" x2="304.50" y2="333.40" stroke="#222" stroke-width="0.7" />
<text x="299.0" y="335.00" font-size="4.5" fill="#333" text-anchor="end">PPM1A_<tspan fill="#c8553a">MVFTGSQSW</tspan>_9</text>
<line x1="301.60" y1="338.90" x2="304.50" y2="338.90" stroke="#222" stroke-width="0.7" />
<text x="299.0" y="340.50" font-size="4.5" fill="#333" text-anchor="end">TBRG1_<tspan fill="#c8553a">LRFSSEENM</tspan>_9</text>
<line x1="301.60" y1="344.40" x2="304.50" y2="344.40" stroke="#222" stroke-width="0.7" />
<text x="299.0" y="346.00" font-size="4.5" fill="#333" text-anchor="end">ACOT11_<tspan fill="#c8553a">RPKSTADL</tspan>_8</text>
<line x1="301.60" y1="349.90" x2="304.50" y2="349.90" stroke="#222" stroke-width="0.7" />
<text x="299.0" y="351.50" font-size="4.5" fill="#333" text-anchor="end">ZFYVE27_LFLTLNE<tspan fill="#c8553a">VF</tspan>_9</text>
<line x1="301.60" y1="355.40" x2="304.50" y2="355.40" stroke="#222" stroke-width="0.7" />
<text x="299.0" y="357.00" font-size="4.5" fill="#333" text-anchor="end">CBY1_<tspan fill="#c8553a">SWDQPGRW</tspan>_9</text>
<line x1="301.60" y1="360.90" x2="304.50" y2="360.90" stroke="#222" stroke-width="0.7" />
<text x="299.0" y="362.50" font-size="4.5" fill="#333" text-anchor="end">TBRG1_<tspan fill="#c8553a">HRTRGSNSI</tspan>_9</text>
<line x1="301.60" y1="366.40" x2="304.50" y2="366.40" stroke="#222" stroke-width="0.7" />
<text x="299.0" y="368.00" font-size="4.5" fill="#333" text-anchor="end">TTI1_SDFDNEE<tspan fill="#c8553a">VVL</tspan>_10</text>
<line x1="301.60" y1="371.90" x2="304.50" y2="371.90" stroke="#222" stroke-width="0.7" />
<text x="299.0" y="373.50" font-size="4.5" fill="#333" text-anchor="end">ZNF397_SFRGI<tspan fill="#c8553a">TFPF</tspan>_9</text>
<line x1="301.60" y1="377.40" x2="304.50" y2="377.40" stroke="#222" stroke-width="0.7" />
<text x="299.0" y="379.00" font-size="4.5" fill="#333" text-anchor="end">RWDD4_SANEDQE<tspan fill="#c8553a">FF</tspan>_9</text>
<line x1="301.60" y1="382.90" x2="304.50" y2="382.90" stroke="#222" stroke-width="0.7" />
<text x="299.0" y="384.50" font-size="4.5" fill="#333" text-anchor="end">CBY1_<tspan fill="#c8553a">HLMEKELDEL</tspan>_10</text>
<line x1="301.60" y1="388.40" x2="304.50" y2="388.40" stroke="#222" stroke-width="0.7" />
<text x="299.0" y="390.00" font-size="4.5" fill="#333" text-anchor="end">FLT3LG_<tspan fill="#c8553a">TQWDPGLLL</tspan>_9</text>
<line x1="301.60" y1="393.90" x2="304.50" y2="393.90" stroke="#222" stroke-width="0.7" />
<text x="299.0" y="395.50" font-size="4.5" fill="#333" text-anchor="end">MAP3K7_AEGGSLYN<tspan fill="#c8553a">V</tspan>_9</text>
<line x1="301.60" y1="399.40" x2="304.50" y2="399.40" stroke="#222" stroke-width="0.7" />
<text x="299.0" y="401.00" font-size="4.5" fill="#333" text-anchor="end">FLT3LG_<tspan fill="#c8553a">LLPTQPHLL</tspan>_9</text>
<line x1="301.60" y1="404.90" x2="304.50" y2="404.90" stroke="#222" stroke-width="0.7" />
<text x="299.0" y="406.50" font-size="4.5" fill="#333" text-anchor="end">ACOT11_<tspan fill="#c8553a">STADLDTFK</tspan>_9</text>
<line x1="301.60" y1="410.40" x2="304.50" y2="410.40" stroke="#222" stroke-width="0.7" />
<text x="299.0" y="412.00" font-size="4.5" fill="#333" text-anchor="end">CC2D1A_<tspan fill="#c8553a">RPPQ</tspan>MPPAPV_10</text>
<line x1="301.60" y1="415.90" x2="304.50" y2="415.90" stroke="#222" stroke-width="0.7" />
<text x="299.0" y="417.50" font-size="4.5" fill="#333" text-anchor="end">VWA7_<tspan fill="#c8553a">FPNP</tspan>GKCSH_9</text>
<line x1="301.60" y1="421.40" x2="304.50" y2="421.40" stroke="#222" stroke-width="0.7" />
<text x="299.0" y="423.00" font-size="4.5" fill="#333" text-anchor="end">CC2D1A_K<tspan fill="#c8553a">PRPPQ</tspan>MPP_9</text>
<line x1="301.60" y1="426.90" x2="304.50" y2="426.90" stroke="#222" stroke-width="0.7" />
<text x="299.0" y="428.50" font-size="4.5" fill="#333" text-anchor="end">ZFYVE27_NE<tspan fill="#c8553a">VFLILQV</tspan>_9</text>
<line x1="301.60" y1="432.40" x2="304.50" y2="432.40" stroke="#222" stroke-width="0.7" />
<text x="299.0" y="434.00" font-size="4.5" fill="#333" text-anchor="end">FLT3LG_<tspan fill="#c8553a">LPTQPHLL</tspan>_8</text>
<line x1="301.60" y1="437.90" x2="304.50" y2="437.90" stroke="#222" stroke-width="0.7" />
<text x="299.0" y="439.50" font-size="4.5" fill="#333" text-anchor="end">RWDD4_MSANEDQE<tspan fill="#c8553a">F</tspan>_9</text>
<line x1="301.60" y1="443.40" x2="304.50" y2="443.40" stroke="#222" stroke-width="0.7" />
<text x="299.0" y="445.00" font-size="4.5" fill="#333" text-anchor="end">FLT3LG_<tspan fill="#c8553a">GLLLPTQPHL</tspan>_10</text>
<line x1="301.60" y1="448.90" x2="304.50" y2="448.90" stroke="#222" stroke-width="0.7" />
<text x="299.0" y="450.50" font-size="4.5" fill="#333" text-anchor="end">RWDD4_<tspan fill="#c8553a">FISDGTRSL</tspan>_9</text>
<line x1="301.60" y1="454.40" x2="304.50" y2="454.40" stroke="#222" stroke-width="0.7" />
<text x="299.0" y="456.00" font-size="4.5" fill="#333" text-anchor="end">ZFYVE27_<tspan fill="#c8553a">FLILQVHGT</tspan>_9</text>
<line x1="301.60" y1="459.90" x2="304.50" y2="459.90" stroke="#222" stroke-width="0.7" />
<text x="299.0" y="461.50" font-size="4.5" fill="#333" text-anchor="end">ACOT11_<tspan fill="#c8553a">DTFKTPETL</tspan>_9</text>
<line x1="301.60" y1="465.40" x2="304.50" y2="465.40" stroke="#222" stroke-width="0.7" />
<text x="299.0" y="467.00" font-size="4.5" fill="#333" text-anchor="end">TTI1_DFDNEE<tspan fill="#c8553a">VVLF</tspan>_10</text>
<line x1="301.60" y1="470.90" x2="304.50" y2="470.90" stroke="#222" stroke-width="0.7" />
<text x="299.0" y="472.50" font-size="4.5" fill="#333" text-anchor="end">FLT3LG_<tspan fill="#c8553a">LPTQPHLLRL</tspan>_10</text>
<line x1="301.60" y1="476.40" x2="304.50" y2="476.40" stroke="#222" stroke-width="0.7" />
<text x="299.0" y="478.00" font-size="4.5" fill="#333" text-anchor="end">ACOT11_<tspan fill="#c8553a">SRPKSTADL</tspan>_9</text>
<line x1="301.60" y1="481.90" x2="304.50" y2="481.90" stroke="#222" stroke-width="0.7" />
<text x="299.0" y="483.50" font-size="4.5" fill="#333" text-anchor="end">ZNF397_GEPSFRGI<tspan fill="#c8553a">TF</tspan>_10</text>
<line x1="301.60" y1="487.40" x2="304.50" y2="487.40" stroke="#222" stroke-width="0.7" />
<text x="299.0" y="489.00" font-size="4.5" fill="#333" text-anchor="end">TBRG1_KENNKLE<tspan fill="#c8553a">DL</tspan>_9</text>
<line x1="301.60" y1="492.90" x2="304.50" y2="492.90" stroke="#222" stroke-width="0.7" />
<text x="299.0" y="494.50" font-size="4.5" fill="#333" text-anchor="end">ZNF397_<tspan fill="#c8553a">FPFCF</tspan>LEL_8</text>
<line x1="301.60" y1="498.40" x2="304.50" y2="498.40" stroke="#222" stroke-width="0.7" />
<text x="299.0" y="500.00" font-size="4.5" fill="#333" text-anchor="end">ACOT11_<tspan fill="#c8553a">KSTADLDTFK</tspan>_10</text>
<line x1="301.60" y1="503.90" x2="304.50" y2="503.90" stroke="#222" stroke-width="0.7" />
<text x="299.0" y="505.50" font-size="4.5" fill="#333" text-anchor="end">FLT3LG_<tspan fill="#c8553a">LLLPTQPHLL</tspan>_10</text>
<line x1="301.60" y1="509.40" x2="304.50" y2="509.40" stroke="#222" stroke-width="0.7" />
<text x="299.0" y="511.00" font-size="4.5" fill="#333" text-anchor="end">RWDD4_<tspan fill="#c8553a">TRSITLYL</tspan>_8</text>
<line x1="301.60" y1="514.90" x2="304.50" y2="514.90" stroke="#222" stroke-width="0.7" />
<text x="299.0" y="516.50" font-size="4.5" fill="#333" text-anchor="end">CC2D1A_<tspan fill="#c8553a">Q</tspan>VPPAPVNK_9</text>
<line x1="301.60" y1="520.40" x2="304.50" y2="520.40" stroke="#222" stroke-width="0.7" />
<text x="299.0" y="522.00" font-size="4.5" fill="#333" text-anchor="end">TMCC2_YERARDKQ<tspan fill="#c8553a">PL</tspan>_10</text>
<line x1="301.60" y1="525.90" x2="304.50" y2="525.90" stroke="#222" stroke-width="0.7" />
<text x="299.0" y="527.50" font-size="4.5" fill="#333" text-anchor="end">C7orf43_SRSHLMS<tspan fill="#c8553a">L</tspan>_8</text>
<line x1="301.60" y1="531.40" x2="304.50" y2="531.40" stroke="#222" stroke-width="0.7" />
<text x="299.0" y="533.00" font-size="4.5" fill="#333" text-anchor="end">FLT3LG_<tspan fill="#c8553a">AAAELGTQW</tspan>_9</text>
<line x1="301.60" y1="536.90" x2="304.50" y2="536.90" stroke="#222" stroke-width="0.7" />
<text x="299.0" y="538.50" font-size="4.5" fill="#333" text-anchor="end">MAP3K7_SLYN<tspan fill="#c8553a">VCAFL</tspan>_9</text>
<line x1="301.60" y1="542.40" x2="304.50" y2="542.40" stroke="#222" stroke-width="0.7" />
<text x="299.0" y="544.00" font-size="4.5" fill="#333" text-anchor="end">CBY1_<tspan fill="#c8553a">AESHLMEKEL</tspan>_10</text>
<line x1="301.60" y1="547.90" x2="304.50" y2="547.90" stroke="#222" stroke-width="0.7" />
<text x="299.0" y="549.50" font-size="4.5" fill="#333" text-anchor="end">CC2D1A_ITK<tspan fill="#c8553a">PRPPQ</tspan>V_9</text>
<line x1="301.60" y1="553.40" x2="304.50" y2="553.40" stroke="#222" stroke-width="0.7" />
<text x="299.0" y="555.00" font-size="4.5" fill="#333" text-anchor="end">TBRG1_<tspan fill="#c8553a">SLRTACVPHR</tspan>_10</text>
<line x1="301.60" y1="558.90" x2="304.50" y2="558.90" stroke="#222" stroke-width="0.7" />
<text x="299.0" y="560.50" font-size="4.5" fill="#333" text-anchor="end">TBRG1_<tspan fill="#c8553a">RTACVPHRTR</tspan>_10</text>
<rect x="456.73" y="183.43" width="2.94" height="2.94" fill="#c9543a" />
<rect x="323.94" y="188.84" width="3.13" height="3.13" fill="#a0a0a0" stroke="#555" stroke-width="0.46"/>
<line x1="323.94" y1="190.40" x2="327.06" y2="190.40" stroke="#555" stroke-width="0.41400000000000003" />
<line x1="325.50" y1="188.84" x2="325.50" y2="191.96" stroke="#555" stroke-width="0.41400000000000003" />
<circle cx="456.60" cy="190.40" r="1.70" fill="#111" stroke="none" stroke-width="0.5" />
<rect x="451.93" y="194.43" width="2.94" height="2.94" fill="#c9543a" />
<rect x="320.44" y="199.84" width="3.13" height="3.13" fill="#111" />
<circle cx="426.70" cy="201.40" r="1.38" fill="#fff" stroke="#222" stroke-width="0.7360000000000001" />
<circle cx="436.10" cy="201.40" r="1.38" fill="#fff" stroke="#222" stroke-width="0.7360000000000001" />
<circle cx="452.20" cy="201.40" r="1.15" fill="#111" stroke="none" stroke-width="0.5" />
<circle cx="320.70" cy="206.90" r="1.38" fill="#fff" stroke="#222" stroke-width="0.7360000000000001" />
<rect x="331.41" y="205.61" width="2.58" height="2.58" fill="#fff" stroke="#333" stroke-width="0.552"/>
<circle cx="353.60" cy="206.90" r="1.70" fill="#111" stroke="none" stroke-width="0.5" />
<path d="M441.20,205.06 L443.04,206.90 L441.20,208.74 L439.36,206.90 Z" fill="#ddd" stroke="#111" stroke-width="0.782"/>
<line x1="439.36" y1="206.90" x2="443.04" y2="206.90" stroke="#111" stroke-width="0.5060000000000001" />
<line x1="441.20" y1="205.06" x2="441.20" y2="208.74" stroke="#111" stroke-width="0.5060000000000001" />
<rect x="434.63" y="210.93" width="2.94" height="2.94" fill="#c9543a" />
<circle cx="344.80" cy="217.90" r="1.15" fill="#111" stroke="none" stroke-width="0.5" />
<circle cx="354.60" cy="217.90" r="1.70" fill="#111" stroke="none" stroke-width="0.5" />
<rect x="430.03" y="216.43" width="2.94" height="2.94" fill="#c9543a" />
<rect x="323.74" y="221.84" width="3.13" height="3.13" fill="#a0a0a0" stroke="#555" stroke-width="0.46"/>
<line x1="323.74" y1="223.40" x2="326.86" y2="223.40" stroke="#555" stroke-width="0.41400000000000003" />
<line x1="325.30" y1="221.84" x2="325.30" y2="224.96" stroke="#555" stroke-width="0.41400000000000003" />
<rect x="390.81" y="222.11" width="2.58" height="2.58" fill="#fff" stroke="#333" stroke-width="0.552"/>
<circle cx="419.80" cy="223.40" r="1.38" fill="#fff" stroke="#222" stroke-width="0.7360000000000001" />
<circle cx="430.90" cy="223.40" r="1.15" fill="#111" stroke="none" stroke-width="0.5" />
<circle cx="426.60" cy="228.90" r="1.70" fill="#111" stroke="none" stroke-width="0.5" />
<path d="M346.20,232.65 L347.95,234.40 L346.20,236.15 L344.45,234.40 Z" fill="#111"/>
<rect x="392.33" y="232.93" width="2.94" height="2.94" fill="#c9543a" />
<circle cx="424.50" cy="234.40" r="1.70" fill="#111" stroke="none" stroke-width="0.5" />
<rect x="401.01" y="238.61" width="2.58" height="2.58" fill="#fff" stroke="#333" stroke-width="0.552"/>
<circle cx="415.80" cy="239.90" r="1.38" fill="#fff" stroke="#222" stroke-width="0.7360000000000001" />
<circle cx="423.50" cy="239.90" r="1.15" fill="#111" stroke="none" stroke-width="0.5" />
<circle cx="313.70" cy="245.40" r="1.70" fill="#111" stroke="none" stroke-width="0.5" />
<path d="M339.70,243.65 L341.45,245.40 L339.70,247.15 L337.95,245.40 Z" fill="#111"/>
<rect x="409.33" y="243.93" width="2.94" height="2.94" fill="#c9543a" />
<circle cx="420.30" cy="245.40" r="1.70" fill="#111" stroke="none" stroke-width="0.5" />
<circle cx="318.30" cy="250.90" r="1.70" fill="#111" stroke="none" stroke-width="0.5" />
<rect x="416.94" y="249.34" width="3.13" height="3.13" fill="#a0a0a0" stroke="#555" stroke-width="0.46"/>
<line x1="416.94" y1="250.90" x2="420.06" y2="250.90" stroke="#555" stroke-width="0.41400000000000003" />
<line x1="418.50" y1="249.34" x2="418.50" y2="252.46" stroke="#555" stroke-width="0.41400000000000003" />
<rect x="347.84" y="254.84" width="3.13" height="3.13" fill="#a0a0a0" stroke="#555" stroke-width="0.46"/>
<line x1="347.84" y1="256.40" x2="350.96" y2="256.40" stroke="#555" stroke-width="0.41400000000000003" />
<line x1="349.40" y1="254.84" x2="349.40" y2="257.96" stroke="#555" stroke-width="0.41400000000000003" />
<circle cx="355.80" cy="256.40" r="1.15" fill="#111" stroke="none" stroke-width="0.5" />
<circle cx="386.90" cy="256.40" r="1.38" fill="#fff" stroke="#222" stroke-width="0.7360000000000001" />
<circle cx="414.20" cy="256.40" r="1.70" fill="#111" stroke="none" stroke-width="0.5" />
<circle cx="323.40" cy="261.90" r="1.70" fill="#111" stroke="none" stroke-width="0.5" />
<rect x="324.44" y="260.34" width="3.13" height="3.13" fill="#111" />
<circle cx="344.00" cy="261.90" r="1.38" fill="#fff" stroke="#222" stroke-width="0.7360000000000001" />
<rect x="345.71" y="260.61" width="2.58" height="2.58" fill="#fff" stroke="#333" stroke-width="0.552"/>
<circle cx="355.50" cy="261.90" r="1.70" fill="#111" stroke="none" stroke-width="0.5" />
<circle cx="394.30" cy="261.90" r="1.70" fill="#111" stroke="none" stroke-width="0.5" />
<path d="M413.10,259.75 L415.17,263.34 L411.03,263.34 Z" fill="#111"/>
<circle cx="413.10" cy="267.40" r="1.61" fill="#9a9a9a" stroke="#4a4a4a" stroke-width="0.644" />
<circle cx="411.10" cy="272.90" r="1.61" fill="#9a9a9a" stroke="#4a4a4a" stroke-width="0.644" />
<rect x="409.64" y="276.84" width="3.13" height="3.13" fill="#111" />
<rect x="376.61" y="282.61" width="2.58" height="2.58" fill="#fff" stroke="#333" stroke-width="0.552"/>
<circle cx="404.60" cy="283.90" r="1.15" fill="#111" stroke="none" stroke-width="0.5" />
<circle cx="408.90" cy="283.90" r="1.38" fill="#fff" stroke="#222" stroke-width="0.7360000000000001" />
<circle cx="315.10" cy="289.40" r="1.38" fill="#bbb" stroke="#444" stroke-width="0.36800000000000005" />
<line x1="313.35" y1="289.40" x2="316.85" y2="289.40" stroke="#111" stroke-width="0.552" />
<line x1="313.86" y1="288.16" x2="316.34" y2="290.64" stroke="#111" stroke-width="0.552" />
<line x1="315.10" y1="287.65" x2="315.10" y2="291.15" stroke="#111" stroke-width="0.552" />
<line x1="316.34" y1="288.16" x2="313.86" y2="290.64" stroke="#111" stroke-width="0.552" />
<circle cx="389.20" cy="289.40" r="1.38" fill="#fff" stroke="#222" stroke-width="0.7360000000000001" />
<circle cx="394.90" cy="289.40" r="1.15" fill="#111" stroke="none" stroke-width="0.5" />
<circle cx="408.90" cy="289.40" r="1.38" fill="#fff" stroke="#222" stroke-width="0.7360000000000001" />
<circle cx="325.10" cy="294.90" r="1.70" fill="#111" stroke="none" stroke-width="0.5" />
<path d="M405.70,293.06 L407.54,294.90 L405.70,296.74 L403.86,294.90 Z" fill="#ddd" stroke="#111" stroke-width="0.782"/>
<line x1="403.86" y1="294.90" x2="407.54" y2="294.90" stroke="#111" stroke-width="0.5060000000000001" />
<line x1="405.70" y1="293.06" x2="405.70" y2="296.74" stroke="#111" stroke-width="0.5060000000000001" />
<rect x="312.41" y="299.11" width="2.58" height="2.58" fill="#fff" stroke="#333" stroke-width="0.552"/>
<circle cx="357.80" cy="300.40" r="1.70" fill="#111" stroke="none" stroke-width="0.5" />
<path d="M399.50,298.56 L401.34,300.40 L399.50,302.24 L397.66,300.40 Z" fill="#ddd" stroke="#111" stroke-width="0.782"/>
<line x1="397.66" y1="300.40" x2="401.34" y2="300.40" stroke="#111" stroke-width="0.5060000000000001" />
<line x1="399.50" y1="298.56" x2="399.50" y2="302.24" stroke="#111" stroke-width="0.5060000000000001" />
<path d="M399.20,303.75 L401.27,307.34 L397.13,307.34 Z" fill="#111"/>
<rect x="396.64" y="309.84" width="3.13" height="3.13" fill="#111" />
<circle cx="334.80" cy="316.90" r="1.15" fill="#111" stroke="none" stroke-width="0.5" />
<rect x="347.84" y="315.34" width="3.13" height="3.13" fill="#a0a0a0" stroke="#555" stroke-width="0.46"/>
<line x1="347.84" y1="316.90" x2="350.96" y2="316.90" stroke="#555" stroke-width="0.41400000000000003" />
<line x1="349.40" y1="315.34" x2="349.40" y2="318.46" stroke="#555" stroke-width="0.41400000000000003" />
<rect x="367.03" y="315.43" width="2.94" height="2.94" fill="#c9543a" />
<circle cx="397.70" cy="316.90" r="1.70" fill="#111" stroke="none" stroke-width="0.5" />
<circle cx="395.70" cy="322.40" r="1.61" fill="#e8a08d" stroke="#d0705a" stroke-width="0.644" />
<path d="M394.60,326.06 L396.44,327.90 L394.60,329.74 L392.76,327.90 Z" fill="#ddd" stroke="#111" stroke-width="0.782"/>
<line x1="392.76" y1="327.90" x2="396.44" y2="327.90" stroke="#111" stroke-width="0.5060000000000001" />
<line x1="394.60" y1="326.06" x2="394.60" y2="329.74" stroke="#111" stroke-width="0.5060000000000001" />
<rect x="319.34" y="331.84" width="3.13" height="3.13" fill="#a0a0a0" stroke="#555" stroke-width="0.46"/>
<line x1="319.34" y1="333.40" x2="322.46" y2="333.40" stroke="#555" stroke-width="0.41400000000000003" />
<line x1="320.90" y1="331.84" x2="320.90" y2="334.96" stroke="#555" stroke-width="0.41400000000000003" />
<path d="M327.80,331.65 L329.55,333.40 L327.80,335.15 L326.05,333.40 Z" fill="#111"/>
<rect x="332.11" y="332.11" width="2.58" height="2.58" fill="#fff" stroke="#333" stroke-width="0.552"/>
<circle cx="336.40" cy="333.40" r="1.38" fill="#fff" stroke="#222" stroke-width="0.7360000000000001" />
<circle cx="344.80" cy="333.40" r="1.15" fill="#111" stroke="none" stroke-width="0.5" />
<circle cx="394.30" cy="333.40" r="1.70" fill="#111" stroke="none" stroke-width="0.5" />
<rect x="356.51" y="337.61" width="2.58" height="2.58" fill="#fff" stroke="#333" stroke-width="0.552"/>
<circle cx="388.00" cy="338.90" r="1.38" fill="#fff" stroke="#222" stroke-width="0.7360000000000001" />
<circle cx="393.80" cy="338.90" r="1.15" fill="#111" stroke="none" stroke-width="0.5" />
<rect x="391.93" y="342.93" width="2.94" height="2.94" fill="#c9543a" />
<rect x="321.51" y="348.61" width="2.58" height="2.58" fill="#fff" stroke="#333" stroke-width="0.552"/>
<circle cx="340.60" cy="349.90" r="1.70" fill="#111" stroke="none" stroke-width="0.5" />
<rect x="389.24" y="348.34" width="3.13" height="3.13" fill="#a0a0a0" stroke="#555" stroke-width="0.46"/>
<line x1="389.24" y1="349.90" x2="392.36" y2="349.90" stroke="#555" stroke-width="0.41400000000000003" />
<line x1="390.80" y1="348.34" x2="390.80" y2="351.46" stroke="#555" stroke-width="0.41400000000000003" />
<circle cx="323.70" cy="355.40" r="1.70" fill="#111" stroke="none" stroke-width="0.5" />
<rect x="335.81" y="354.11" width="2.58" height="2.58" fill="#fff" stroke="#333" stroke-width="0.552"/>
<rect x="389.24" y="353.84" width="3.13" height="3.13" fill="#a0a0a0" stroke="#555" stroke-width="0.46"/>
<line x1="389.24" y1="355.40" x2="392.36" y2="355.40" stroke="#555" stroke-width="0.41400000000000003" />
<line x1="390.80" y1="353.84" x2="390.80" y2="356.96" stroke="#555" stroke-width="0.41400000000000003" />
<rect x="349.91" y="359.61" width="2.58" height="2.58" fill="#fff" stroke="#333" stroke-width="0.552"/>
<circle cx="389.20" cy="360.90" r="1.70" fill="#111" stroke="none" stroke-width="0.5" />
<circle cx="391.40" cy="360.90" r="1.38" fill="#fff" stroke="#222" stroke-width="0.7360000000000001" />
<path d="M333.50,364.25 L335.57,367.84 L331.43,367.84 Z" fill="#111"/>
<circle cx="388.00" cy="366.40" r="1.70" fill="#111" stroke="none" stroke-width="0.5" />
<circle cx="318.20" cy="371.90" r="1.38" fill="#fff" stroke="#222" stroke-width="0.7360000000000001" />
<circle cx="328.20" cy="371.90" r="1.70" fill="#111" stroke="none" stroke-width="0.5" />
<rect x="359.71" y="370.61" width="2.58" height="2.58" fill="#fff" stroke="#333" stroke-width="0.552"/>
<rect x="384.24" y="370.34" width="3.13" height="3.13" fill="#a0a0a0" stroke="#555" stroke-width="0.46"/>
<line x1="384.24" y1="371.90" x2="387.36" y2="371.90" stroke="#555" stroke-width="0.41400000000000003" />
<line x1="385.80" y1="370.34" x2="385.80" y2="373.46" stroke="#555" stroke-width="0.41400000000000003" />
<circle cx="385.30" cy="377.40" r="1.70" fill="#111" stroke="none" stroke-width="0.5" />
<path d="M384.20,381.06 L386.04,382.90 L384.20,384.74 L382.36,382.90 Z" fill="#ddd" stroke="#111" stroke-width="0.782"/>
<line x1="382.36" y1="382.90" x2="386.04" y2="382.90" stroke="#111" stroke-width="0.5060000000000001" />
<line x1="384.20" y1="381.06" x2="384.20" y2="384.74" stroke="#111" stroke-width="0.5060000000000001" />
<rect x="315.54" y="386.84" width="3.13" height="3.13" fill="#a0a0a0" stroke="#555" stroke-width="0.46"/>
<line x1="315.54" y1="388.40" x2="318.66" y2="388.40" stroke="#555" stroke-width="0.41400000000000003" />
<line x1="317.10" y1="386.84" x2="317.10" y2="389.96" stroke="#555" stroke-width="0.41400000000000003" />
<path d="M364.10,386.65 L365.85,388.40 L364.10,390.15 L362.35,388.40 Z" fill="#111"/>
<path d="M373.20,386.25 L375.27,389.84 L371.13,389.84 Z" fill="#111"/>
<circle cx="379.30" cy="388.40" r="1.70" fill="#111" stroke="none" stroke-width="0.5" />
<path d="M383.30,386.56 L385.14,388.40 L383.30,390.24 L381.46,388.40 Z" fill="#ddd" stroke="#111" stroke-width="0.782"/>
<line x1="381.46" y1="388.40" x2="385.14" y2="388.40" stroke="#111" stroke-width="0.5060000000000001" />
<line x1="383.30" y1="386.56" x2="383.30" y2="390.24" stroke="#111" stroke-width="0.5060000000000001" />
<path d="M380.80,391.75 L382.87,395.34 L378.73,395.34 Z" fill="#111"/>
<circle cx="326.50" cy="399.40" r="1.38" fill="#fff" stroke="#222" stroke-width="0.7360000000000001" />
<rect x="328.11" y="398.11" width="2.58" height="2.58" fill="#fff" stroke="#333" stroke-width="0.552"/>
<circle cx="333.20" cy="399.40" r="1.15" fill="#111" stroke="none" stroke-width="0.5" />
<rect x="339.34" y="397.84" width="3.13" height="3.13" fill="#a0a0a0" stroke="#555" stroke-width="0.46"/>
<line x1="339.34" y1="399.40" x2="342.46" y2="399.40" stroke="#555" stroke-width="0.41400000000000003" />
<line x1="340.90" y1="397.84" x2="340.90" y2="400.96" stroke="#555" stroke-width="0.41400000000000003" />
<path d="M353.20,397.56 L355.04,399.40 L353.20,401.24 L351.36,399.40 Z" fill="#ddd" stroke="#111" stroke-width="0.782"/>
<line x1="351.36" y1="399.40" x2="355.04" y2="399.40" stroke="#111" stroke-width="0.5060000000000001" />
<line x1="353.20" y1="397.56" x2="353.20" y2="401.24" stroke="#111" stroke-width="0.5060000000000001" />
<circle cx="379.80" cy="399.40" r="1.70" fill="#111" stroke="none" stroke-width="0.5" />
<circle cx="378.80" cy="404.90" r="1.61" fill="#9a9a9a" stroke="#4a4a4a" stroke-width="0.644" />
<path d="M314.00,408.65 L315.75,410.40 L314.00,412.15 L312.25,410.40 Z" fill="#111"/>
<rect x="375.24" y="408.84" width="3.13" height="3.13" fill="#111" />
<circle cx="376.60" cy="415.90" r="1.70" fill="#111" stroke="none" stroke-width="0.5" />
<rect x="374.54" y="419.84" width="3.13" height="3.13" fill="#111" />
<path d="M375.60,424.75 L377.67,428.34 L373.53,428.34 Z" fill="#111"/>
<rect x="351.94" y="430.84" width="3.13" height="3.13" fill="#111" />
<path d="M375.50,430.65 L377.25,432.40 L375.50,434.15 L373.75,432.40 Z" fill="#111"/>
<circle cx="331.70" cy="437.90" r="1.38" fill="#bbb" stroke="#444" stroke-width="0.36800000000000005" />
<line x1="329.95" y1="437.90" x2="333.45" y2="437.90" stroke="#111" stroke-width="0.552" />
<line x1="330.46" y1="436.66" x2="332.94" y2="439.14" stroke="#111" stroke-width="0.552" />
<line x1="331.70" y1="436.15" x2="331.70" y2="439.65" stroke="#111" stroke-width="0.552" />
<line x1="332.94" y1="436.66" x2="330.46" y2="439.14" stroke="#111" stroke-width="0.552" />
<circle cx="375.40" cy="437.90" r="1.70" fill="#111" stroke="none" stroke-width="0.5" />
<path d="M374.00,441.56 L375.84,443.40 L374.00,445.24 L372.16,443.40 Z" fill="#ddd" stroke="#111" stroke-width="0.782"/>
<line x1="372.16" y1="443.40" x2="375.84" y2="443.40" stroke="#111" stroke-width="0.5060000000000001" />
<line x1="374.00" y1="441.56" x2="374.00" y2="445.24" stroke="#111" stroke-width="0.5060000000000001" />
<circle cx="317.00" cy="448.90" r="1.70" fill="#111" stroke="none" stroke-width="0.5" />
<rect x="317.94" y="447.34" width="3.13" height="3.13" fill="#111" />
<path d="M337.50,447.15 L339.25,448.90 L337.50,450.65 L335.75,448.90 Z" fill="#111"/>
<rect x="339.71" y="447.61" width="2.58" height="2.58" fill="#fff" stroke="#333" stroke-width="0.552"/>
<circle cx="346.30" cy="448.90" r="1.70" fill="#111" stroke="none" stroke-width="0.5" />
<path d="M365.50,447.06 L367.34,448.90 L365.50,450.74 L363.66,448.90 Z" fill="#ddd" stroke="#111" stroke-width="0.782"/>
<line x1="363.66" y1="448.90" x2="367.34" y2="448.90" stroke="#111" stroke-width="0.5060000000000001" />
<line x1="365.50" y1="447.06" x2="365.50" y2="450.74" stroke="#111" stroke-width="0.5060000000000001" />
<circle cx="373.20" cy="448.90" r="1.15" fill="#111" stroke="none" stroke-width="0.5" />
<path d="M372.30,452.56 L374.14,454.40 L372.30,456.24 L370.46,454.40 Z" fill="#ddd" stroke="#111" stroke-width="0.782"/>
<line x1="370.46" y1="454.40" x2="374.14" y2="454.40" stroke="#111" stroke-width="0.5060000000000001" />
<line x1="372.30" y1="452.56" x2="372.30" y2="456.24" stroke="#111" stroke-width="0.5060000000000001" />
<circle cx="316.30" cy="459.90" r="1.15" fill="#111" stroke="none" stroke-width="0.5" />
<circle cx="324.80" cy="459.90" r="1.38" fill="#fff" stroke="#222" stroke-width="0.7360000000000001" />
<circle cx="328.60" cy="459.90" r="1.70" fill="#111" stroke="none" stroke-width="0.5" />
<path d="M372.20,458.15 L373.95,459.90 L372.20,461.65 L370.45,459.90 Z" fill="#111"/>
<rect x="341.64" y="463.84" width="3.13" height="3.13" fill="#a0a0a0" stroke="#555" stroke-width="0.46"/>
<line x1="341.64" y1="465.40" x2="344.76" y2="465.40" stroke="#555" stroke-width="0.41400000000000003" />
<line x1="343.20" y1="463.84" x2="343.20" y2="466.96" stroke="#555" stroke-width="0.41400000000000003" />
<circle cx="372.20" cy="465.40" r="1.70" fill="#111" stroke="none" stroke-width="0.5" />
<path d="M347.40,469.15 L349.15,470.90 L347.40,472.65 L345.65,470.90 Z" fill="#111"/>
<rect x="369.64" y="469.34" width="3.13" height="3.13" fill="#111" />
<circle cx="357.60" cy="476.40" r="1.38" fill="#fff" stroke="#222" stroke-width="0.7360000000000001" />
<rect x="359.91" y="475.11" width="2.58" height="2.58" fill="#fff" stroke="#333" stroke-width="0.552"/>
<circle cx="370.50" cy="476.40" r="1.15" fill="#111" stroke="none" stroke-width="0.5" />
<circle cx="334.30" cy="481.90" r="1.70" fill="#111" stroke="none" stroke-width="0.5" />
<path d="M346.80,479.75 L348.87,483.34 L344.73,483.34 Z" fill="#111"/>
<rect x="368.64" y="480.34" width="3.13" height="3.13" fill="#111" />
<path d="M370.20,485.25 L372.27,488.84 L368.13,488.84 Z" fill="#111"/>
<path d="M369.80,491.15 L371.55,492.90 L369.80,494.65 L368.05,492.90 Z" fill="#111"/>
<circle cx="369.40" cy="498.40" r="1.61" fill="#9a9a9a" stroke="#4a4a4a" stroke-width="0.644" />
<path d="M366.30,502.06 L368.14,503.90 L366.30,505.74 L364.46,503.90 Z" fill="#ddd" stroke="#111" stroke-width="0.782"/>
<line x1="364.46" y1="503.90" x2="368.14" y2="503.90" stroke="#111" stroke-width="0.5060000000000001" />
<line x1="366.30" y1="502.06" x2="366.30" y2="505.74" stroke="#111" stroke-width="0.5060000000000001" />
<rect x="327.61" y="508.11" width="2.58" height="2.58" fill="#fff" stroke="#333" stroke-width="0.552"/>
<circle cx="362.90" cy="509.40" r="1.38" fill="#fff" stroke="#222" stroke-width="0.7360000000000001" />
<circle cx="366.00" cy="509.40" r="1.15" fill="#111" stroke="none" stroke-width="0.5" />
<circle cx="365.20" cy="514.90" r="1.61" fill="#9a9a9a" stroke="#4a4a4a" stroke-width="0.644" />
<path d="M365.20,518.25 L367.27,521.84 L363.13,521.84 Z" fill="#111"/>
<rect x="336.91" y="524.61" width="2.58" height="2.58" fill="#fff" stroke="#333" stroke-width="0.552"/>
<circle cx="361.40" cy="525.90" r="1.38" fill="#fff" stroke="#222" stroke-width="0.7360000000000001" />
<circle cx="364.80" cy="525.90" r="1.15" fill="#111" stroke="none" stroke-width="0.5" />
<circle cx="364.00" cy="531.40" r="1.70" fill="#111" stroke="none" stroke-width="0.5" />
<path d="M363.70,535.06 L365.54,536.90 L363.70,538.74 L361.86,536.90 Z" fill="#ddd" stroke="#111" stroke-width="0.782"/>
<line x1="361.86" y1="536.90" x2="365.54" y2="536.90" stroke="#111" stroke-width="0.5060000000000001" />
<line x1="363.70" y1="535.06" x2="363.70" y2="538.74" stroke="#111" stroke-width="0.5060000000000001" />
<path d="M363.20,540.25 L365.27,543.84 L361.13,543.84 Z" fill="#111"/>
<path d="M329.40,546.15 L331.15,547.90 L329.40,549.65 L327.65,547.90 Z" fill="#111"/>
<circle cx="339.10" cy="547.90" r="1.38" fill="#fff" stroke="#222" stroke-width="0.7360000000000001" />
<circle cx="361.70" cy="547.90" r="1.15" fill="#111" stroke="none" stroke-width="0.5" />
<circle cx="331.70" cy="553.40" r="1.61" fill="#e8a08d" stroke="#d0705a" stroke-width="0.644" />
<circle cx="331.70" cy="558.90" r="1.61" fill="#e8a08d" stroke="#d0705a" stroke-width="0.644" />
<path d="M424.80,444.00 L427.10,446.30 L424.80,448.60 L422.50,446.30 Z" fill="#ddd" stroke="#111" stroke-width="0.9774999999999999"/>
<line x1="422.50" y1="446.30" x2="427.10" y2="446.30" stroke="#111" stroke-width="0.6325" />
<line x1="424.80" y1="444.00" x2="424.80" y2="448.60" stroke="#111" stroke-width="0.6325" />
<text x="430.60" y="448.00" font-size="4.8" fill="#222" text-anchor="start" textLength="30.7" lengthAdjust="spacingAndGlyphs">A*02:01(26%)</text>
<circle cx="424.80" cy="455.20" r="2.01" fill="#e8a08d" stroke="#d0705a" stroke-width="0.8049999999999999" />
<text x="430.60" y="456.90" font-size="4.8" fill="#c9735c" text-anchor="start" textLength="30.7" lengthAdjust="spacingAndGlyphs">A*03:01(15%)</text>
<circle cx="424.80" cy="464.20" r="1.72" fill="#bbb" stroke="#444" stroke-width="0.45999999999999996" />
<line x1="422.62" y1="464.20" x2="426.99" y2="464.20" stroke="#111" stroke-width="0.69" />
<line x1="423.25" y1="462.65" x2="426.35" y2="465.75" stroke="#111" stroke-width="0.69" />
<line x1="424.80" y1="462.01" x2="424.80" y2="466.38" stroke="#111" stroke-width="0.69" />
<line x1="426.35" y1="462.65" x2="423.25" y2="465.75" stroke="#111" stroke-width="0.69" />
<text x="430.60" y="465.90" font-size="4.8" fill="#222" text-anchor="start" textLength="30.7" lengthAdjust="spacingAndGlyphs">A*01:01(14%)</text>
<rect x="422.85" y="471.15" width="3.91" height="3.91" fill="#a0a0a0" stroke="#555" stroke-width="0.575"/>
<line x1="422.85" y1="473.10" x2="426.75" y2="473.10" stroke="#555" stroke-width="0.5175" />
<line x1="424.80" y1="471.15" x2="424.80" y2="475.06" stroke="#555" stroke-width="0.5175" />
<text x="430.60" y="474.80" font-size="4.8" fill="#222" text-anchor="start" textLength="32.3" lengthAdjust="spacingAndGlyphs">A*24:02 (11%)</text>
<rect x="422.96" y="483.16" width="3.68" height="3.68" fill="#c9543a" />
<text x="430.60" y="486.70" font-size="4.8" fill="#c8553a" text-anchor="start" textLength="29.0" lengthAdjust="spacingAndGlyphs">B*07:02 (9%)</text>
<path d="M424.80,492.01 L426.99,494.20 L424.80,496.38 L422.62,494.20 Z" fill="#111"/>
<text x="430.60" y="495.90" font-size="4.8" fill="#222" text-anchor="start" textLength="27.5" lengthAdjust="spacingAndGlyphs">B*51:01(9%)</text>
<circle cx="424.80" cy="503.10" r="2.13" fill="#111" stroke="none" stroke-width="0.5" />
<text x="430.60" y="504.80" font-size="4.8" fill="#222" text-anchor="start" textLength="27.5" lengthAdjust="spacingAndGlyphs">B*35:01(8%)</text>
<path d="M424.80,509.21 L427.39,513.69 L422.21,513.69 Z" fill="#111"/>
<text x="430.60" y="513.60" font-size="4.8" fill="#222" text-anchor="start" textLength="27.5" lengthAdjust="spacingAndGlyphs">B*40:01(7%)</text>
<circle cx="424.80" cy="523.80" r="2.13" fill="#111" stroke="none" stroke-width="0.5" />
<text x="430.60" y="525.50" font-size="4.8" fill="#222" text-anchor="start" textLength="30.7" lengthAdjust="spacingAndGlyphs">C*04:01(15%)</text>
<circle cx="424.80" cy="532.90" r="1.44" fill="#111" stroke="none" stroke-width="0.5" />
<text x="430.60" y="534.60" font-size="4.8" fill="#222" text-anchor="start" textLength="32.0" lengthAdjust="spacingAndGlyphs">C*06:02 (13%)</text>
<circle cx="424.80" cy="542.10" r="1.72" fill="#fff" stroke="#222" stroke-width="0.9199999999999999" />
<text x="430.60" y="543.80" font-size="4.8" fill="#222" text-anchor="start" textLength="31.5" lengthAdjust="spacingAndGlyphs">C*07:01 (11%)</text>
<rect x="423.19" y="549.19" width="3.22" height="3.22" fill="#fff" stroke="#333" stroke-width="0.69"/>
<text x="430.60" y="552.50" font-size="4.8" fill="#222" text-anchor="start" textLength="30.0" lengthAdjust="spacingAndGlyphs">C*07:02 (8%)</text>
<text x="5.80" y="474.30" font-size="12.2" fill="#111" text-anchor="start" >D</text>
<line x1="83.20" y1="463.60" x2="83.20" y2="645.60" stroke="#222" stroke-width="0.9" />
<line x1="82.80" y1="645.20" x2="201.40" y2="645.20" stroke="#222" stroke-width="0.9" />
<line x1="80.80" y1="640.00" x2="83.20" y2="640.00" stroke="#222" stroke-width="0.7" />
<text x="77.40" y="641.90" font-size="5.4" fill="#333" text-anchor="end" >0</text>
<line x1="80.80" y1="591.50" x2="83.20" y2="591.50" stroke="#222" stroke-width="0.7" />
<text x="77.40" y="593.40" font-size="5.4" fill="#333" text-anchor="end" >25</text>
<line x1="80.80" y1="543.00" x2="83.20" y2="543.00" stroke="#222" stroke-width="0.7" />
<text x="77.40" y="544.90" font-size="5.4" fill="#333" text-anchor="end" >50</text>
<line x1="80.80" y1="494.50" x2="83.20" y2="494.50" stroke="#222" stroke-width="0.7" />
<text x="77.40" y="496.40" font-size="5.4" fill="#333" text-anchor="end" >75</text>
<text transform="translate(67.3,554.2) rotate(-90)" font-size="6.4" fill="#222" text-anchor="middle" textLength="108" lengthAdjust="spacingAndGlyphs">Number of predicted neoantigens</text>
<rect x="86.90" y="462.70" width="9.90" height="10.10" fill="#1aa1b0" />
<rect x="86.90" y="475.90" width="9.90" height="9.90" fill="#d98a78" />
<text x="99.20" y="469.60" font-size="5.0" fill="#222" text-anchor="start" textLength="28" lengthAdjust="spacingAndGlyphs">Weak binder</text>
<text x="99.20" y="482.60" font-size="5.0" fill="#222" text-anchor="start" textLength="31.4" lengthAdjust="spacingAndGlyphs">Strong binder</text>
<line x1="98.30" y1="645.20" x2="98.30" y2="647.60" stroke="#222" stroke-width="0.7" />
<text x="98.30" y="655.40" font-size="4.6" fill="#333" text-anchor="middle" >-</text>
<text x="98.30" y="662.20" font-size="4.6" fill="#333" text-anchor="middle" >-</text>
<line x1="127.80" y1="645.20" x2="127.80" y2="647.60" stroke="#222" stroke-width="0.7" />
<text x="127.80" y="655.40" font-size="4.6" fill="#333" text-anchor="middle" >-</text>
<text x="127.80" y="662.20" font-size="4.6" fill="#333" text-anchor="middle" >+</text>
<line x1="158.30" y1="645.20" x2="158.30" y2="647.60" stroke="#222" stroke-width="0.7" />
<text x="158.30" y="655.40" font-size="4.6" fill="#333" text-anchor="middle" >+</text>
<text x="158.30" y="662.20" font-size="4.6" fill="#333" text-anchor="middle" >-</text>
<line x1="188.50" y1="645.20" x2="188.50" y2="647.60" stroke="#222" stroke-width="0.7" />
<text x="188.50" y="655.40" font-size="4.6" fill="#333" text-anchor="middle" >+</text>
<text x="188.50" y="662.20" font-size="4.6" fill="#333" text-anchor="middle" >+</text>
<text x="77.70" y="655.50" font-size="4.6" fill="#222" text-anchor="end" textLength="13.5" lengthAdjust="spacingAndGlyphs">SF3B1</text>
<text x="77.70" y="662.30" font-size="4.6" fill="#222" text-anchor="end" textLength="12" lengthAdjust="spacingAndGlyphs">CALR</text>
<line x1="93.30" y1="630.30" x2="93.30" y2="635.15" stroke="#333" stroke-width="0.7" />
<line x1="93.30" y1="640.00" x2="93.30" y2="640.00" stroke="#333" stroke-width="0.7" />
<rect x="89.00" y="635.15" width="8.60" height="4.85" fill="#1aa1b0" stroke="#222" stroke-width="0.6"/>
<line x1="89.00" y1="638.06" x2="97.60" y2="638.06" stroke="#111" stroke-width="1.0" />
<circle cx="91.41" cy="640.00" r="1.50" fill="#1aa1b0" stroke="#1b4a50" stroke-width="0.45" fill-opacity="0.9"/>
<circle cx="92.05" cy="640.00" r="1.50" fill="#1aa1b0" stroke="#1b4a50" stroke-width="0.45" fill-opacity="0.9"/>
<circle cx="89.15" cy="636.12" r="1.50" fill="#1aa1b0" stroke="#1b4a50" stroke-width="0.45" fill-opacity="0.9"/>
<circle cx="89.35" cy="634.18" r="1.50" fill="#1aa1b0" stroke="#1b4a50" stroke-width="0.45" fill-opacity="0.9"/>
<circle cx="89.02" cy="636.12" r="1.50" fill="#1aa1b0" stroke="#1b4a50" stroke-width="0.45" fill-opacity="0.9"/>
<circle cx="90.43" cy="640.00" r="1.50" fill="#1aa1b0" stroke="#1b4a50" stroke-width="0.45" fill-opacity="0.9"/>
<circle cx="92.40" cy="640.00" r="1.50" fill="#1aa1b0" stroke="#1b4a50" stroke-width="0.45" fill-opacity="0.9"/>
<circle cx="90.67" cy="636.12" r="1.50" fill="#1aa1b0" stroke="#1b4a50" stroke-width="0.45" fill-opacity="0.9"/>
<circle cx="92.32" cy="630.30" r="1.50" fill="#1aa1b0" stroke="#1b4a50" stroke-width="0.45" fill-opacity="0.9"/>
<circle cx="93.59" cy="639.03" r="1.50" fill="#1aa1b0" stroke="#1b4a50" stroke-width="0.45" fill-opacity="0.9"/>
<circle cx="94.18" cy="634.18" r="1.50" fill="#1aa1b0" stroke="#1b4a50" stroke-width="0.45" fill-opacity="0.9"/>
<circle cx="97.03" cy="634.18" r="1.50" fill="#1aa1b0" stroke="#1b4a50" stroke-width="0.45" fill-opacity="0.9"/>
<circle cx="93.77" cy="640.00" r="1.50" fill="#1aa1b0" stroke="#1b4a50" stroke-width="0.45" fill-opacity="0.9"/>
<circle cx="97.29" cy="640.00" r="1.50" fill="#1aa1b0" stroke="#1b4a50" stroke-width="0.45" fill-opacity="0.9"/>
<circle cx="93.51" cy="640.00" r="1.50" fill="#1aa1b0" stroke="#1b4a50" stroke-width="0.45" fill-opacity="0.9"/>
<circle cx="91.11" cy="640.00" r="1.50" fill="#1aa1b0" stroke="#1b4a50" stroke-width="0.45" fill-opacity="0.9"/>
<circle cx="93.37" cy="634.18" r="1.50" fill="#1aa1b0" stroke="#1b4a50" stroke-width="0.45" fill-opacity="0.9"/>
<circle cx="91.28" cy="630.30" r="1.50" fill="#1aa1b0" stroke="#1b4a50" stroke-width="0.45" fill-opacity="0.9"/>
<circle cx="94.64" cy="640.00" r="1.50" fill="#1aa1b0" stroke="#1b4a50" stroke-width="0.45" fill-opacity="0.9"/>
<circle cx="93.73" cy="634.18" r="1.50" fill="#1aa1b0" stroke="#1b4a50" stroke-width="0.45" fill-opacity="0.9"/>
<circle cx="90.19" cy="640.00" r="1.50" fill="#1aa1b0" stroke="#1b4a50" stroke-width="0.45" fill-opacity="0.9"/>
<circle cx="93.43" cy="640.00" r="1.50" fill="#1aa1b0" stroke="#1b4a50" stroke-width="0.45" fill-opacity="0.9"/>
<circle cx="93.58" cy="634.18" r="1.50" fill="#1aa1b0" stroke="#1b4a50" stroke-width="0.45" fill-opacity="0.9"/>
<circle cx="90.35" cy="634.18" r="1.50" fill="#1aa1b0" stroke="#1b4a50" stroke-width="0.45" fill-opacity="0.9"/>
<circle cx="93.29" cy="630.30" r="1.50" fill="#1aa1b0" stroke="#1b4a50" stroke-width="0.45" fill-opacity="0.9"/>
<circle cx="91.33" cy="634.18" r="1.50" fill="#1aa1b0" stroke="#1b4a50" stroke-width="0.45" fill-opacity="0.9"/>
<circle cx="92.40" cy="607.02" r="1.50" fill="#1aa1b0" stroke="#1b4a50" stroke-width="0.45" fill-opacity="0.9"/>
<circle cx="94.80" cy="607.02" r="1.20" fill="#111" stroke="none" stroke-width="0.5" />
<line x1="103.40" y1="635.15" x2="103.40" y2="637.09" stroke="#333" stroke-width="0.7" />
<line x1="103.40" y1="640.00" x2="103.40" y2="640.00" stroke="#333" stroke-width="0.7" />
<rect x="99.00" y="637.09" width="8.80" height="2.91" fill="#df8a76" stroke="#222" stroke-width="0.6"/>
<line x1="99.00" y1="639.03" x2="107.80" y2="639.03" stroke="#111" stroke-width="1.0" />
<circle cx="107.11" cy="637.09" r="1.50" fill="#df8a76" stroke="#7a3a2c" stroke-width="0.45" fill-opacity="0.9"/>
<circle cx="101.50" cy="639.03" r="1.50" fill="#df8a76" stroke="#7a3a2c" stroke-width="0.45" fill-opacity="0.9"/>
<circle cx="105.09" cy="638.06" r="1.50" fill="#df8a76" stroke="#7a3a2c" stroke-width="0.45" fill-opacity="0.9"/>
<circle cx="99.54" cy="638.06" r="1.50" fill="#df8a76" stroke="#7a3a2c" stroke-width="0.45" fill-opacity="0.9"/>
<circle cx="103.53" cy="637.09" r="1.50" fill="#df8a76" stroke="#7a3a2c" stroke-width="0.45" fill-opacity="0.9"/>
<circle cx="105.37" cy="638.06" r="1.50" fill="#df8a76" stroke="#7a3a2c" stroke-width="0.45" fill-opacity="0.9"/>
<circle cx="104.28" cy="640.00" r="1.50" fill="#df8a76" stroke="#7a3a2c" stroke-width="0.45" fill-opacity="0.9"/>
<circle cx="99.86" cy="636.12" r="1.50" fill="#df8a76" stroke="#7a3a2c" stroke-width="0.45" fill-opacity="0.9"/>
<circle cx="100.28" cy="637.09" r="1.50" fill="#df8a76" stroke="#7a3a2c" stroke-width="0.45" fill-opacity="0.9"/>
<circle cx="100.17" cy="635.15" r="1.50" fill="#df8a76" stroke="#7a3a2c" stroke-width="0.45" fill-opacity="0.9"/>
<circle cx="102.60" cy="640.00" r="1.50" fill="#df8a76" stroke="#7a3a2c" stroke-width="0.45" fill-opacity="0.9"/>
<circle cx="105.68" cy="637.09" r="1.50" fill="#df8a76" stroke="#7a3a2c" stroke-width="0.45" fill-opacity="0.9"/>
<circle cx="101.86" cy="637.09" r="1.50" fill="#df8a76" stroke="#7a3a2c" stroke-width="0.45" fill-opacity="0.9"/>
<circle cx="104.15" cy="635.15" r="1.50" fill="#df8a76" stroke="#7a3a2c" stroke-width="0.45" fill-opacity="0.9"/>
<circle cx="99.42" cy="640.00" r="1.50" fill="#df8a76" stroke="#7a3a2c" stroke-width="0.45" fill-opacity="0.9"/>
<circle cx="107.30" cy="635.15" r="1.50" fill="#df8a76" stroke="#7a3a2c" stroke-width="0.45" fill-opacity="0.9"/>
<line x1="123.60" y1="599.26" x2="123.60" y2="621.57" stroke="#333" stroke-width="0.7" />
<line x1="123.60" y1="640.00" x2="123.60" y2="640.00" stroke="#333" stroke-width="0.7" />
<rect x="119.00" y="621.57" width="9.20" height="18.43" fill="#1aa1b0" stroke="#222" stroke-width="0.6"/>
<line x1="119.00" y1="634.18" x2="128.20" y2="634.18" stroke="#111" stroke-width="1.0" />
<circle cx="125.27" cy="640.00" r="1.50" fill="#1aa1b0" stroke="#1b4a50" stroke-width="0.45" fill-opacity="0.9"/>
<circle cx="119.58" cy="640.00" r="1.50" fill="#1aa1b0" stroke="#1b4a50" stroke-width="0.45" fill-opacity="0.9"/>
<circle cx="125.58" cy="640.00" r="1.50" fill="#1aa1b0" stroke="#1b4a50" stroke-width="0.45" fill-opacity="0.9"/>
<circle cx="121.79" cy="640.00" r="1.50" fill="#1aa1b0" stroke="#1b4a50" stroke-width="0.45" fill-opacity="0.9"/>
<circle cx="124.20" cy="638.06" r="1.50" fill="#1aa1b0" stroke="#1b4a50" stroke-width="0.45" fill-opacity="0.9"/>
<circle cx="125.13" cy="638.06" r="1.50" fill="#1aa1b0" stroke="#1b4a50" stroke-width="0.45" fill-opacity="0.9"/>
<circle cx="123.01" cy="638.06" r="1.50" fill="#1aa1b0" stroke="#1b4a50" stroke-width="0.45" fill-opacity="0.9"/>
<circle cx="125.45" cy="636.12" r="1.50" fill="#1aa1b0" stroke="#1b4a50" stroke-width="0.45" fill-opacity="0.9"/>
<circle cx="126.98" cy="636.12" r="1.50" fill="#1aa1b0" stroke="#1b4a50" stroke-width="0.45" fill-opacity="0.9"/>
<circle cx="122.12" cy="636.12" r="1.50" fill="#1aa1b0" stroke="#1b4a50" stroke-width="0.45" fill-opacity="0.9"/>
<circle cx="127.47" cy="634.18" r="1.50" fill="#1aa1b0" stroke="#1b4a50" stroke-width="0.45" fill-opacity="0.9"/>
<circle cx="122.20" cy="634.18" r="1.50" fill="#1aa1b0" stroke="#1b4a50" stroke-width="0.45" fill-opacity="0.9"/>
<circle cx="124.50" cy="634.18" r="1.50" fill="#1aa1b0" stroke="#1b4a50" stroke-width="0.45" fill-opacity="0.9"/>
<circle cx="123.44" cy="632.24" r="1.50" fill="#1aa1b0" stroke="#1b4a50" stroke-width="0.45" fill-opacity="0.9"/>
<circle cx="120.96" cy="632.24" r="1.50" fill="#1aa1b0" stroke="#1b4a50" stroke-width="0.45" fill-opacity="0.9"/>
<circle cx="121.59" cy="630.30" r="1.50" fill="#1aa1b0" stroke="#1b4a50" stroke-width="0.45" fill-opacity="0.9"/>
<circle cx="125.65" cy="630.30" r="1.50" fill="#1aa1b0" stroke="#1b4a50" stroke-width="0.45" fill-opacity="0.9"/>
<circle cx="122.58" cy="630.30" r="1.50" fill="#1aa1b0" stroke="#1b4a50" stroke-width="0.45" fill-opacity="0.9"/>
<circle cx="127.25" cy="628.36" r="1.50" fill="#1aa1b0" stroke="#1b4a50" stroke-width="0.45" fill-opacity="0.9"/>
<circle cx="123.47" cy="628.36" r="1.50" fill="#1aa1b0" stroke="#1b4a50" stroke-width="0.45" fill-opacity="0.9"/>
<circle cx="120.50" cy="626.42" r="1.50" fill="#1aa1b0" stroke="#1b4a50" stroke-width="0.45" fill-opacity="0.9"/>
<circle cx="122.61" cy="626.42" r="1.50" fill="#1aa1b0" stroke="#1b4a50" stroke-width="0.45" fill-opacity="0.9"/>
<circle cx="121.50" cy="624.48" r="1.50" fill="#1aa1b0" stroke="#1b4a50" stroke-width="0.45" fill-opacity="0.9"/>
<circle cx="120.23" cy="624.48" r="1.50" fill="#1aa1b0" stroke="#1b4a50" stroke-width="0.45" fill-opacity="0.9"/>
<circle cx="122.87" cy="622.54" r="1.50" fill="#1aa1b0" stroke="#1b4a50" stroke-width="0.45" fill-opacity="0.9"/>
<circle cx="123.95" cy="622.54" r="1.50" fill="#1aa1b0" stroke="#1b4a50" stroke-width="0.45" fill-opacity="0.9"/>
<circle cx="125.36" cy="622.54" r="1.50" fill="#1aa1b0" stroke="#1b4a50" stroke-width="0.45" fill-opacity="0.9"/>
<circle cx="122.00" cy="619.63" r="1.50" fill="#1aa1b0" stroke="#1b4a50" stroke-width="0.45" fill-opacity="0.9"/>
<circle cx="124.50" cy="619.63" r="1.50" fill="#1aa1b0" stroke="#1b4a50" stroke-width="0.45" fill-opacity="0.9"/>
<circle cx="121.50" cy="617.69" r="1.50" fill="#1aa1b0" stroke="#1b4a50" stroke-width="0.45" fill-opacity="0.9"/>
<circle cx="124.00" cy="605.08" r="1.50" fill="#1aa1b0" stroke="#1b4a50" stroke-width="0.45" fill-opacity="0.9"/>
<circle cx="122.00" cy="604.11" r="1.50" fill="#1aa1b0" stroke="#1b4a50" stroke-width="0.45" fill-opacity="0.9"/>
<circle cx="125.00" cy="603.14" r="1.50" fill="#1aa1b0" stroke="#1b4a50" stroke-width="0.45" fill-opacity="0.9"/>
<circle cx="121.50" cy="599.26" r="1.50" fill="#1aa1b0" stroke="#1b4a50" stroke-width="0.45" fill-opacity="0.9"/>
<circle cx="123.50" cy="607.02" r="1.50" fill="#1aa1b0" stroke="#1b4a50" stroke-width="0.45" fill-opacity="0.9"/>
<circle cx="124.50" cy="587.62" r="1.50" fill="#1aa1b0" stroke="#1b4a50" stroke-width="0.45" fill-opacity="0.9"/>
<circle cx="126.00" cy="587.62" r="1.50" fill="#1aa1b0" stroke="#1b4a50" stroke-width="0.45" fill-opacity="0.9"/>
<line x1="133.95" y1="626.42" x2="133.95" y2="632.24" stroke="#333" stroke-width="0.7" />
<line x1="133.95" y1="640.00" x2="133.95" y2="640.00" stroke="#333" stroke-width="0.7" />
<rect x="129.30" y="632.24" width="9.30" height="7.76" fill="#df8a76" stroke="#222" stroke-width="0.6"/>
<line x1="129.30" y1="636.12" x2="138.60" y2="636.12" stroke="#111" stroke-width="1.0" />
<circle cx="138.37" cy="640.00" r="1.50" fill="#df8a76" stroke="#7a3a2c" stroke-width="0.45" fill-opacity="0.9"/>
<circle cx="135.49" cy="640.00" r="1.50" fill="#df8a76" stroke="#7a3a2c" stroke-width="0.45" fill-opacity="0.9"/>
<circle cx="132.61" cy="640.00" r="1.50" fill="#df8a76" stroke="#7a3a2c" stroke-width="0.45" fill-opacity="0.9"/>
<circle cx="131.19" cy="640.00" r="1.50" fill="#df8a76" stroke="#7a3a2c" stroke-width="0.45" fill-opacity="0.9"/>
<circle cx="129.79" cy="638.06" r="1.50" fill="#df8a76" stroke="#7a3a2c" stroke-width="0.45" fill-opacity="0.9"/>
<circle cx="130.44" cy="638.06" r="1.50" fill="#df8a76" stroke="#7a3a2c" stroke-width="0.45" fill-opacity="0.9"/>
<circle cx="135.26" cy="638.06" r="1.50" fill="#df8a76" stroke="#7a3a2c" stroke-width="0.45" fill-opacity="0.9"/>
<circle cx="129.11" cy="638.06" r="1.50" fill="#df8a76" stroke="#7a3a2c" stroke-width="0.45" fill-opacity="0.9"/>
<circle cx="136.90" cy="636.12" r="1.50" fill="#df8a76" stroke="#7a3a2c" stroke-width="0.45" fill-opacity="0.9"/>
<circle cx="130.73" cy="636.12" r="1.50" fill="#df8a76" stroke="#7a3a2c" stroke-width="0.45" fill-opacity="0.9"/>
<circle cx="131.68" cy="636.12" r="1.50" fill="#df8a76" stroke="#7a3a2c" stroke-width="0.45" fill-opacity="0.9"/>
<circle cx="130.38" cy="634.18" r="1.50" fill="#df8a76" stroke="#7a3a2c" stroke-width="0.45" fill-opacity="0.9"/>
<circle cx="134.08" cy="634.18" r="1.50" fill="#df8a76" stroke="#7a3a2c" stroke-width="0.45" fill-opacity="0.9"/>
<circle cx="134.79" cy="634.18" r="1.50" fill="#df8a76" stroke="#7a3a2c" stroke-width="0.45" fill-opacity="0.9"/>
<circle cx="132.03" cy="632.24" r="1.50" fill="#df8a76" stroke="#7a3a2c" stroke-width="0.45" fill-opacity="0.9"/>
<circle cx="130.19" cy="632.24" r="1.50" fill="#df8a76" stroke="#7a3a2c" stroke-width="0.45" fill-opacity="0.9"/>
<circle cx="137.16" cy="632.24" r="1.50" fill="#df8a76" stroke="#7a3a2c" stroke-width="0.45" fill-opacity="0.9"/>
<circle cx="138.03" cy="630.30" r="1.50" fill="#df8a76" stroke="#7a3a2c" stroke-width="0.45" fill-opacity="0.9"/>
<circle cx="135.22" cy="630.30" r="1.50" fill="#df8a76" stroke="#7a3a2c" stroke-width="0.45" fill-opacity="0.9"/>
<circle cx="136.03" cy="628.36" r="1.50" fill="#df8a76" stroke="#7a3a2c" stroke-width="0.45" fill-opacity="0.9"/>
<circle cx="133.34" cy="628.36" r="1.50" fill="#df8a76" stroke="#7a3a2c" stroke-width="0.45" fill-opacity="0.9"/>
<circle cx="137.27" cy="626.42" r="1.50" fill="#df8a76" stroke="#7a3a2c" stroke-width="0.45" fill-opacity="0.9"/>
<line x1="154.30" y1="496.44" x2="154.30" y2="506.14" stroke="#333" stroke-width="0.7" />
<line x1="154.30" y1="574.04" x2="154.30" y2="575.98" stroke="#333" stroke-width="0.7" />
<rect x="150.00" y="506.14" width="8.60" height="67.90" fill="#1aa1b0" stroke="#222" stroke-width="0.6"/>
<line x1="150.00" y1="541.06" x2="158.60" y2="541.06" stroke="#111" stroke-width="1.0" />
<circle cx="151.00" cy="496.44" r="1.50" fill="#1aa1b0" stroke="#1b4a50" stroke-width="0.45" fill-opacity="0.9"/>
<circle cx="154.00" cy="506.14" r="1.50" fill="#1aa1b0" stroke="#1b4a50" stroke-width="0.45" fill-opacity="0.9"/>
<circle cx="152.50" cy="541.06" r="1.50" fill="#1aa1b0" stroke="#1b4a50" stroke-width="0.45" fill-opacity="0.9"/>
<circle cx="150.60" cy="575.98" r="1.50" fill="#1aa1b0" stroke="#1b4a50" stroke-width="0.45" fill-opacity="0.9"/>
<circle cx="153.50" cy="574.04" r="1.50" fill="#1aa1b0" stroke="#1b4a50" stroke-width="0.45" fill-opacity="0.9"/>
<line x1="162.65" y1="599.26" x2="162.65" y2="601.20" stroke="#333" stroke-width="0.7" />
<line x1="162.65" y1="608.96" x2="162.65" y2="620.60" stroke="#333" stroke-width="0.7" />
<rect x="158.30" y="601.20" width="8.70" height="7.76" fill="#df8a76" stroke="#222" stroke-width="0.6"/>
<line x1="158.30" y1="605.08" x2="167.00" y2="605.08" stroke="#111" stroke-width="1.0" />
<circle cx="165.50" cy="599.26" r="1.50" fill="#df8a76" stroke="#7a3a2c" stroke-width="0.45" fill-opacity="0.9"/>
<circle cx="160.50" cy="603.14" r="1.50" fill="#df8a76" stroke="#7a3a2c" stroke-width="0.45" fill-opacity="0.9"/>
<circle cx="162.00" cy="605.08" r="1.50" fill="#df8a76" stroke="#7a3a2c" stroke-width="0.45" fill-opacity="0.9"/>
<circle cx="163.50" cy="607.02" r="1.50" fill="#df8a76" stroke="#7a3a2c" stroke-width="0.45" fill-opacity="0.9"/>
<circle cx="161.00" cy="608.96" r="1.50" fill="#df8a76" stroke="#7a3a2c" stroke-width="0.45" fill-opacity="0.9"/>
<circle cx="163.50" cy="620.60" r="1.50" fill="#df8a76" stroke="#7a3a2c" stroke-width="0.45" fill-opacity="0.9"/>
<circle cx="160.80" cy="577.92" r="1.50" fill="#df8a76" stroke="#7a3a2c" stroke-width="0.45" fill-opacity="0.9"/>
<circle cx="162.60" cy="577.92" r="1.10" fill="#111" stroke="none" stroke-width="0.5" />
<line x1="184.10" y1="471.22" x2="184.10" y2="495.47" stroke="#333" stroke-width="0.7" />
<line x1="184.10" y1="526.51" x2="184.10" y2="533.30" stroke="#333" stroke-width="0.7" />
<rect x="179.80" y="495.47" width="8.60" height="31.04" fill="#1aa1b0" stroke="#222" stroke-width="0.6"/>
<line x1="179.80" y1="519.72" x2="188.40" y2="519.72" stroke="#111" stroke-width="1.0" />
<circle cx="183.00" cy="471.22" r="1.50" fill="#1aa1b0" stroke="#1b4a50" stroke-width="0.45" fill-opacity="0.9"/>
<circle cx="184.50" cy="519.72" r="1.50" fill="#1aa1b0" stroke="#1b4a50" stroke-width="0.45" fill-opacity="0.9"/>
<circle cx="181.30" cy="533.30" r="1.50" fill="#1aa1b0" stroke="#1b4a50" stroke-width="0.45" fill-opacity="0.9"/>
<line x1="192.35" y1="589.56" x2="192.35" y2="593.44" stroke="#333" stroke-width="0.7" />
<line x1="192.35" y1="602.17" x2="192.35" y2="607.02" stroke="#333" stroke-width="0.7" />
<rect x="187.90" y="593.44" width="8.90" height="8.73" fill="#df8a76" stroke="#222" stroke-width="0.6"/>
<line x1="187.90" y1="597.32" x2="196.80" y2="597.32" stroke="#111" stroke-width="1.0" />
<circle cx="190.60" cy="589.56" r="1.50" fill="#df8a76" stroke="#7a3a2c" stroke-width="0.45" fill-opacity="0.9"/>
<circle cx="193.00" cy="597.32" r="1.50" fill="#df8a76" stroke="#7a3a2c" stroke-width="0.45" fill-opacity="0.9"/>
<circle cx="195.40" cy="607.02" r="1.50" fill="#df8a76" stroke="#7a3a2c" stroke-width="0.45" fill-opacity="0.9"/>
<circle cx="189.50" cy="595.38" r="1.50" fill="#df8a76" stroke="#7a3a2c" stroke-width="0.45" fill-opacity="0.9"/>
<text x="211.40" y="600.80" font-size="12.5" fill="#111" text-anchor="start" >E</text>
<text x="211.40" y="611.00" font-size="5.8" fill="#222" text-anchor="start" textLength="101.5" lengthAdjust="spacingAndGlyphs">CALR: Start position of predicted neoantigen</text>
<text x="213.80" y="629.30" font-size="5.0" fill="#222" text-anchor="middle" >K</text>
<text x="218.80" y="629.30" font-size="5.0" fill="#222" text-anchor="middle" >N</text>
<text x="223.80" y="629.30" font-size="5.0" fill="#222" text-anchor="middle" >A</text>
<text x="228.80" y="629.30" font-size="5.0" fill="#222" text-anchor="middle" >K</text>
<text x="233.80" y="629.30" font-size="5.0" fill="#222" text-anchor="middle" >R</text>
<text x="238.80" y="629.30" font-size="5.0" fill="#222" text-anchor="middle" >R</text>
<text x="243.80" y="629.30" font-size="5.0" fill="#222" text-anchor="middle" >R</text>
<text x="248.80" y="629.30" font-size="5.0" fill="#222" text-anchor="middle" >R</text>
<text x="253.80" y="629.30" font-size="5.0" fill="#222" text-anchor="middle" >Q</text>
<text x="258.80" y="629.30" font-size="5.0" fill="#222" text-anchor="middle" >R</text>
<text x="263.80" y="629.30" font-size="5.0" fill="#222" text-anchor="middle" >T</text>
<text x="268.80" y="629.30" font-size="5.0" fill="#222" text-anchor="middle" >R</text>
<text x="273.80" y="629.30" font-size="5.0" fill="#222" text-anchor="middle" >R</text>
<text x="278.80" y="629.30" font-size="5.0" fill="#222" text-anchor="middle" >M</text>
<text x="283.80" y="629.30" font-size="5.0" fill="#222" text-anchor="middle" >M</text>
<text x="288.80" y="629.30" font-size="5.0" fill="#222" text-anchor="middle" >R</text>
<text x="293.80" y="629.30" font-size="5.0" fill="#222" text-anchor="middle" >T</text>
<text x="298.80" y="629.30" font-size="5.0" fill="#222" text-anchor="middle" >K</text>
<text x="303.80" y="629.30" font-size="5.0" fill="#222" text-anchor="middle" >M</text>
<text x="308.80" y="629.30" font-size="5.0" fill="#222" text-anchor="middle" >R</text>
<text x="313.80" y="629.30" font-size="5.0" fill="#222" text-anchor="middle" >M</text>
<text x="318.80" y="629.30" font-size="5.0" fill="#222" text-anchor="middle" >R</text>
<text x="323.80" y="629.30" font-size="5.0" fill="#222" text-anchor="middle" >R</text>
<text x="328.80" y="629.30" font-size="5.0" fill="#222" text-anchor="middle" >M</text>
<text x="333.80" y="629.30" font-size="5.0" fill="#222" text-anchor="middle" >R</text>
<text x="338.80" y="629.30" font-size="5.0" fill="#222" text-anchor="middle" >R</text>
<text x="343.80" y="629.30" font-size="5.0" fill="#222" text-anchor="middle" >T</text>
<text x="348.80" y="629.30" font-size="5.0" fill="#222" text-anchor="middle" >R</text>
<text x="353.80" y="629.30" font-size="5.0" fill="#222" text-anchor="middle" >R</text>
<text x="358.80" y="629.30" font-size="5.0" fill="#222" text-anchor="middle" >K</text>
<text x="363.80" y="629.30" font-size="5.0" fill="#222" text-anchor="middle" >M</text>
<text x="368.80" y="629.30" font-size="5.0" fill="#222" text-anchor="middle" >R</text>
<text x="373.80" y="629.30" font-size="5.0" fill="#222" text-anchor="middle" >R</text>
<text x="378.80" y="629.30" font-size="5.0" fill="#222" text-anchor="middle" >K</text>
<text x="383.80" y="629.30" font-size="5.0" fill="#222" text-anchor="middle" >M</text>
<text x="388.80" y="629.30" font-size="5.0" fill="#222" text-anchor="middle" >S</text>
<text x="393.80" y="629.30" font-size="5.0" fill="#222" text-anchor="middle" >P</text>
<text x="398.80" y="629.30" font-size="5.0" fill="#222" text-anchor="middle" >A</text>
<text x="403.80" y="629.30" font-size="5.0" fill="#222" text-anchor="middle" >R</text>
<text x="408.80" y="629.30" font-size="5.0" fill="#222" text-anchor="middle" >P</text>
<text x="413.80" y="629.30" font-size="5.0" fill="#222" text-anchor="middle" >R</text>
<text x="418.80" y="629.30" font-size="5.0" fill="#222" text-anchor="middle" >T</text>
<text x="423.80" y="629.30" font-size="5.0" fill="#222" text-anchor="middle" >S</text>
<text x="428.80" y="629.30" font-size="5.0" fill="#222" text-anchor="middle" >C</text>
<text x="433.80" y="629.30" font-size="5.0" fill="#222" text-anchor="middle" >R</text>
<text x="438.80" y="629.30" font-size="5.0" fill="#222" text-anchor="middle" >E</text>
<text x="443.80" y="629.30" font-size="5.0" fill="#222" text-anchor="middle" >A</text>
<text x="448.80" y="629.30" font-size="5.0" fill="#222" text-anchor="middle" >C</text>
<text x="453.80" y="629.30" font-size="5.0" fill="#222" text-anchor="middle" >L</text>
<text x="458.80" y="629.30" font-size="5.0" fill="#222" text-anchor="middle" >Q</text>
<text x="463.80" y="629.30" font-size="5.0" fill="#222" text-anchor="middle" >G</text>
<text x="468.80" y="629.30" font-size="5.0" fill="#222" text-anchor="middle" >W</text>
<text x="473.80" y="629.30" font-size="5.0" fill="#222" text-anchor="middle" >T</text>
<text x="478.80" y="629.30" font-size="5.0" fill="#222" text-anchor="middle" >E</text>
<text x="483.80" y="629.30" font-size="5.0" fill="#222" text-anchor="middle" >A</text>
<line x1="213.80" y1="631.00" x2="213.80" y2="635.20" stroke="#222" stroke-width="0.8" />
<text x="213.80" y="643.80" font-size="4.6" fill="#333" text-anchor="middle" >1</text>
<line x1="233.80" y1="631.00" x2="233.80" y2="635.20" stroke="#222" stroke-width="0.8" />
<text x="233.80" y="643.80" font-size="4.6" fill="#333" text-anchor="middle" >5</text>
<line x1="258.80" y1="631.00" x2="258.80" y2="635.20" stroke="#222" stroke-width="0.8" />
<text x="258.80" y="643.80" font-size="4.6" fill="#333" text-anchor="middle" >10</text>
<line x1="283.80" y1="631.00" x2="283.80" y2="635.20" stroke="#222" stroke-width="0.8" />
<text x="283.80" y="643.80" font-size="4.6" fill="#333" text-anchor="middle" >15</text>
<line x1="308.80" y1="631.00" x2="308.80" y2="635.20" stroke="#222" stroke-width="0.8" />
<text x="308.80" y="643.80" font-size="4.6" fill="#333" text-anchor="middle" >20</text>
<line x1="333.80" y1="631.00" x2="333.80" y2="635.20" stroke="#222" stroke-width="0.8" />
<text x="333.80" y="643.80" font-size="4.6" fill="#333" text-anchor="middle" >25</text>
<line x1="358.80" y1="631.00" x2="358.80" y2="635.20" stroke="#222" stroke-width="0.8" />
<text x="358.80" y="643.80" font-size="4.6" fill="#333" text-anchor="middle" >30</text>
<line x1="383.80" y1="631.00" x2="383.80" y2="635.20" stroke="#222" stroke-width="0.8" />
<text x="383.80" y="643.80" font-size="4.6" fill="#333" text-anchor="middle" >35</text>
<line x1="408.80" y1="631.00" x2="408.80" y2="635.20" stroke="#222" stroke-width="0.8" />
<text x="408.80" y="643.80" font-size="4.6" fill="#333" text-anchor="middle" >40</text>
<line x1="433.80" y1="631.00" x2="433.80" y2="635.20" stroke="#222" stroke-width="0.8" />
<text x="433.80" y="643.80" font-size="4.6" fill="#333" text-anchor="middle" >45</text>
<line x1="458.80" y1="631.00" x2="458.80" y2="635.20" stroke="#222" stroke-width="0.8" />
<text x="458.80" y="643.80" font-size="4.6" fill="#333" text-anchor="middle" >50</text>
<line x1="483.80" y1="631.00" x2="483.80" y2="635.20" stroke="#222" stroke-width="0.8" />
<text x="483.80" y="643.80" font-size="4.6" fill="#333" text-anchor="middle" >55</text>
<circle cx="233.80" cy="621.90" r="1.50" fill="#1aa0d4" stroke="none" stroke-width="0.5" />
<circle cx="238.80" cy="621.90" r="1.50" fill="#e79a2f" stroke="none" stroke-width="0.5" />
<circle cx="243.80" cy="621.90" r="1.50" fill="#1aa0d4" stroke="none" stroke-width="0.5" />
<circle cx="253.80" cy="621.90" r="1.50" fill="#1aa0d4" stroke="none" stroke-width="0.5" />
<circle cx="258.80" cy="621.90" r="1.50" fill="#1aa0d4" stroke="none" stroke-width="0.5" />
<circle cx="263.80" cy="621.90" r="1.50" fill="#e79a2f" stroke="none" stroke-width="0.5" />
<circle cx="268.80" cy="621.90" r="1.50" fill="#1aa0d4" stroke="none" stroke-width="0.5" />
<circle cx="273.80" cy="621.90" r="1.50" fill="#1aa0d4" stroke="none" stroke-width="0.5" />
<circle cx="278.80" cy="621.90" r="1.50" fill="#c0392b" stroke="none" stroke-width="0.5" />
<circle cx="283.80" cy="621.90" r="1.50" fill="#1aa0d4" stroke="none" stroke-width="0.5" />
<circle cx="293.80" cy="621.90" r="1.50" fill="#1aa0d4" stroke="none" stroke-width="0.5" />
<circle cx="303.80" cy="621.90" r="1.50" fill="#1aa0d4" stroke="none" stroke-width="0.5" />
<circle cx="313.80" cy="621.90" r="1.50" fill="#c0392b" stroke="none" stroke-width="0.5" />
<circle cx="318.80" cy="621.90" r="1.50" fill="#1aa0d4" stroke="none" stroke-width="0.5" />
<circle cx="333.80" cy="621.90" r="1.50" fill="#1aa0d4" stroke="none" stroke-width="0.5" />
<circle cx="338.80" cy="621.90" r="1.50" fill="#1aa0d4" stroke="none" stroke-width="0.5" />
<circle cx="353.80" cy="621.90" r="1.50" fill="#c0392b" stroke="none" stroke-width="0.5" />
<circle cx="378.80" cy="621.90" r="1.50" fill="#c0392b" stroke="none" stroke-width="0.5" />
<circle cx="383.80" cy="621.90" r="1.50" fill="#e79a2f" stroke="none" stroke-width="0.5" />
<circle cx="398.80" cy="621.90" r="1.50" fill="#1aa0d4" stroke="none" stroke-width="0.5" />
<circle cx="233.80" cy="616.50" r="1.50" fill="#c0392b" stroke="none" stroke-width="0.5" />
<circle cx="238.80" cy="616.50" r="1.50" fill="#1aa0d4" stroke="none" stroke-width="0.5" />
<circle cx="263.80" cy="616.50" r="1.50" fill="#c0392b" stroke="none" stroke-width="0.5" />
<circle cx="268.80" cy="616.50" r="1.50" fill="#c0392b" stroke="none" stroke-width="0.5" />
<circle cx="383.80" cy="616.50" r="1.50" fill="#1aa0d4" stroke="none" stroke-width="0.5" />
<circle cx="398.80" cy="616.50" r="1.50" fill="#c0392b" stroke="none" stroke-width="0.5" />
<path d="M213.8,644.5 L213.8,651.3 L220.5,651.3" fill="none" stroke="#111" stroke-width="0.8"/>
<circle cx="220.60" cy="651.30" r="1.60" fill="#111" stroke="none" stroke-width="0.5" />
<text x="225.50" y="653.20" font-size="5.5" fill="#222" text-anchor="start" textLength="25.8" lengthAdjust="spacingAndGlyphs">CALR type2</text>
<text x="225.50" y="659.00" font-size="5.5" fill="#222" text-anchor="start" textLength="9" lengthAdjust="spacingAndGlyphs">ins5</text>
<path d="M267.5,633.0 L267.5,652.5 L276.3,652.5" fill="none" stroke="#111" stroke-width="0.8"/>
<circle cx="276.40" cy="652.50" r="1.60" fill="#111" stroke="none" stroke-width="0.5" />
<text x="280.50" y="654.40" font-size="5.5" fill="#222" text-anchor="start" textLength="25.8" lengthAdjust="spacingAndGlyphs">CALR type1</text>
<text x="280.50" y="660.10" font-size="5.5" fill="#222" text-anchor="start" textLength="12" lengthAdjust="spacingAndGlyphs">del52</text>
<circle cx="443.50" cy="650.80" r="1.50" fill="#e79a2f" stroke="none" stroke-width="0.5" />
<text x="450.80" y="652.50" font-size="4.8" fill="#333" text-anchor="middle" >8</text>
<circle cx="459.00" cy="650.80" r="1.50" fill="#1aa0d4" stroke="none" stroke-width="0.5" />
<text x="466.20" y="652.50" font-size="4.8" fill="#333" text-anchor="middle" >9</text>
<circle cx="474.40" cy="650.80" r="1.50" fill="#c0392b" stroke="none" stroke-width="0.5" />
<text x="482.50" y="652.50" font-size="4.8" fill="#333" text-anchor="middle" >10</text>
<rect x="0.00" y="0.00" width="520.00" height="1.10" fill="#111" />
<rect x="0.00" y="0.00" width="1.50" height="670.00" fill="#4d4f4d" />
<rect x="518.90" y="0.00" width="1.10" height="670.00" fill="#111" />
<rect x="0.00" y="668.60" width="520.00" height="1.40" fill="#555" />
</svg></body></html>
